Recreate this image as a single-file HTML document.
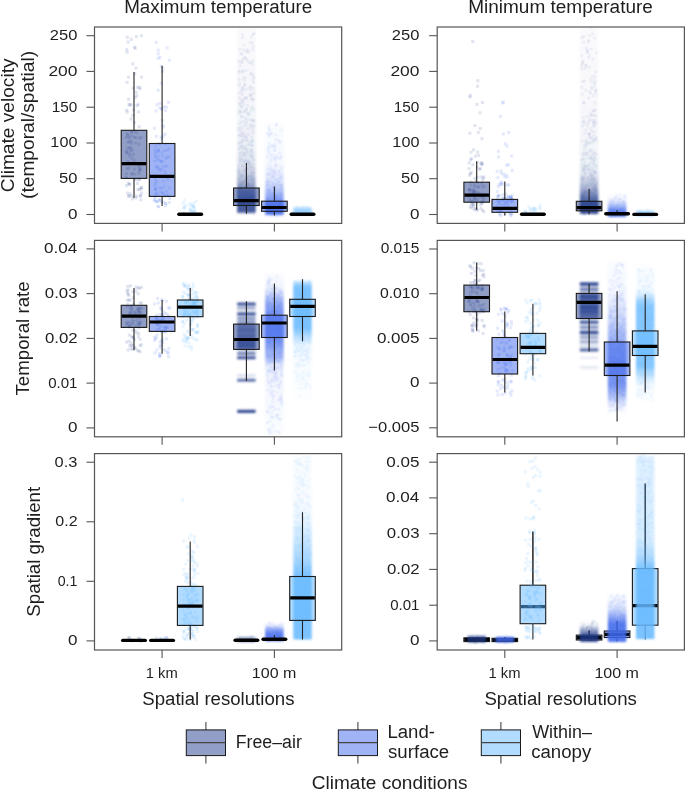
<!DOCTYPE html><html><head><meta charset="utf-8"><style>html,body{margin:0;padding:0;background:#fff;width:685px;height:790px;overflow:hidden}body{position:relative;font-family:"Liberation Sans",sans-serif}</style></head><body><svg width="685" height="790" viewBox="0 0 685 790" style="position:absolute;left:0;top:0;will-change:transform">
<defs>
<filter id="sb" x="-0.2" y="-0.05" width="1.4" height="1.1"><feGaussianBlur stdDeviation="0.9"/></filter>
<filter id="sp" x="-0.2" y="-0.05" width="1.4" height="1.1"><feGaussianBlur stdDeviation="0.45"/></filter>
<clipPath id="cp00"><rect x="94.5" y="27.0" width="247.2" height="196.4"/></clipPath>
<linearGradient id="g1" gradientUnits="userSpaceOnUse" x1="0" y1="27" x2="0" y2="214"><stop offset="0.0000" stop-color="#233d8d" stop-opacity="0.020"/><stop offset="0.1765" stop-color="#233d8d" stop-opacity="0.026"/><stop offset="0.3904" stop-color="#233d8d" stop-opacity="0.042"/><stop offset="0.6043" stop-color="#233d8d" stop-opacity="0.064"/><stop offset="0.6377" stop-color="#233d8d" stop-opacity="0.075"/><stop offset="0.7380" stop-color="#233d8d" stop-opacity="0.140"/><stop offset="0.8182" stop-color="#233d8d" stop-opacity="0.333"/><stop offset="0.8717" stop-color="#233d8d" stop-opacity="0.591"/><stop offset="0.9251" stop-color="#233d8d" stop-opacity="0.785"/><stop offset="0.9893" stop-color="#233d8d" stop-opacity="0.839"/><stop offset="0.9982" stop-color="#233d8d" stop-opacity="0.075"/><stop offset="1.0000" stop-color="#233d8d" stop-opacity="0.000"/></linearGradient>
<linearGradient id="g2" gradientUnits="userSpaceOnUse" x1="0" y1="122" x2="0" y2="216"><stop offset="0.0000" stop-color="#4169eb" stop-opacity="0.000"/><stop offset="0.0426" stop-color="#4169eb" stop-opacity="0.020"/><stop offset="0.4043" stop-color="#4169eb" stop-opacity="0.042"/><stop offset="0.4954" stop-color="#4169eb" stop-opacity="0.075"/><stop offset="0.6170" stop-color="#4169eb" stop-opacity="0.161"/><stop offset="0.7766" stop-color="#4169eb" stop-opacity="0.516"/><stop offset="0.8830" stop-color="#4169eb" stop-opacity="0.839"/><stop offset="0.9787" stop-color="#4169eb" stop-opacity="0.914"/><stop offset="0.9968" stop-color="#4169eb" stop-opacity="0.075"/><stop offset="1.0000" stop-color="#4169eb" stop-opacity="0.000"/></linearGradient>
<linearGradient id="g3" gradientUnits="userSpaceOnUse" x1="0" y1="206" x2="0" y2="215.5"><stop offset="0.0000" stop-color="#65b9ff" stop-opacity="0.000"/><stop offset="0.0670" stop-color="#65b9ff" stop-opacity="0.075"/><stop offset="0.2632" stop-color="#65b9ff" stop-opacity="0.516"/><stop offset="0.9474" stop-color="#65b9ff" stop-opacity="0.731"/><stop offset="0.9902" stop-color="#65b9ff" stop-opacity="0.075"/><stop offset="1.0000" stop-color="#65b9ff" stop-opacity="0.000"/></linearGradient>
<clipPath id="cp01"><rect x="437.2" y="27.0" width="247.2" height="196.4"/></clipPath>
<linearGradient id="g4" gradientUnits="userSpaceOnUse" x1="0" y1="27" x2="0" y2="214.5"><stop offset="0.0000" stop-color="#233d8d" stop-opacity="0.018"/><stop offset="0.3893" stop-color="#233d8d" stop-opacity="0.026"/><stop offset="0.6027" stop-color="#233d8d" stop-opacity="0.042"/><stop offset="0.7398" stop-color="#233d8d" stop-opacity="0.075"/><stop offset="0.7627" stop-color="#233d8d" stop-opacity="0.086"/><stop offset="0.8427" stop-color="#233d8d" stop-opacity="0.301"/><stop offset="0.8960" stop-color="#233d8d" stop-opacity="0.624"/><stop offset="0.9333" stop-color="#233d8d" stop-opacity="0.839"/><stop offset="0.9973" stop-color="#233d8d" stop-opacity="0.871"/><stop offset="0.9996" stop-color="#233d8d" stop-opacity="0.075"/><stop offset="1.0000" stop-color="#233d8d" stop-opacity="0.000"/></linearGradient>
<linearGradient id="g5" gradientUnits="userSpaceOnUse" x1="0" y1="194" x2="0" y2="217"><stop offset="0.0000" stop-color="#4169eb" stop-opacity="0.000"/><stop offset="0.1739" stop-color="#4169eb" stop-opacity="0.053"/><stop offset="0.2145" stop-color="#4169eb" stop-opacity="0.075"/><stop offset="0.4783" stop-color="#4169eb" stop-opacity="0.355"/><stop offset="0.6957" stop-color="#4169eb" stop-opacity="0.785"/><stop offset="0.9783" stop-color="#4169eb" stop-opacity="0.839"/><stop offset="0.9964" stop-color="#4169eb" stop-opacity="0.075"/><stop offset="1.0000" stop-color="#4169eb" stop-opacity="0.000"/></linearGradient>
<linearGradient id="g6" gradientUnits="userSpaceOnUse" x1="0" y1="210" x2="0" y2="216.5"><stop offset="0.0000" stop-color="#65b9ff" stop-opacity="0.000"/><stop offset="0.0538" stop-color="#65b9ff" stop-opacity="0.075"/><stop offset="0.2308" stop-color="#65b9ff" stop-opacity="0.570"/><stop offset="0.9231" stop-color="#65b9ff" stop-opacity="0.677"/><stop offset="0.9846" stop-color="#65b9ff" stop-opacity="0.075"/><stop offset="1.0000" stop-color="#65b9ff" stop-opacity="0.000"/></linearGradient>
<clipPath id="cp10"><rect x="94.5" y="240.4" width="247.2" height="196.4"/></clipPath>
<linearGradient id="g7" gradientUnits="userSpaceOnUse" x1="0" y1="272" x2="0" y2="436"><stop offset="0.0000" stop-color="#4169eb" stop-opacity="0.000"/><stop offset="0.0183" stop-color="#4169eb" stop-opacity="0.020"/><stop offset="0.0793" stop-color="#4169eb" stop-opacity="0.064"/><stop offset="0.0858" stop-color="#4169eb" stop-opacity="0.075"/><stop offset="0.1220" stop-color="#4169eb" stop-opacity="0.194"/><stop offset="0.1585" stop-color="#4169eb" stop-opacity="0.409"/><stop offset="0.2012" stop-color="#4169eb" stop-opacity="0.591"/><stop offset="0.2439" stop-color="#4169eb" stop-opacity="0.699"/><stop offset="0.4146" stop-color="#4169eb" stop-opacity="0.731"/><stop offset="0.4756" stop-color="#4169eb" stop-opacity="0.570"/><stop offset="0.5244" stop-color="#4169eb" stop-opacity="0.462"/><stop offset="0.5671" stop-color="#4169eb" stop-opacity="0.140"/><stop offset="0.6357" stop-color="#4169eb" stop-opacity="0.075"/><stop offset="0.6585" stop-color="#4169eb" stop-opacity="0.064"/><stop offset="0.7805" stop-color="#4169eb" stop-opacity="0.042"/><stop offset="0.9939" stop-color="#4169eb" stop-opacity="0.015"/><stop offset="1.0000" stop-color="#4169eb" stop-opacity="0.000"/></linearGradient>
<linearGradient id="g8" gradientUnits="userSpaceOnUse" x1="0" y1="279.5" x2="0" y2="400"><stop offset="0.0000" stop-color="#65b9ff" stop-opacity="0.000"/><stop offset="0.0065" stop-color="#65b9ff" stop-opacity="0.075"/><stop offset="0.0207" stop-color="#65b9ff" stop-opacity="0.409"/><stop offset="0.0622" stop-color="#65b9ff" stop-opacity="0.839"/><stop offset="0.4025" stop-color="#65b9ff" stop-opacity="0.839"/><stop offset="0.4606" stop-color="#65b9ff" stop-opacity="0.516"/><stop offset="0.5436" stop-color="#65b9ff" stop-opacity="0.140"/><stop offset="0.6183" stop-color="#65b9ff" stop-opacity="0.075"/><stop offset="0.6680" stop-color="#65b9ff" stop-opacity="0.053"/><stop offset="0.9585" stop-color="#65b9ff" stop-opacity="0.020"/><stop offset="1.0000" stop-color="#65b9ff" stop-opacity="0.000"/></linearGradient>
<clipPath id="cp11"><rect x="437.2" y="240.4" width="247.2" height="196.4"/></clipPath>
<linearGradient id="g9" gradientUnits="userSpaceOnUse" x1="0" y1="260" x2="0" y2="414"><stop offset="0.0000" stop-color="#4169eb" stop-opacity="0.000"/><stop offset="0.0130" stop-color="#4169eb" stop-opacity="0.015"/><stop offset="0.1948" stop-color="#4169eb" stop-opacity="0.053"/><stop offset="0.2273" stop-color="#4169eb" stop-opacity="0.075"/><stop offset="0.2597" stop-color="#4169eb" stop-opacity="0.118"/><stop offset="0.3896" stop-color="#4169eb" stop-opacity="0.269"/><stop offset="0.5195" stop-color="#4169eb" stop-opacity="0.516"/><stop offset="0.7532" stop-color="#4169eb" stop-opacity="0.731"/><stop offset="0.8117" stop-color="#4169eb" stop-opacity="0.677"/><stop offset="0.8766" stop-color="#4169eb" stop-opacity="0.462"/><stop offset="0.9286" stop-color="#4169eb" stop-opacity="0.194"/><stop offset="0.9580" stop-color="#4169eb" stop-opacity="0.075"/><stop offset="0.9740" stop-color="#4169eb" stop-opacity="0.042"/><stop offset="1.0000" stop-color="#4169eb" stop-opacity="0.000"/></linearGradient>
<linearGradient id="g10" gradientUnits="userSpaceOnUse" x1="0" y1="265" x2="0" y2="401"><stop offset="0.0000" stop-color="#65b9ff" stop-opacity="0.000"/><stop offset="0.0147" stop-color="#65b9ff" stop-opacity="0.031"/><stop offset="0.1691" stop-color="#65b9ff" stop-opacity="0.053"/><stop offset="0.1809" stop-color="#65b9ff" stop-opacity="0.075"/><stop offset="0.2132" stop-color="#65b9ff" stop-opacity="0.194"/><stop offset="0.2574" stop-color="#65b9ff" stop-opacity="0.570"/><stop offset="0.3015" stop-color="#65b9ff" stop-opacity="0.785"/><stop offset="0.7426" stop-color="#65b9ff" stop-opacity="0.785"/><stop offset="0.8088" stop-color="#65b9ff" stop-opacity="0.409"/><stop offset="0.8824" stop-color="#65b9ff" stop-opacity="0.086"/><stop offset="0.8915" stop-color="#65b9ff" stop-opacity="0.075"/><stop offset="0.9926" stop-color="#65b9ff" stop-opacity="0.015"/><stop offset="1.0000" stop-color="#65b9ff" stop-opacity="0.000"/></linearGradient>
<clipPath id="cp20"><rect x="94.5" y="453.6" width="247.2" height="196.4"/></clipPath>
<linearGradient id="g11" gradientUnits="userSpaceOnUse" x1="0" y1="636" x2="0" y2="642.5"><stop offset="0.0000" stop-color="#233d8d" stop-opacity="0.000"/><stop offset="0.0718" stop-color="#233d8d" stop-opacity="0.075"/><stop offset="0.2308" stop-color="#233d8d" stop-opacity="0.409"/><stop offset="0.8462" stop-color="#233d8d" stop-opacity="0.570"/><stop offset="0.9641" stop-color="#233d8d" stop-opacity="0.075"/><stop offset="1.0000" stop-color="#233d8d" stop-opacity="0.000"/></linearGradient>
<linearGradient id="g12" gradientUnits="userSpaceOnUse" x1="0" y1="622" x2="0" y2="641.8"><stop offset="0.0000" stop-color="#4169eb" stop-opacity="0.000"/><stop offset="0.1414" stop-color="#4169eb" stop-opacity="0.075"/><stop offset="0.1515" stop-color="#4169eb" stop-opacity="0.086"/><stop offset="0.4040" stop-color="#4169eb" stop-opacity="0.624"/><stop offset="0.6061" stop-color="#4169eb" stop-opacity="0.839"/><stop offset="0.9596" stop-color="#4169eb" stop-opacity="0.871"/><stop offset="0.9936" stop-color="#4169eb" stop-opacity="0.075"/><stop offset="1.0000" stop-color="#4169eb" stop-opacity="0.000"/></linearGradient>
<linearGradient id="g13" gradientUnits="userSpaceOnUse" x1="0" y1="455" x2="0" y2="640"><stop offset="0.0000" stop-color="#65b9ff" stop-opacity="0.000"/><stop offset="0.0054" stop-color="#65b9ff" stop-opacity="0.036"/><stop offset="0.2432" stop-color="#65b9ff" stop-opacity="0.053"/><stop offset="0.2865" stop-color="#65b9ff" stop-opacity="0.075"/><stop offset="0.3514" stop-color="#65b9ff" stop-opacity="0.140"/><stop offset="0.4595" stop-color="#65b9ff" stop-opacity="0.355"/><stop offset="0.5676" stop-color="#65b9ff" stop-opacity="0.570"/><stop offset="0.6486" stop-color="#65b9ff" stop-opacity="0.839"/><stop offset="0.9946" stop-color="#65b9ff" stop-opacity="0.839"/><stop offset="0.9991" stop-color="#65b9ff" stop-opacity="0.075"/><stop offset="1.0000" stop-color="#65b9ff" stop-opacity="0.000"/></linearGradient>
<clipPath id="cp21"><rect x="437.2" y="453.6" width="247.2" height="196.4"/></clipPath>
<linearGradient id="g14" gradientUnits="userSpaceOnUse" x1="0" y1="635" x2="0" y2="643"><stop offset="0.0000" stop-color="#233d8d" stop-opacity="0.000"/><stop offset="0.0350" stop-color="#233d8d" stop-opacity="0.075"/><stop offset="0.1875" stop-color="#233d8d" stop-opacity="0.731"/><stop offset="0.8750" stop-color="#233d8d" stop-opacity="0.731"/><stop offset="0.9767" stop-color="#233d8d" stop-opacity="0.075"/><stop offset="1.0000" stop-color="#233d8d" stop-opacity="0.000"/></linearGradient>
<linearGradient id="g15" gradientUnits="userSpaceOnUse" x1="0" y1="636" x2="0" y2="643"><stop offset="0.0000" stop-color="#4169eb" stop-opacity="0.000"/><stop offset="0.0353" stop-color="#4169eb" stop-opacity="0.075"/><stop offset="0.2143" stop-color="#4169eb" stop-opacity="0.839"/><stop offset="0.8571" stop-color="#4169eb" stop-opacity="0.839"/><stop offset="0.9765" stop-color="#4169eb" stop-opacity="0.075"/><stop offset="1.0000" stop-color="#4169eb" stop-opacity="0.000"/></linearGradient>
<linearGradient id="g16" gradientUnits="userSpaceOnUse" x1="0" y1="620" x2="0" y2="642"><stop offset="0.0000" stop-color="#233d8d" stop-opacity="0.000"/><stop offset="0.2273" stop-color="#233d8d" stop-opacity="0.053"/><stop offset="0.2500" stop-color="#233d8d" stop-opacity="0.075"/><stop offset="0.4545" stop-color="#233d8d" stop-opacity="0.462"/><stop offset="0.6818" stop-color="#233d8d" stop-opacity="0.785"/><stop offset="0.9773" stop-color="#233d8d" stop-opacity="0.839"/><stop offset="0.9963" stop-color="#233d8d" stop-opacity="0.075"/><stop offset="1.0000" stop-color="#233d8d" stop-opacity="0.000"/></linearGradient>
<linearGradient id="g17" gradientUnits="userSpaceOnUse" x1="0" y1="593" x2="0" y2="642"><stop offset="0.0000" stop-color="#4169eb" stop-opacity="0.000"/><stop offset="0.0408" stop-color="#4169eb" stop-opacity="0.026"/><stop offset="0.1510" stop-color="#4169eb" stop-opacity="0.075"/><stop offset="0.3469" stop-color="#4169eb" stop-opacity="0.247"/><stop offset="0.5102" stop-color="#4169eb" stop-opacity="0.624"/><stop offset="0.6327" stop-color="#4169eb" stop-opacity="0.871"/><stop offset="0.9898" stop-color="#4169eb" stop-opacity="0.871"/><stop offset="0.9984" stop-color="#4169eb" stop-opacity="0.075"/><stop offset="1.0000" stop-color="#4169eb" stop-opacity="0.000"/></linearGradient>
<linearGradient id="g18" gradientUnits="userSpaceOnUse" x1="0" y1="455" x2="0" y2="639.5"><stop offset="0.0000" stop-color="#65b9ff" stop-opacity="0.000"/><stop offset="0.0046" stop-color="#65b9ff" stop-opacity="0.075"/><stop offset="0.0081" stop-color="#65b9ff" stop-opacity="0.194"/><stop offset="0.4607" stop-color="#65b9ff" stop-opacity="0.269"/><stop offset="0.5583" stop-color="#65b9ff" stop-opacity="0.516"/><stop offset="0.6125" stop-color="#65b9ff" stop-opacity="0.839"/><stop offset="0.9973" stop-color="#65b9ff" stop-opacity="0.839"/><stop offset="0.9996" stop-color="#65b9ff" stop-opacity="0.075"/><stop offset="1.0000" stop-color="#65b9ff" stop-opacity="0.000"/></linearGradient>
</defs>
<line x1="86.5" y1="214.5" x2="94.5" y2="214.5" stroke="#555" stroke-width="1.1"/>
<line x1="86.5" y1="178.7" x2="94.5" y2="178.7" stroke="#555" stroke-width="1.1"/>
<line x1="86.5" y1="143.0" x2="94.5" y2="143.0" stroke="#555" stroke-width="1.1"/>
<line x1="86.5" y1="107.2" x2="94.5" y2="107.2" stroke="#555" stroke-width="1.1"/>
<line x1="86.5" y1="71.4" x2="94.5" y2="71.4" stroke="#555" stroke-width="1.1"/>
<line x1="86.5" y1="35.7" x2="94.5" y2="35.7" stroke="#555" stroke-width="1.1"/>
<line x1="162.1" y1="223.4" x2="162.1" y2="231.4" stroke="#555" stroke-width="1.1"/>
<line x1="274.4" y1="223.4" x2="274.4" y2="231.4" stroke="#555" stroke-width="1.1"/>
<g clip-path="url(#cp00)">
<g filter="url(#sb)">
<rect x="237.1" y="27.0" width="18.6" height="187.0" fill="url(#g1)" rx="1.5"/>
<rect x="265.1" y="122.0" width="18.6" height="94.0" fill="url(#g2)" rx="1.5"/>
<rect x="293.2" y="206.0" width="18.6" height="9.5" fill="url(#g3)" rx="1.5"/>
</g>
<g filter="url(#sp)">
<g fill="#233d8d" fill-opacity="0.14"><rect x="129.8" y="37.9" width="3" height="3"/><rect x="134.9" y="35.1" width="3" height="3"/><rect x="133.1" y="45.7" width="3" height="3"/><rect x="125.6" y="50.8" width="3" height="3"/><rect x="125.3" y="48.1" width="3" height="3"/><rect x="125.8" y="35.8" width="3" height="3"/><rect x="131.3" y="62.3" width="3" height="3"/><rect x="126.6" y="40.5" width="3" height="3"/><rect x="134.5" y="66.6" width="3" height="3"/><rect x="133.7" y="46.8" width="3" height="3"/><rect x="139.9" y="34.2" width="3" height="3"/><rect x="138.1" y="85.9" width="3" height="3"/><rect x="127.0" y="75.6" width="3" height="3"/><rect x="129.5" y="117.5" width="3" height="3"/><rect x="127.5" y="103.4" width="3" height="3"/><rect x="134.7" y="90.8" width="3" height="3"/><rect x="133.2" y="72.3" width="3" height="3"/><rect x="125.6" y="80.9" width="3" height="3"/><rect x="135.3" y="94.2" width="3" height="3"/><rect x="129.6" y="103.6" width="3" height="3"/><rect x="131.8" y="86.5" width="3" height="3"/><rect x="137.1" y="110.4" width="3" height="3"/><rect x="128.5" y="103.0" width="3" height="3"/><rect x="132.9" y="121.0" width="3" height="3"/><rect x="136.1" y="85.8" width="3" height="3"/><rect x="140.0" y="75.6" width="3" height="3"/><rect x="131.2" y="113.9" width="3" height="3"/><rect x="127.1" y="97.8" width="3" height="3"/><rect x="125.3" y="108.6" width="3" height="3"/><rect x="136.6" y="102.9" width="3" height="3"/><rect x="138.4" y="87.3" width="3" height="3"/><rect x="135.5" y="104.2" width="3" height="3"/><rect x="133.7" y="95.9" width="3" height="3"/><rect x="137.8" y="125.2" width="3" height="3"/><rect x="132.1" y="108.3" width="3" height="3"/><rect x="125.6" y="110.6" width="3" height="3"/><rect x="134.8" y="178.2" width="3" height="3"/><rect x="137.5" y="142.7" width="3" height="3"/><rect x="130.7" y="161.9" width="3" height="3"/><rect x="125.1" y="151.6" width="3" height="3"/><rect x="127.3" y="134.4" width="3" height="3"/><rect x="125.6" y="166.9" width="3" height="3"/><rect x="126.7" y="140.9" width="3" height="3"/><rect x="130.8" y="172.1" width="3" height="3"/><rect x="126.0" y="151.0" width="3" height="3"/><rect x="133.3" y="172.7" width="3" height="3"/><rect x="137.5" y="171.7" width="3" height="3"/><rect x="129.0" y="149.3" width="3" height="3"/><rect x="130.3" y="172.7" width="3" height="3"/><rect x="139.6" y="136.0" width="3" height="3"/><rect x="127.4" y="140.1" width="3" height="3"/><rect x="128.3" y="152.7" width="3" height="3"/><rect x="133.9" y="141.6" width="3" height="3"/><rect x="124.8" y="149.4" width="3" height="3"/><rect x="130.5" y="156.8" width="3" height="3"/><rect x="139.6" y="163.0" width="3" height="3"/><rect x="132.7" y="159.4" width="3" height="3"/><rect x="135.2" y="131.2" width="3" height="3"/><rect x="138.7" y="167.5" width="3" height="3"/><rect x="138.3" y="168.4" width="3" height="3"/><rect x="130.8" y="148.4" width="3" height="3"/><rect x="126.3" y="160.2" width="3" height="3"/><rect x="125.7" y="131.9" width="3" height="3"/><rect x="128.0" y="136.6" width="3" height="3"/><rect x="130.0" y="131.1" width="3" height="3"/><rect x="124.7" y="136.1" width="3" height="3"/><rect x="126.3" y="146.7" width="3" height="3"/><rect x="125.1" y="172.2" width="3" height="3"/><rect x="134.3" y="135.9" width="3" height="3"/><rect x="128.6" y="145.9" width="3" height="3"/><rect x="130.4" y="134.6" width="3" height="3"/><rect x="137.9" y="178.2" width="3" height="3"/><rect x="132.0" y="152.7" width="3" height="3"/><rect x="126.0" y="133.6" width="3" height="3"/><rect x="130.0" y="141.7" width="3" height="3"/><rect x="137.6" y="136.6" width="3" height="3"/><rect x="125.1" y="176.0" width="3" height="3"/><rect x="132.9" y="135.8" width="3" height="3"/><rect x="133.2" y="129.9" width="3" height="3"/><rect x="132.9" y="177.4" width="3" height="3"/><rect x="138.2" y="163.3" width="3" height="3"/><rect x="128.8" y="146.8" width="3" height="3"/><rect x="127.3" y="167.1" width="3" height="3"/><rect x="133.0" y="167.5" width="3" height="3"/><rect x="129.8" y="139.7" width="3" height="3"/><rect x="137.4" y="177.7" width="3" height="3"/><rect x="138.0" y="168.8" width="3" height="3"/><rect x="137.5" y="165.5" width="3" height="3"/><rect x="128.2" y="154.4" width="3" height="3"/><rect x="130.2" y="129.9" width="3" height="3"/><rect x="125.1" y="184.1" width="3" height="3"/><rect x="128.7" y="192.4" width="3" height="3"/><rect x="139.6" y="187.4" width="3" height="3"/><rect x="139.3" y="198.3" width="3" height="3"/><rect x="139.6" y="185.8" width="3" height="3"/><rect x="128.1" y="183.0" width="3" height="3"/><rect x="127.8" y="182.6" width="3" height="3"/><rect x="134.4" y="196.5" width="3" height="3"/><rect x="137.8" y="188.1" width="3" height="3"/><rect x="134.9" y="194.5" width="3" height="3"/><rect x="126.0" y="191.7" width="3" height="3"/><rect x="138.9" y="194.1" width="3" height="3"/><rect x="136.4" y="188.1" width="3" height="3"/><rect x="127.5" y="194.3" width="3" height="3"/><rect x="129.9" y="194.5" width="3" height="3"/><rect x="139.9" y="186.4" width="3" height="3"/><rect x="131.0" y="197.4" width="3" height="3"/><rect x="136.0" y="181.9" width="3" height="3"/><rect x="126.7" y="181.5" width="3" height="3"/><rect x="138.8" y="194.6" width="3" height="3"/><rect x="127.0" y="195.0" width="3" height="3"/><rect x="140.0" y="191.6" width="3" height="3"/></g>
<g fill="#4169eb" fill-opacity="0.14"><rect x="158.3" y="55.9" width="3" height="3"/><rect x="154.8" y="40.9" width="3" height="3"/><rect x="167.9" y="58.7" width="3" height="3"/><rect x="161.0" y="66.6" width="3" height="3"/><rect x="159.6" y="64.9" width="3" height="3"/><rect x="165.7" y="46.4" width="3" height="3"/><rect x="156.7" y="48.7" width="3" height="3"/><rect x="156.6" y="56.9" width="3" height="3"/><rect x="156.8" y="52.2" width="3" height="3"/><rect x="154.8" y="134.9" width="3" height="3"/><rect x="158.3" y="101.9" width="3" height="3"/><rect x="161.9" y="134.5" width="3" height="3"/><rect x="159.4" y="135.5" width="3" height="3"/><rect x="160.6" y="107.3" width="3" height="3"/><rect x="161.0" y="69.9" width="3" height="3"/><rect x="159.7" y="81.9" width="3" height="3"/><rect x="152.9" y="126.8" width="3" height="3"/><rect x="155.5" y="103.1" width="3" height="3"/><rect x="164.1" y="109.1" width="3" height="3"/><rect x="157.9" y="106.3" width="3" height="3"/><rect x="161.5" y="125.8" width="3" height="3"/><rect x="154.5" y="109.4" width="3" height="3"/><rect x="156.7" y="88.7" width="3" height="3"/><rect x="164.8" y="105.6" width="3" height="3"/><rect x="161.6" y="124.0" width="3" height="3"/><rect x="167.0" y="100.9" width="3" height="3"/><rect x="162.4" y="105.4" width="3" height="3"/><rect x="160.8" y="119.1" width="3" height="3"/><rect x="159.9" y="107.4" width="3" height="3"/><rect x="160.3" y="137.2" width="3" height="3"/><rect x="163.7" y="132.5" width="3" height="3"/><rect x="167.5" y="155.5" width="3" height="3"/><rect x="161.5" y="192.4" width="3" height="3"/><rect x="165.9" y="148.9" width="3" height="3"/><rect x="154.7" y="165.4" width="3" height="3"/><rect x="153.9" y="154.5" width="3" height="3"/><rect x="153.9" y="177.7" width="3" height="3"/><rect x="165.0" y="189.9" width="3" height="3"/><rect x="155.2" y="180.2" width="3" height="3"/><rect x="163.1" y="149.2" width="3" height="3"/><rect x="166.6" y="193.7" width="3" height="3"/><rect x="156.2" y="192.9" width="3" height="3"/><rect x="159.0" y="167.8" width="3" height="3"/><rect x="168.2" y="186.5" width="3" height="3"/><rect x="155.3" y="164.8" width="3" height="3"/><rect x="160.8" y="159.8" width="3" height="3"/><rect x="155.9" y="158.7" width="3" height="3"/><rect x="164.1" y="142.6" width="3" height="3"/><rect x="161.4" y="165.3" width="3" height="3"/><rect x="153.1" y="159.4" width="3" height="3"/><rect x="162.5" y="169.2" width="3" height="3"/><rect x="153.8" y="194.7" width="3" height="3"/><rect x="165.1" y="194.0" width="3" height="3"/><rect x="154.4" y="155.8" width="3" height="3"/><rect x="153.4" y="183.6" width="3" height="3"/><rect x="157.0" y="148.5" width="3" height="3"/><rect x="159.4" y="190.7" width="3" height="3"/><rect x="165.6" y="155.5" width="3" height="3"/><rect x="155.1" y="191.1" width="3" height="3"/><rect x="161.7" y="179.3" width="3" height="3"/><rect x="154.2" y="144.6" width="3" height="3"/><rect x="163.5" y="164.5" width="3" height="3"/><rect x="153.9" y="192.2" width="3" height="3"/><rect x="162.7" y="184.8" width="3" height="3"/><rect x="154.1" y="187.7" width="3" height="3"/><rect x="153.8" y="188.1" width="3" height="3"/><rect x="159.9" y="159.8" width="3" height="3"/><rect x="161.4" y="191.5" width="3" height="3"/><rect x="157.0" y="148.5" width="3" height="3"/><rect x="161.0" y="154.4" width="3" height="3"/><rect x="154.5" y="150.2" width="3" height="3"/><rect x="153.6" y="152.4" width="3" height="3"/><rect x="157.7" y="158.0" width="3" height="3"/><rect x="164.6" y="157.2" width="3" height="3"/><rect x="160.6" y="151.1" width="3" height="3"/><rect x="158.2" y="142.5" width="3" height="3"/><rect x="156.7" y="142.3" width="3" height="3"/><rect x="164.2" y="171.3" width="3" height="3"/><rect x="155.8" y="167.1" width="3" height="3"/><rect x="167.4" y="147.2" width="3" height="3"/><rect x="165.6" y="164.8" width="3" height="3"/><rect x="160.5" y="186.6" width="3" height="3"/><rect x="158.9" y="168.9" width="3" height="3"/><rect x="163.5" y="194.6" width="3" height="3"/><rect x="158.1" y="186.4" width="3" height="3"/><rect x="163.8" y="175.8" width="3" height="3"/><rect x="159.1" y="160.3" width="3" height="3"/><rect x="153.6" y="148.5" width="3" height="3"/><rect x="153.9" y="181.5" width="3" height="3"/><rect x="156.8" y="150.3" width="3" height="3"/><rect x="154.1" y="186.9" width="3" height="3"/><rect x="166.4" y="177.7" width="3" height="3"/><rect x="157.2" y="154.6" width="3" height="3"/><rect x="157.4" y="166.3" width="3" height="3"/><rect x="155.3" y="200.0" width="3" height="3"/><rect x="156.9" y="205.1" width="3" height="3"/><rect x="168.0" y="201.0" width="3" height="3"/><rect x="156.6" y="205.2" width="3" height="3"/><rect x="157.6" y="199.1" width="3" height="3"/><rect x="152.8" y="199.3" width="3" height="3"/><rect x="160.2" y="200.5" width="3" height="3"/><rect x="155.9" y="200.5" width="3" height="3"/><rect x="152.9" y="198.1" width="3" height="3"/><rect x="154.2" y="199.5" width="3" height="3"/><rect x="153.5" y="195.7" width="3" height="3"/><rect x="157.5" y="197.8" width="3" height="3"/><rect x="161.9" y="200.8" width="3" height="3"/><rect x="164.5" y="202.1" width="3" height="3"/><rect x="164.0" y="204.3" width="3" height="3"/><rect x="158.9" y="198.8" width="3" height="3"/><rect x="168.2" y="197.0" width="3" height="3"/><rect x="164.1" y="201.9" width="3" height="3"/></g>
<g fill="#65b9ff" fill-opacity="0.14"><rect x="181.6" y="201.9" width="3" height="3"/><rect x="194.8" y="199.8" width="3" height="3"/><rect x="192.3" y="201.6" width="3" height="3"/><rect x="183.1" y="198.7" width="3" height="3"/><rect x="188.8" y="201.8" width="3" height="3"/><rect x="193.5" y="210.9" width="3" height="3"/><rect x="190.0" y="211.5" width="3" height="3"/><rect x="191.6" y="209.7" width="3" height="3"/><rect x="184.5" y="203.8" width="3" height="3"/><rect x="183.0" y="206.7" width="3" height="3"/><rect x="182.5" y="211.0" width="3" height="3"/><rect x="189.6" y="209.1" width="3" height="3"/><rect x="190.7" y="209.6" width="3" height="3"/><rect x="188.5" y="203.5" width="3" height="3"/><rect x="193.3" y="210.2" width="3" height="3"/><rect x="188.7" y="208.3" width="3" height="3"/><rect x="191.2" y="204.1" width="3" height="3"/><rect x="192.4" y="205.8" width="3" height="3"/><rect x="182.1" y="205.9" width="3" height="3"/><rect x="192.3" y="205.3" width="3" height="3"/><rect x="192.4" y="212.3" width="3" height="3"/><rect x="188.6" y="206.9" width="3" height="3"/><rect x="188.4" y="209.7" width="3" height="3"/><rect x="192.9" y="209.1" width="3" height="3"/><rect x="190.9" y="204.2" width="3" height="3"/><rect x="183.2" y="205.8" width="3" height="3"/><rect x="192.5" y="206.2" width="3" height="3"/></g>
<path fill="#233d8d" fill-opacity="0.05" d="M252.4 32.0h3v3h-3zM249.9 35.3h3v3h-3zM251.2 41.6h3v3h-3zM251.3 48.0h3v3h-3zM241.6 48.5h3v3h-3zM245.8 50.2h3v3h-3zM243.6 56.3h3v3h-3zM241.3 58.1h3v3h-3zM246.3 59.5h3v3h-3zM247.7 61.0h3v3h-3zM238.8 64.5h3v3h-3zM237.4 69.7h3v3h-3zM249.5 71.9h3v3h-3zM243.2 76.1h3v3h-3zM251.7 78.4h3v3h-3zM252.1 81.1h3v3h-3zM243.5 83.9h3v3h-3zM248.3 86.2h3v3h-3zM240.7 86.7h3v3h-3zM249.2 88.3h3v3h-3zM252.4 91.4h3v3h-3zM248.8 93.4h3v3h-3zM243.3 96.5h3v3h-3zM250.2 97.0h3v3h-3zM241.2 98.4h3v3h-3zM240.3 100.5h3v3h-3zM238.5 103.1h3v3h-3zM240.2 105.4h3v3h-3zM239.6 106.0h3v3h-3zM244.8 108.4h3v3h-3zM243.2 109.5h3v3h-3zM240.5 110.2h3v3h-3zM237.7 111.4h3v3h-3zM240.8 114.9h3v3h-3zM248.5 117.9h3v3h-3zM252.4 119.2h3v3h-3zM239.6 120.4h3v3h-3zM249.3 123.6h3v3h-3zM250.9 124.1h3v3h-3zM239.9 125.9h3v3h-3zM239.4 127.3h3v3h-3zM240.3 130.8h3v3h-3zM247.2 132.8h3v3h-3zM237.8 133.3h3v3h-3zM245.0 134.8h3v3h-3zM244.4 136.4h3v3h-3zM243.9 138.9h3v3h-3zM241.2 139.1h3v3h-3zM246.9 139.8h3v3h-3zM240.4 140.8h3v3h-3zM247.9 142.8h3v3h-3zM250.6 144.0h3v3h-3zM238.6 145.4h3v3h-3zM242.1 147.0h3v3h-3zM245.5 147.6h3v3h-3zM249.5 149.6h3v3h-3zM247.0 151.0h3v3h-3zM238.4 151.9h3v3h-3zM242.2 154.1h3v3h-3zM239.1 154.7h3v3h-3zM239.6 157.2h3v3h-3zM240.2 158.8h3v3h-3zM244.3 159.6h3v3h-3zM243.7 160.1h3v3h-3zM238.6 160.7h3v3h-3zM246.8 161.2h3v3h-3zM245.6 162.1h3v3h-3zM247.1 162.9h3v3h-3zM241.4 164.2h3v3h-3zM248.7 165.0h3v3h-3zM252.1 166.7h3v3h-3zM250.1 167.2h3v3h-3zM243.8 169.8h3v3h-3zM237.3 171.0h3v3h-3zM251.0 174.3h3v3h-3zM250.9 174.8h3v3h-3zM244.8 175.7h3v3h-3zM252.1 176.5h3v3h-3zM244.7 177.9h3v3h-3zM249.1 178.6h3v3h-3zM252.3 180.3h3v3h-3zM250.9 181.3h3v3h-3zM246.9 182.8h3v3h-3zM237.7 183.9h3v3h-3zM242.1 184.7h3v3h-3zM237.3 185.7h3v3h-3zM240.4 186.1h3v3h-3zM237.9 189.4h3v3h-3zM241.1 190.0h3v3h-3zM242.8 191.8h3v3h-3zM249.4 193.5h3v3h-3zM252.3 194.4h3v3h-3zM237.1 195.6h3v3h-3zM247.8 197.5h3v3h-3zM246.6 198.3h3v3h-3zM249.1 199.1h3v3h-3zM239.9 199.9h3v3h-3zM239.5 201.8h3v3h-3zM243.7 203.0h3v3h-3zM251.9 205.5h3v3h-3zM243.2 206.2h3v3h-3zM250.2 207.5h3v3h-3zM251.8 208.3h3v3h-3zM248.3 211.1h3v3h-3z"/>
<path fill="#233d8d" fill-opacity="0.05" d="M241.3 33.1h3v3h-3zM240.7 35.9h3v3h-3zM242.7 43.2h3v3h-3zM245.7 47.9h3v3h-3zM244.5 49.2h3v3h-3zM240.5 52.5h3v3h-3zM243.0 56.2h3v3h-3zM237.6 59.9h3v3h-3zM241.0 60.6h3v3h-3zM249.0 61.2h3v3h-3zM244.5 69.1h3v3h-3zM241.1 70.3h3v3h-3zM249.9 73.1h3v3h-3zM252.3 76.1h3v3h-3zM237.6 78.3h3v3h-3zM237.9 82.2h3v3h-3zM237.6 84.0h3v3h-3zM241.4 86.0h3v3h-3zM241.0 87.2h3v3h-3zM242.2 88.2h3v3h-3zM238.4 91.5h3v3h-3zM250.2 93.6h3v3h-3zM245.0 96.1h3v3h-3zM237.7 96.6h3v3h-3zM251.9 98.1h3v3h-3zM242.0 101.6h3v3h-3zM241.5 103.7h3v3h-3zM240.3 105.0h3v3h-3zM251.3 106.5h3v3h-3zM252.2 108.1h3v3h-3zM249.4 109.6h3v3h-3zM239.0 110.6h3v3h-3zM246.9 112.2h3v3h-3zM239.9 115.2h3v3h-3zM245.0 118.2h3v3h-3zM252.0 119.5h3v3h-3zM244.9 121.5h3v3h-3zM245.4 123.8h3v3h-3zM249.5 124.6h3v3h-3zM247.1 127.0h3v3h-3zM251.1 127.6h3v3h-3zM251.7 131.1h3v3h-3zM242.6 132.8h3v3h-3zM238.0 133.9h3v3h-3zM241.9 135.2h3v3h-3zM244.2 136.1h3v3h-3zM245.3 138.6h3v3h-3zM250.8 139.7h3v3h-3zM250.2 140.3h3v3h-3zM238.3 141.0h3v3h-3zM246.3 143.2h3v3h-3zM240.3 144.1h3v3h-3zM240.3 145.2h3v3h-3zM237.6 147.2h3v3h-3zM249.9 148.1h3v3h-3zM250.1 150.1h3v3h-3zM242.6 151.7h3v3h-3zM250.9 153.6h3v3h-3zM250.3 154.3h3v3h-3zM250.9 154.6h3v3h-3zM252.1 158.1h3v3h-3zM238.8 158.6h3v3h-3zM246.5 159.7h3v3h-3zM247.1 160.7h3v3h-3zM249.3 160.9h3v3h-3zM247.3 161.9h3v3h-3zM246.1 162.8h3v3h-3zM251.9 163.1h3v3h-3zM237.3 164.2h3v3h-3zM249.6 165.2h3v3h-3zM247.1 166.9h3v3h-3zM243.0 167.6h3v3h-3zM251.6 170.4h3v3h-3zM251.9 171.3h3v3h-3zM247.9 174.8h3v3h-3zM241.2 174.6h3v3h-3zM250.2 176.2h3v3h-3zM247.0 176.8h3v3h-3zM237.6 177.9h3v3h-3zM245.7 179.4h3v3h-3zM242.0 180.6h3v3h-3zM240.1 182.5h3v3h-3zM246.4 182.8h3v3h-3zM249.9 184.4h3v3h-3zM246.0 185.0h3v3h-3zM246.3 186.0h3v3h-3zM252.2 187.5h3v3h-3zM246.9 189.9h3v3h-3zM237.3 190.3h3v3h-3zM243.9 191.8h3v3h-3zM238.0 194.0h3v3h-3zM243.8 194.9h3v3h-3zM249.8 196.4h3v3h-3zM242.5 197.0h3v3h-3zM244.4 198.1h3v3h-3zM244.5 199.8h3v3h-3zM243.4 200.3h3v3h-3zM237.4 202.0h3v3h-3zM249.1 202.9h3v3h-3zM238.1 205.3h3v3h-3zM239.6 206.5h3v3h-3zM249.4 207.9h3v3h-3zM248.9 208.6h3v3h-3zM251.7 212.4h3v3h-3z"/>
<path fill="#233d8d" fill-opacity="0.05" d="M251.9 33.1h3v3h-3zM248.8 40.9h3v3h-3zM251.7 45.1h3v3h-3zM237.9 47.9h3v3h-3zM247.3 50.2h3v3h-3zM239.3 52.6h3v3h-3zM245.0 57.8h3v3h-3zM251.1 59.7h3v3h-3zM239.5 60.8h3v3h-3zM251.5 62.8h3v3h-3zM241.0 69.5h3v3h-3zM237.6 70.7h3v3h-3zM252.0 74.2h3v3h-3zM242.2 78.1h3v3h-3zM243.0 78.2h3v3h-3zM242.9 82.5h3v3h-3zM248.8 84.9h3v3h-3zM251.8 86.5h3v3h-3zM244.8 87.5h3v3h-3zM240.2 89.4h3v3h-3zM240.8 92.7h3v3h-3zM248.6 94.1h3v3h-3zM244.5 96.9h3v3h-3zM250.6 98.2h3v3h-3zM240.5 98.7h3v3h-3zM238.1 102.1h3v3h-3zM245.9 104.2h3v3h-3zM249.9 105.7h3v3h-3zM245.0 107.1h3v3h-3zM237.9 109.5h3v3h-3zM243.4 109.9h3v3h-3zM245.9 111.4h3v3h-3zM247.4 113.2h3v3h-3zM244.0 116.8h3v3h-3zM250.5 119.0h3v3h-3zM242.6 120.4h3v3h-3zM237.7 122.6h3v3h-3zM242.7 123.9h3v3h-3zM252.6 124.8h3v3h-3zM237.1 127.0h3v3h-3zM237.1 128.7h3v3h-3zM241.2 132.5h3v3h-3zM241.0 133.5h3v3h-3zM240.2 134.8h3v3h-3zM250.3 136.4h3v3h-3zM241.2 138.8h3v3h-3zM250.8 139.0h3v3h-3zM240.8 140.0h3v3h-3zM250.5 140.2h3v3h-3zM237.5 142.5h3v3h-3zM249.9 143.4h3v3h-3zM241.6 145.0h3v3h-3zM243.7 145.0h3v3h-3zM243.9 147.4h3v3h-3zM244.8 149.7h3v3h-3zM240.4 150.8h3v3h-3zM243.3 151.9h3v3h-3zM244.3 153.8h3v3h-3zM248.7 154.1h3v3h-3zM250.3 155.6h3v3h-3zM243.1 158.5h3v3h-3zM243.3 159.4h3v3h-3zM246.1 160.4h3v3h-3zM242.0 160.8h3v3h-3zM246.9 160.6h3v3h-3zM243.2 161.7h3v3h-3zM248.3 162.8h3v3h-3zM249.0 163.6h3v3h-3zM241.2 164.6h3v3h-3zM245.9 166.6h3v3h-3zM245.7 167.1h3v3h-3zM237.1 168.4h3v3h-3zM250.1 171.3h3v3h-3zM239.5 174.0h3v3h-3zM248.7 174.7h3v3h-3zM239.3 174.7h3v3h-3zM245.9 176.3h3v3h-3zM252.4 177.8h3v3h-3zM250.5 178.2h3v3h-3zM241.3 180.3h3v3h-3zM237.7 181.4h3v3h-3zM246.6 182.8h3v3h-3zM238.7 183.6h3v3h-3zM245.9 184.1h3v3h-3zM239.0 185.4h3v3h-3zM238.7 186.3h3v3h-3zM237.4 188.4h3v3h-3zM244.3 190.0h3v3h-3zM242.0 190.9h3v3h-3zM247.2 192.8h3v3h-3zM248.1 193.9h3v3h-3zM246.5 195.4h3v3h-3zM250.4 197.4h3v3h-3zM245.7 197.4h3v3h-3zM238.5 199.4h3v3h-3zM240.1 199.6h3v3h-3zM247.0 201.9h3v3h-3zM241.2 202.9h3v3h-3zM237.7 203.1h3v3h-3zM252.1 205.6h3v3h-3zM252.6 206.1h3v3h-3zM239.4 208.4h3v3h-3zM239.0 209.2h3v3h-3z"/>
<path fill="#4169eb" fill-opacity="0.05" d="M274.9 122.7h3v3h-3zM267.7 127.7h3v3h-3zM269.6 131.9h3v3h-3zM267.3 132.5h3v3h-3zM268.2 134.5h3v3h-3zM278.2 139.9h3v3h-3zM273.2 142.7h3v3h-3zM273.1 145.3h3v3h-3zM266.6 146.8h3v3h-3zM272.9 149.1h3v3h-3zM271.3 153.5h3v3h-3zM280.0 155.0h3v3h-3zM271.9 155.3h3v3h-3zM275.1 156.6h3v3h-3zM269.9 158.3h3v3h-3zM274.0 163.3h3v3h-3zM274.2 165.5h3v3h-3zM266.1 167.4h3v3h-3zM270.4 168.7h3v3h-3zM272.5 169.4h3v3h-3zM271.6 170.4h3v3h-3zM271.1 171.7h3v3h-3zM274.2 172.0h3v3h-3zM265.8 173.3h3v3h-3zM271.2 173.7h3v3h-3zM280.1 175.2h3v3h-3zM270.1 176.0h3v3h-3zM269.6 176.8h3v3h-3zM265.8 177.7h3v3h-3zM269.2 179.8h3v3h-3zM266.7 180.1h3v3h-3zM270.6 181.1h3v3h-3zM274.8 183.1h3v3h-3zM280.1 184.2h3v3h-3zM280.3 187.1h3v3h-3zM268.1 188.6h3v3h-3zM270.6 192.4h3v3h-3zM279.1 193.8h3v3h-3zM274.0 195.7h3v3h-3zM272.9 197.1h3v3h-3zM267.2 199.1h3v3h-3zM267.9 200.6h3v3h-3zM265.7 202.2h3v3h-3zM278.1 203.9h3v3h-3zM275.9 205.7h3v3h-3zM274.9 207.2h3v3h-3zM276.1 208.4h3v3h-3zM268.2 209.2h3v3h-3zM278.9 210.6h3v3h-3zM269.6 212.2h3v3h-3zM270.2 212.7h3v3h-3zM273.9 214.1h3v3h-3z"/>
<path fill="#4169eb" fill-opacity="0.05" d="M274.9 123.6h3v3h-3zM280.4 128.5h3v3h-3zM266.0 131.9h3v3h-3zM268.0 133.2h3v3h-3zM274.2 138.1h3v3h-3zM278.7 141.1h3v3h-3zM270.1 144.4h3v3h-3zM273.5 145.0h3v3h-3zM273.3 148.4h3v3h-3zM267.4 151.3h3v3h-3zM268.8 153.7h3v3h-3zM269.0 154.7h3v3h-3zM277.7 156.9h3v3h-3zM273.6 157.5h3v3h-3zM269.3 159.2h3v3h-3zM268.2 163.4h3v3h-3zM268.8 166.3h3v3h-3zM271.2 167.7h3v3h-3zM273.2 169.4h3v3h-3zM278.7 169.5h3v3h-3zM278.7 170.3h3v3h-3zM268.0 172.2h3v3h-3zM278.2 173.0h3v3h-3zM280.7 173.8h3v3h-3zM279.9 174.3h3v3h-3zM272.0 175.3h3v3h-3zM279.1 176.3h3v3h-3zM273.0 176.6h3v3h-3zM275.9 178.0h3v3h-3zM267.0 180.1h3v3h-3zM277.7 180.5h3v3h-3zM272.1 182.7h3v3h-3zM265.8 183.5h3v3h-3zM271.2 184.9h3v3h-3zM273.4 187.7h3v3h-3zM267.5 190.4h3v3h-3zM279.9 192.8h3v3h-3zM274.6 194.1h3v3h-3zM271.2 195.5h3v3h-3zM267.1 198.4h3v3h-3zM271.5 200.3h3v3h-3zM279.3 200.9h3v3h-3zM278.2 202.8h3v3h-3zM268.9 205.1h3v3h-3zM276.8 205.9h3v3h-3zM265.9 207.3h3v3h-3zM269.0 209.0h3v3h-3zM268.9 210.3h3v3h-3zM277.8 211.3h3v3h-3zM268.3 212.0h3v3h-3zM270.8 212.6h3v3h-3z"/>
<path fill="#4169eb" fill-opacity="0.05" d="M267.4 125.4h3v3h-3zM268.4 129.2h3v3h-3zM269.7 132.0h3v3h-3zM274.0 133.6h3v3h-3zM276.4 139.0h3v3h-3zM267.7 142.2h3v3h-3zM271.0 144.4h3v3h-3zM267.9 145.6h3v3h-3zM267.0 149.2h3v3h-3zM278.0 152.0h3v3h-3zM265.9 154.8h3v3h-3zM275.0 154.7h3v3h-3zM278.9 156.5h3v3h-3zM273.2 157.7h3v3h-3zM273.4 159.1h3v3h-3zM274.7 163.7h3v3h-3zM280.5 166.6h3v3h-3zM268.6 168.5h3v3h-3zM276.7 169.4h3v3h-3zM277.0 169.8h3v3h-3zM272.2 170.9h3v3h-3zM267.4 172.3h3v3h-3zM268.3 172.7h3v3h-3zM273.2 173.8h3v3h-3zM270.9 174.7h3v3h-3zM277.8 175.6h3v3h-3zM277.9 176.5h3v3h-3zM280.6 177.8h3v3h-3zM274.2 178.8h3v3h-3zM276.9 180.1h3v3h-3zM265.3 180.9h3v3h-3zM266.0 182.9h3v3h-3zM279.1 183.9h3v3h-3zM272.7 185.9h3v3h-3zM267.0 188.4h3v3h-3zM272.0 191.9h3v3h-3zM268.6 192.7h3v3h-3zM273.1 194.8h3v3h-3zM275.4 196.6h3v3h-3zM278.9 199.4h3v3h-3zM276.0 200.1h3v3h-3zM265.7 201.1h3v3h-3zM271.9 203.3h3v3h-3zM277.4 205.1h3v3h-3zM276.6 207.4h3v3h-3zM279.6 207.6h3v3h-3zM270.7 209.2h3v3h-3zM272.0 210.5h3v3h-3zM275.5 211.8h3v3h-3zM269.5 212.1h3v3h-3zM276.3 214.5h3v3h-3z"/>
<path fill="#65b9ff" fill-opacity="0.05" d="M301.7 205.0h3v3h-3zM305.3 205.9h3v3h-3zM304.8 206.2h3v3h-3zM293.8 207.3h3v3h-3zM294.5 207.8h3v3h-3zM304.5 208.5h3v3h-3zM298.5 209.2h3v3h-3zM296.2 209.5h3v3h-3zM297.8 210.8h3v3h-3zM298.6 210.9h3v3h-3zM295.0 212.6h3v3h-3z"/>
<path fill="#65b9ff" fill-opacity="0.05" d="M297.1 205.6h3v3h-3zM297.8 205.6h3v3h-3zM296.1 206.4h3v3h-3zM301.0 207.6h3v3h-3zM295.8 207.7h3v3h-3zM297.6 209.3h3v3h-3zM297.8 209.7h3v3h-3zM308.4 210.5h3v3h-3zM308.1 210.7h3v3h-3zM303.5 212.2h3v3h-3zM307.1 212.8h3v3h-3z"/>
<path fill="#65b9ff" fill-opacity="0.05" d="M295.4 205.5h3v3h-3zM305.4 206.4h3v3h-3zM301.8 206.7h3v3h-3zM297.9 207.8h3v3h-3zM308.3 207.5h3v3h-3zM301.2 209.2h3v3h-3zM302.0 209.7h3v3h-3zM303.8 210.8h3v3h-3zM303.3 210.6h3v3h-3zM302.3 212.2h3v3h-3zM294.7 213.8h3v3h-3z"/>
</g>
<line x1="134.0" y1="72.0" x2="134.0" y2="130.3" stroke="#222" stroke-width="1.1"/>
<line x1="134.0" y1="178.4" x2="134.0" y2="197.9" stroke="#222" stroke-width="1.1"/>
<rect x="121.2" y="130.3" width="25.6" height="48.1" fill="#233d8d" fill-opacity="0.5" stroke="#1a1a1a" stroke-width="1.1"/>
<line x1="121.7" y1="163.7" x2="146.3" y2="163.7" stroke="#000" stroke-width="3.2"/>
<line x1="162.1" y1="65.7" x2="162.1" y2="143.5" stroke="#222" stroke-width="1.1"/>
<line x1="162.1" y1="196.4" x2="162.1" y2="206.0" stroke="#222" stroke-width="1.1"/>
<rect x="149.3" y="143.5" width="25.6" height="52.9" fill="#4169eb" fill-opacity="0.5" stroke="#1a1a1a" stroke-width="1.1"/>
<line x1="149.8" y1="176.4" x2="174.4" y2="176.4" stroke="#000" stroke-width="3.2"/>
<line x1="178.9" y1="214.3" x2="201.5" y2="214.3" stroke="#000" stroke-width="3.4" stroke-linecap="round"/>
<line x1="246.4" y1="163.0" x2="246.4" y2="188.0" stroke="#222" stroke-width="1.1"/>
<line x1="246.4" y1="205.5" x2="246.4" y2="213.8" stroke="#222" stroke-width="1.1"/>
<rect x="233.6" y="188.0" width="25.6" height="17.5" fill="#233d8d" fill-opacity="0.5" stroke="#1a1a1a" stroke-width="1.1"/>
<line x1="234.1" y1="200.7" x2="258.7" y2="200.7" stroke="#000" stroke-width="3.2"/>
<line x1="274.4" y1="186.5" x2="274.4" y2="201.2" stroke="#222" stroke-width="1.1"/>
<line x1="274.4" y1="211.3" x2="274.4" y2="215.6" stroke="#222" stroke-width="1.1"/>
<rect x="261.6" y="201.2" width="25.6" height="10.1" fill="#4169eb" fill-opacity="0.5" stroke="#1a1a1a" stroke-width="1.1"/>
<line x1="262.1" y1="207.5" x2="286.7" y2="207.5" stroke="#000" stroke-width="3.2"/>
<line x1="291.2" y1="214.3" x2="313.8" y2="214.3" stroke="#000" stroke-width="3.4" stroke-linecap="round"/>
</g>
<rect x="94.5" y="27.0" width="247.2" height="196.4" fill="none" stroke="#555" stroke-width="1.2"/>
<line x1="429.2" y1="214.5" x2="437.2" y2="214.5" stroke="#555" stroke-width="1.1"/>
<line x1="429.2" y1="178.7" x2="437.2" y2="178.7" stroke="#555" stroke-width="1.1"/>
<line x1="429.2" y1="143.0" x2="437.2" y2="143.0" stroke="#555" stroke-width="1.1"/>
<line x1="429.2" y1="107.2" x2="437.2" y2="107.2" stroke="#555" stroke-width="1.1"/>
<line x1="429.2" y1="71.4" x2="437.2" y2="71.4" stroke="#555" stroke-width="1.1"/>
<line x1="429.2" y1="35.7" x2="437.2" y2="35.7" stroke="#555" stroke-width="1.1"/>
<line x1="504.8" y1="223.4" x2="504.8" y2="231.4" stroke="#555" stroke-width="1.1"/>
<line x1="617.1" y1="223.4" x2="617.1" y2="231.4" stroke="#555" stroke-width="1.1"/>
<g clip-path="url(#cp01)">
<g filter="url(#sb)">
<rect x="579.8" y="27.0" width="18.6" height="187.5" fill="url(#g4)" rx="1.5"/>
<rect x="607.8" y="194.0" width="18.6" height="23.0" fill="url(#g5)" rx="1.5"/>
<rect x="635.9" y="210.0" width="18.6" height="6.5" fill="url(#g6)" rx="1.5"/>
</g>
<g filter="url(#sp)">
<g fill="#233d8d" fill-opacity="0.14"><rect x="471.3" y="40.0" width="3" height="3"/><rect x="476.0" y="84.8" width="3" height="3"/><rect x="476.3" y="79.2" width="3" height="3"/><rect x="475.4" y="102.9" width="3" height="3"/><rect x="468.7" y="93.9" width="3" height="3"/><rect x="468.5" y="95.5" width="3" height="3"/><rect x="480.9" y="101.0" width="3" height="3"/><rect x="478.5" y="111.3" width="3" height="3"/><rect x="469.2" y="158.2" width="3" height="3"/><rect x="478.7" y="127.1" width="3" height="3"/><rect x="480.4" y="137.2" width="3" height="3"/><rect x="470.1" y="157.1" width="3" height="3"/><rect x="476.2" y="150.6" width="3" height="3"/><rect x="469.5" y="150.7" width="3" height="3"/><rect x="468.3" y="131.8" width="3" height="3"/><rect x="473.2" y="124.0" width="3" height="3"/><rect x="476.7" y="131.0" width="3" height="3"/><rect x="472.1" y="148.3" width="3" height="3"/><rect x="474.0" y="154.6" width="3" height="3"/><rect x="477.1" y="154.0" width="3" height="3"/><rect x="476.2" y="181.4" width="3" height="3"/><rect x="481.0" y="162.7" width="3" height="3"/><rect x="479.0" y="167.0" width="3" height="3"/><rect x="479.3" y="175.5" width="3" height="3"/><rect x="480.3" y="161.6" width="3" height="3"/><rect x="473.2" y="176.9" width="3" height="3"/><rect x="482.2" y="176.5" width="3" height="3"/><rect x="468.1" y="173.6" width="3" height="3"/><rect x="469.0" y="172.2" width="3" height="3"/><rect x="479.9" y="161.3" width="3" height="3"/><rect x="481.8" y="175.4" width="3" height="3"/><rect x="471.4" y="163.3" width="3" height="3"/><rect x="474.4" y="179.5" width="3" height="3"/><rect x="476.5" y="161.3" width="3" height="3"/><rect x="467.7" y="161.3" width="3" height="3"/><rect x="479.9" y="163.1" width="3" height="3"/><rect x="476.0" y="165.8" width="3" height="3"/><rect x="478.1" y="168.0" width="3" height="3"/><rect x="469.7" y="180.4" width="3" height="3"/><rect x="475.8" y="175.7" width="3" height="3"/><rect x="480.0" y="182.2" width="3" height="3"/><rect x="467.6" y="167.1" width="3" height="3"/><rect x="469.8" y="171.0" width="3" height="3"/><rect x="481.0" y="178.5" width="3" height="3"/><rect x="468.0" y="188.4" width="3" height="3"/><rect x="480.2" y="201.8" width="3" height="3"/><rect x="473.5" y="196.3" width="3" height="3"/><rect x="469.9" y="206.3" width="3" height="3"/><rect x="473.5" y="207.1" width="3" height="3"/><rect x="476.9" y="185.5" width="3" height="3"/><rect x="472.5" y="189.3" width="3" height="3"/><rect x="481.3" y="199.4" width="3" height="3"/><rect x="468.1" y="188.1" width="3" height="3"/><rect x="473.0" y="196.1" width="3" height="3"/><rect x="476.4" y="194.0" width="3" height="3"/><rect x="472.9" y="183.7" width="3" height="3"/><rect x="476.4" y="192.5" width="3" height="3"/><rect x="467.7" y="195.9" width="3" height="3"/><rect x="482.8" y="184.7" width="3" height="3"/><rect x="469.7" y="201.6" width="3" height="3"/><rect x="471.7" y="190.9" width="3" height="3"/><rect x="475.2" y="190.6" width="3" height="3"/><rect x="476.3" y="197.8" width="3" height="3"/><rect x="482.3" y="210.3" width="3" height="3"/><rect x="467.9" y="198.6" width="3" height="3"/><rect x="479.4" y="207.1" width="3" height="3"/><rect x="479.5" y="200.6" width="3" height="3"/><rect x="477.3" y="193.3" width="3" height="3"/><rect x="471.8" y="205.0" width="3" height="3"/><rect x="481.0" y="208.8" width="3" height="3"/><rect x="478.0" y="191.7" width="3" height="3"/><rect x="479.3" y="203.5" width="3" height="3"/><rect x="475.3" y="200.7" width="3" height="3"/><rect x="472.9" y="198.4" width="3" height="3"/><rect x="473.7" y="185.1" width="3" height="3"/><rect x="472.7" y="192.2" width="3" height="3"/><rect x="482.8" y="196.5" width="3" height="3"/><rect x="473.1" y="190.1" width="3" height="3"/><rect x="471.1" y="192.9" width="3" height="3"/><rect x="469.5" y="183.7" width="3" height="3"/><rect x="481.0" y="195.7" width="3" height="3"/><rect x="474.4" y="198.9" width="3" height="3"/><rect x="472.1" y="188.1" width="3" height="3"/><rect x="468.4" y="191.6" width="3" height="3"/><rect x="472.2" y="203.1" width="3" height="3"/><rect x="476.0" y="208.8" width="3" height="3"/><rect x="472.7" y="208.4" width="3" height="3"/><rect x="476.5" y="185.7" width="3" height="3"/><rect x="470.2" y="199.2" width="3" height="3"/><rect x="482.8" y="193.1" width="3" height="3"/><rect x="479.5" y="195.1" width="3" height="3"/><rect x="480.9" y="185.3" width="3" height="3"/><rect x="475.0" y="207.8" width="3" height="3"/><rect x="471.7" y="190.5" width="3" height="3"/><rect x="467.8" y="187.9" width="3" height="3"/><rect x="471.6" y="202.5" width="3" height="3"/><rect x="470.8" y="194.3" width="3" height="3"/><rect x="470.5" y="199.8" width="3" height="3"/><rect x="480.9" y="201.0" width="3" height="3"/><rect x="470.5" y="203.3" width="3" height="3"/><rect x="482.4" y="199.7" width="3" height="3"/><rect x="468.6" y="205.4" width="3" height="3"/><rect x="481.1" y="192.7" width="3" height="3"/><rect x="469.5" y="188.6" width="3" height="3"/></g>
<g fill="#4169eb" fill-opacity="0.14"><rect x="503.9" y="142.3" width="3" height="3"/><rect x="505.5" y="144.6" width="3" height="3"/><rect x="498.8" y="114.8" width="3" height="3"/><rect x="507.2" y="130.9" width="3" height="3"/><rect x="501.8" y="132.4" width="3" height="3"/><rect x="500.8" y="101.4" width="3" height="3"/><rect x="502.0" y="100.8" width="3" height="3"/><rect x="505.3" y="163.6" width="3" height="3"/><rect x="503.2" y="175.4" width="3" height="3"/><rect x="499.5" y="169.4" width="3" height="3"/><rect x="495.7" y="190.1" width="3" height="3"/><rect x="504.3" y="192.9" width="3" height="3"/><rect x="496.4" y="176.1" width="3" height="3"/><rect x="506.8" y="163.3" width="3" height="3"/><rect x="497.0" y="155.5" width="3" height="3"/><rect x="497.7" y="183.0" width="3" height="3"/><rect x="496.9" y="185.1" width="3" height="3"/><rect x="502.1" y="172.7" width="3" height="3"/><rect x="504.7" y="173.5" width="3" height="3"/><rect x="505.8" y="175.6" width="3" height="3"/><rect x="500.7" y="181.8" width="3" height="3"/><rect x="499.5" y="180.5" width="3" height="3"/><rect x="507.4" y="183.4" width="3" height="3"/><rect x="500.3" y="183.3" width="3" height="3"/><rect x="510.7" y="168.9" width="3" height="3"/><rect x="499.8" y="172.0" width="3" height="3"/><rect x="510.2" y="154.4" width="3" height="3"/><rect x="495.6" y="169.9" width="3" height="3"/><rect x="505.7" y="183.3" width="3" height="3"/><rect x="501.2" y="193.0" width="3" height="3"/><rect x="499.1" y="182.5" width="3" height="3"/><rect x="496.9" y="149.8" width="3" height="3"/><rect x="497.6" y="194.8" width="3" height="3"/><rect x="503.3" y="205.2" width="3" height="3"/><rect x="498.3" y="213.2" width="3" height="3"/><rect x="501.2" y="196.6" width="3" height="3"/><rect x="498.3" y="209.0" width="3" height="3"/><rect x="509.9" y="196.9" width="3" height="3"/><rect x="496.0" y="209.8" width="3" height="3"/><rect x="499.3" y="214.1" width="3" height="3"/><rect x="503.3" y="206.9" width="3" height="3"/><rect x="500.9" y="210.3" width="3" height="3"/><rect x="502.7" y="200.3" width="3" height="3"/><rect x="509.6" y="195.8" width="3" height="3"/><rect x="506.9" y="194.9" width="3" height="3"/><rect x="505.6" y="201.9" width="3" height="3"/><rect x="509.0" y="194.8" width="3" height="3"/><rect x="504.3" y="202.1" width="3" height="3"/><rect x="509.8" y="213.3" width="3" height="3"/><rect x="505.3" y="198.2" width="3" height="3"/><rect x="499.4" y="199.0" width="3" height="3"/><rect x="502.3" y="198.4" width="3" height="3"/><rect x="498.7" y="209.4" width="3" height="3"/><rect x="505.5" y="199.8" width="3" height="3"/><rect x="511.0" y="198.0" width="3" height="3"/><rect x="504.4" y="196.8" width="3" height="3"/><rect x="509.0" y="211.8" width="3" height="3"/><rect x="499.7" y="209.3" width="3" height="3"/><rect x="508.3" y="199.4" width="3" height="3"/><rect x="500.7" y="203.7" width="3" height="3"/><rect x="509.4" y="196.9" width="3" height="3"/><rect x="506.2" y="206.0" width="3" height="3"/><rect x="502.6" y="205.7" width="3" height="3"/><rect x="509.3" y="197.9" width="3" height="3"/><rect x="509.3" y="201.1" width="3" height="3"/><rect x="507.7" y="211.6" width="3" height="3"/><rect x="498.3" y="211.6" width="3" height="3"/><rect x="511.0" y="199.7" width="3" height="3"/><rect x="495.9" y="195.8" width="3" height="3"/><rect x="510.7" y="193.7" width="3" height="3"/><rect x="509.7" y="196.7" width="3" height="3"/><rect x="507.0" y="195.5" width="3" height="3"/><rect x="498.1" y="207.8" width="3" height="3"/><rect x="496.9" y="200.6" width="3" height="3"/><rect x="509.8" y="208.5" width="3" height="3"/><rect x="509.3" y="214.1" width="3" height="3"/><rect x="496.0" y="198.4" width="3" height="3"/><rect x="507.9" y="208.0" width="3" height="3"/><rect x="496.1" y="204.1" width="3" height="3"/><rect x="499.1" y="202.5" width="3" height="3"/><rect x="497.1" y="193.9" width="3" height="3"/><rect x="511.0" y="200.1" width="3" height="3"/><rect x="509.2" y="196.0" width="3" height="3"/><rect x="503.1" y="196.4" width="3" height="3"/><rect x="502.2" y="197.3" width="3" height="3"/><rect x="506.2" y="196.6" width="3" height="3"/><rect x="507.0" y="204.0" width="3" height="3"/><rect x="497.3" y="200.9" width="3" height="3"/><rect x="503.2" y="212.8" width="3" height="3"/><rect x="501.0" y="198.0" width="3" height="3"/><rect x="510.6" y="212.0" width="3" height="3"/><rect x="506.9" y="199.2" width="3" height="3"/><rect x="498.3" y="199.1" width="3" height="3"/><rect x="496.6" y="194.4" width="3" height="3"/><rect x="503.4" y="202.1" width="3" height="3"/></g>
<g fill="#65b9ff" fill-opacity="0.14"><rect x="532.3" y="207.1" width="3" height="3"/><rect x="523.8" y="210.4" width="3" height="3"/><rect x="533.8" y="208.9" width="3" height="3"/><rect x="532.2" y="210.4" width="3" height="3"/><rect x="538.9" y="212.2" width="3" height="3"/><rect x="534.8" y="207.5" width="3" height="3"/><rect x="528.6" y="207.7" width="3" height="3"/><rect x="538.8" y="207.4" width="3" height="3"/><rect x="529.6" y="207.6" width="3" height="3"/><rect x="525.8" y="213.5" width="3" height="3"/><rect x="523.7" y="209.6" width="3" height="3"/><rect x="538.1" y="206.0" width="3" height="3"/><rect x="533.1" y="207.3" width="3" height="3"/><rect x="527.4" y="205.5" width="3" height="3"/><rect x="525.4" y="211.9" width="3" height="3"/><rect x="535.8" y="212.6" width="3" height="3"/><rect x="524.4" y="210.4" width="3" height="3"/><rect x="528.7" y="210.0" width="3" height="3"/><rect x="532.2" y="206.7" width="3" height="3"/><rect x="538.8" y="203.5" width="3" height="3"/><rect x="535.2" y="212.0" width="3" height="3"/><rect x="531.6" y="209.4" width="3" height="3"/></g>
<path fill="#233d8d" fill-opacity="0.05" d="M589.6 25.9h3v3h-3zM582.5 34.9h3v3h-3zM586.9 39.0h3v3h-3zM584.9 46.6h3v3h-3zM586.2 50.3h3v3h-3zM588.0 53.7h3v3h-3zM591.4 57.7h3v3h-3zM580.7 62.8h3v3h-3zM584.1 64.1h3v3h-3zM580.6 67.3h3v3h-3zM593.5 75.5h3v3h-3zM583.1 79.4h3v3h-3zM593.9 80.8h3v3h-3zM580.3 85.7h3v3h-3zM594.2 88.5h3v3h-3zM588.2 90.0h3v3h-3zM580.6 92.7h3v3h-3zM582.4 101.0h3v3h-3zM593.7 108.5h3v3h-3zM588.8 112.6h3v3h-3zM592.5 114.2h3v3h-3zM582.2 116.2h3v3h-3zM589.7 118.6h3v3h-3zM581.9 120.4h3v3h-3zM592.0 120.9h3v3h-3zM582.9 122.2h3v3h-3zM581.2 124.3h3v3h-3zM589.2 126.7h3v3h-3zM592.6 130.6h3v3h-3zM587.7 132.5h3v3h-3zM587.8 135.7h3v3h-3zM590.1 136.3h3v3h-3zM591.5 138.9h3v3h-3zM580.5 140.2h3v3h-3zM585.7 141.5h3v3h-3zM585.2 141.6h3v3h-3zM584.6 144.5h3v3h-3zM589.7 147.9h3v3h-3zM589.6 150.1h3v3h-3zM586.2 152.4h3v3h-3zM594.5 152.9h3v3h-3zM590.2 154.0h3v3h-3zM590.3 156.9h3v3h-3zM590.8 157.4h3v3h-3zM583.1 157.6h3v3h-3zM579.9 158.8h3v3h-3zM588.7 161.6h3v3h-3zM580.8 163.3h3v3h-3zM595.2 164.0h3v3h-3zM582.8 164.7h3v3h-3zM582.9 165.1h3v3h-3zM580.8 165.6h3v3h-3zM584.6 166.5h3v3h-3zM587.2 168.4h3v3h-3zM583.1 168.1h3v3h-3zM581.9 169.0h3v3h-3zM593.7 170.3h3v3h-3zM589.0 172.1h3v3h-3zM590.3 174.4h3v3h-3zM585.9 176.4h3v3h-3zM580.6 176.6h3v3h-3zM591.6 177.6h3v3h-3zM593.1 178.8h3v3h-3zM580.6 179.3h3v3h-3zM586.5 180.6h3v3h-3zM585.5 181.7h3v3h-3zM586.9 183.2h3v3h-3zM593.1 183.7h3v3h-3zM590.8 183.6h3v3h-3zM592.9 185.0h3v3h-3zM593.7 186.9h3v3h-3zM594.4 188.7h3v3h-3zM583.9 189.9h3v3h-3zM590.6 190.6h3v3h-3zM584.5 191.0h3v3h-3zM581.4 193.2h3v3h-3zM583.3 194.9h3v3h-3zM582.6 195.6h3v3h-3zM594.8 197.7h3v3h-3zM585.7 199.4h3v3h-3zM587.0 203.4h3v3h-3zM594.5 207.8h3v3h-3zM581.1 207.6h3v3h-3zM581.7 209.5h3v3h-3zM587.6 210.8h3v3h-3zM583.3 211.8h3v3h-3z"/>
<path fill="#233d8d" fill-opacity="0.05" d="M591.1 32.3h3v3h-3zM580.5 36.2h3v3h-3zM586.8 40.2h3v3h-3zM589.7 47.4h3v3h-3zM585.8 50.8h3v3h-3zM580.2 54.3h3v3h-3zM581.6 59.6h3v3h-3zM585.0 64.3h3v3h-3zM587.8 65.7h3v3h-3zM594.1 70.3h3v3h-3zM589.1 77.6h3v3h-3zM581.4 80.0h3v3h-3zM592.8 82.1h3v3h-3zM589.8 85.6h3v3h-3zM584.3 88.7h3v3h-3zM594.2 91.5h3v3h-3zM592.1 94.1h3v3h-3zM582.1 101.5h3v3h-3zM592.1 109.3h3v3h-3zM590.9 113.0h3v3h-3zM594.2 114.5h3v3h-3zM587.6 118.9h3v3h-3zM592.1 119.0h3v3h-3zM592.3 120.8h3v3h-3zM594.6 121.6h3v3h-3zM585.9 123.9h3v3h-3zM592.8 124.2h3v3h-3zM584.4 128.5h3v3h-3zM583.3 131.9h3v3h-3zM588.0 133.0h3v3h-3zM589.5 136.2h3v3h-3zM594.0 137.2h3v3h-3zM584.9 139.1h3v3h-3zM591.7 140.6h3v3h-3zM590.9 141.3h3v3h-3zM587.8 141.9h3v3h-3zM582.9 144.2h3v3h-3zM588.5 149.3h3v3h-3zM592.7 150.8h3v3h-3zM581.5 152.2h3v3h-3zM585.1 152.7h3v3h-3zM593.1 155.8h3v3h-3zM587.6 156.9h3v3h-3zM589.4 157.1h3v3h-3zM590.7 158.5h3v3h-3zM592.4 160.5h3v3h-3zM592.9 162.4h3v3h-3zM587.8 163.8h3v3h-3zM587.3 164.1h3v3h-3zM584.2 164.6h3v3h-3zM594.6 166.0h3v3h-3zM585.3 166.6h3v3h-3zM586.9 167.6h3v3h-3zM581.8 168.1h3v3h-3zM591.2 169.2h3v3h-3zM583.1 169.3h3v3h-3zM593.6 171.2h3v3h-3zM589.7 173.4h3v3h-3zM582.0 175.5h3v3h-3zM581.3 177.0h3v3h-3zM590.3 177.5h3v3h-3zM592.4 178.1h3v3h-3zM592.6 178.8h3v3h-3zM591.4 180.0h3v3h-3zM595.0 180.8h3v3h-3zM589.3 182.5h3v3h-3zM589.3 183.3h3v3h-3zM593.5 183.6h3v3h-3zM584.9 184.0h3v3h-3zM583.7 185.2h3v3h-3zM592.7 187.2h3v3h-3zM594.1 188.8h3v3h-3zM586.6 190.3h3v3h-3zM583.8 191.0h3v3h-3zM581.6 192.7h3v3h-3zM586.7 193.9h3v3h-3zM580.0 195.1h3v3h-3zM581.3 196.0h3v3h-3zM592.1 198.1h3v3h-3zM589.8 201.2h3v3h-3zM583.4 204.7h3v3h-3zM583.5 207.6h3v3h-3zM594.2 207.7h3v3h-3zM580.0 209.8h3v3h-3zM592.3 211.5h3v3h-3zM583.2 212.0h3v3h-3z"/>
<path fill="#233d8d" fill-opacity="0.05" d="M588.0 34.3h3v3h-3zM592.8 36.4h3v3h-3zM582.1 40.8h3v3h-3zM585.6 48.5h3v3h-3zM595.0 51.4h3v3h-3zM587.2 55.9h3v3h-3zM581.2 60.9h3v3h-3zM579.9 64.5h3v3h-3zM583.8 67.1h3v3h-3zM590.9 74.4h3v3h-3zM592.3 78.2h3v3h-3zM590.1 80.6h3v3h-3zM592.9 85.1h3v3h-3zM590.4 87.6h3v3h-3zM594.3 89.0h3v3h-3zM589.1 92.0h3v3h-3zM587.0 96.5h3v3h-3zM593.5 101.6h3v3h-3zM591.5 109.6h3v3h-3zM589.4 114.3h3v3h-3zM586.2 115.0h3v3h-3zM594.0 118.9h3v3h-3zM582.3 120.0h3v3h-3zM586.6 120.9h3v3h-3zM592.9 122.1h3v3h-3zM592.2 123.8h3v3h-3zM592.2 124.5h3v3h-3zM590.1 129.9h3v3h-3zM587.6 132.5h3v3h-3zM592.4 134.1h3v3h-3zM594.7 136.2h3v3h-3zM592.8 138.3h3v3h-3zM594.7 139.4h3v3h-3zM588.3 140.7h3v3h-3zM584.1 141.1h3v3h-3zM584.7 142.5h3v3h-3zM583.0 147.5h3v3h-3zM585.5 150.0h3v3h-3zM583.6 151.5h3v3h-3zM591.9 152.7h3v3h-3zM582.7 153.4h3v3h-3zM588.8 156.1h3v3h-3zM593.8 156.9h3v3h-3zM580.9 157.3h3v3h-3zM592.9 158.7h3v3h-3zM583.3 161.3h3v3h-3zM591.9 162.5h3v3h-3zM583.3 163.9h3v3h-3zM586.9 164.3h3v3h-3zM582.9 165.4h3v3h-3zM591.1 165.9h3v3h-3zM589.7 167.0h3v3h-3zM581.5 167.6h3v3h-3zM588.6 168.3h3v3h-3zM592.5 169.4h3v3h-3zM592.8 169.9h3v3h-3zM583.6 172.0h3v3h-3zM591.1 173.5h3v3h-3zM589.1 175.0h3v3h-3zM592.3 176.5h3v3h-3zM582.2 177.5h3v3h-3zM587.8 178.1h3v3h-3zM589.5 178.8h3v3h-3zM589.9 180.6h3v3h-3zM591.2 181.4h3v3h-3zM581.0 182.6h3v3h-3zM580.3 183.8h3v3h-3zM594.5 183.7h3v3h-3zM594.3 184.9h3v3h-3zM591.8 186.9h3v3h-3zM588.2 188.0h3v3h-3zM583.1 189.1h3v3h-3zM583.8 190.5h3v3h-3zM589.1 191.3h3v3h-3zM591.8 193.1h3v3h-3zM580.3 194.9h3v3h-3zM593.9 195.1h3v3h-3zM588.7 196.1h3v3h-3zM581.5 198.6h3v3h-3zM590.2 201.9h3v3h-3zM594.4 206.3h3v3h-3zM593.3 207.6h3v3h-3zM586.9 208.2h3v3h-3zM587.1 210.4h3v3h-3zM593.9 211.6h3v3h-3zM582.8 212.9h3v3h-3z"/>
<path fill="#4169eb" fill-opacity="0.05" d="M618.4 193.0h3v3h-3zM623.4 195.2h3v3h-3zM617.3 197.1h3v3h-3zM611.5 199.6h3v3h-3zM612.0 200.5h3v3h-3zM618.0 202.8h3v3h-3zM609.0 203.4h3v3h-3zM619.4 204.3h3v3h-3zM622.8 205.4h3v3h-3zM619.3 206.2h3v3h-3zM609.0 207.8h3v3h-3zM613.6 209.5h3v3h-3zM612.5 209.6h3v3h-3zM612.1 210.0h3v3h-3zM609.6 211.5h3v3h-3zM608.7 212.0h3v3h-3zM610.2 214.8h3v3h-3z"/>
<path fill="#4169eb" fill-opacity="0.05" d="M615.2 193.8h3v3h-3zM614.1 196.2h3v3h-3zM618.9 197.6h3v3h-3zM616.9 199.7h3v3h-3zM622.1 200.6h3v3h-3zM609.6 202.6h3v3h-3zM616.7 203.1h3v3h-3zM615.2 204.3h3v3h-3zM611.4 205.2h3v3h-3zM611.3 206.6h3v3h-3zM618.8 208.2h3v3h-3zM618.8 210.0h3v3h-3zM610.9 210.0h3v3h-3zM607.9 210.1h3v3h-3zM622.9 211.1h3v3h-3zM620.2 213.9h3v3h-3zM613.8 214.9h3v3h-3z"/>
<path fill="#4169eb" fill-opacity="0.05" d="M623.3 194.3h3v3h-3zM613.6 196.6h3v3h-3zM609.9 199.3h3v3h-3zM621.2 200.5h3v3h-3zM621.0 202.9h3v3h-3zM622.8 203.1h3v3h-3zM611.5 203.7h3v3h-3zM615.2 204.8h3v3h-3zM614.2 206.0h3v3h-3zM612.0 206.5h3v3h-3zM610.5 208.2h3v3h-3zM610.9 209.9h3v3h-3zM616.1 210.4h3v3h-3zM611.4 210.6h3v3h-3zM612.8 211.7h3v3h-3zM613.1 213.7h3v3h-3z"/>
<path fill="#65b9ff" fill-opacity="0.05" d="M645.0 208.6h3v3h-3zM638.9 209.8h3v3h-3zM640.4 211.3h3v3h-3zM639.4 211.9h3v3h-3zM637.3 212.0h3v3h-3zM644.0 212.7h3v3h-3zM646.3 213.6h3v3h-3z"/>
<path fill="#65b9ff" fill-opacity="0.05" d="M646.9 208.9h3v3h-3zM639.9 210.7h3v3h-3zM640.8 211.8h3v3h-3zM640.8 212.4h3v3h-3zM643.9 212.1h3v3h-3zM647.1 212.8h3v3h-3zM647.0 214.4h3v3h-3z"/>
<path fill="#65b9ff" fill-opacity="0.05" d="M637.4 209.3h3v3h-3zM647.2 211.1h3v3h-3zM640.0 211.6h3v3h-3zM636.8 212.3h3v3h-3zM637.8 212.8h3v3h-3zM637.0 213.2h3v3h-3zM650.4 215.0h3v3h-3z"/>
</g>
<line x1="476.7" y1="161.2" x2="476.7" y2="182.2" stroke="#222" stroke-width="1.1"/>
<line x1="476.7" y1="202.2" x2="476.7" y2="209.8" stroke="#222" stroke-width="1.1"/>
<rect x="463.9" y="182.2" width="25.6" height="20.0" fill="#233d8d" fill-opacity="0.5" stroke="#1a1a1a" stroke-width="1.1"/>
<line x1="464.4" y1="195.1" x2="489.0" y2="195.1" stroke="#000" stroke-width="3.2"/>
<line x1="504.8" y1="181.4" x2="504.8" y2="199.4" stroke="#222" stroke-width="1.1"/>
<line x1="504.8" y1="212.3" x2="504.8" y2="215.6" stroke="#222" stroke-width="1.1"/>
<rect x="492.0" y="199.4" width="25.6" height="12.9" fill="#4169eb" fill-opacity="0.5" stroke="#1a1a1a" stroke-width="1.1"/>
<line x1="492.5" y1="208.3" x2="517.1" y2="208.3" stroke="#000" stroke-width="3.2"/>
<line x1="521.6" y1="214.3" x2="544.2" y2="214.3" stroke="#000" stroke-width="3.4" stroke-linecap="round"/>
<line x1="589.1" y1="188.9" x2="589.1" y2="201.3" stroke="#222" stroke-width="1.1"/>
<line x1="589.1" y1="210.8" x2="589.1" y2="214.3" stroke="#222" stroke-width="1.1"/>
<rect x="576.3" y="201.3" width="25.6" height="9.5" fill="#233d8d" fill-opacity="0.5" stroke="#1a1a1a" stroke-width="1.1"/>
<line x1="576.8" y1="207.6" x2="601.4" y2="207.6" stroke="#000" stroke-width="3.2"/>
<line x1="617.1" y1="210.0" x2="617.1" y2="213.7" stroke="#222" stroke-width="1"/>
<line x1="605.8" y1="213.7" x2="628.4" y2="213.7" stroke="#000" stroke-width="3.4" stroke-linecap="round"/>
<line x1="633.9" y1="214.4" x2="656.5" y2="214.4" stroke="#000" stroke-width="3.4" stroke-linecap="round"/>
</g>
<rect x="437.2" y="27.0" width="247.2" height="196.4" fill="none" stroke="#555" stroke-width="1.2"/>
<line x1="86.5" y1="427.9" x2="94.5" y2="427.9" stroke="#555" stroke-width="1.1"/>
<line x1="86.5" y1="383.1" x2="94.5" y2="383.1" stroke="#555" stroke-width="1.1"/>
<line x1="86.5" y1="338.4" x2="94.5" y2="338.4" stroke="#555" stroke-width="1.1"/>
<line x1="86.5" y1="293.6" x2="94.5" y2="293.6" stroke="#555" stroke-width="1.1"/>
<line x1="86.5" y1="248.9" x2="94.5" y2="248.9" stroke="#555" stroke-width="1.1"/>
<line x1="162.1" y1="436.8" x2="162.1" y2="444.8" stroke="#555" stroke-width="1.1"/>
<line x1="274.4" y1="436.8" x2="274.4" y2="444.8" stroke="#555" stroke-width="1.1"/>
<g clip-path="url(#cp10)">
<g filter="url(#sb)">
<rect x="237.1" y="303.0" width="18.6" height="50.0" fill="#233d8d" fill-opacity="0.12" rx="1"/>
<rect x="237.1" y="302.5" width="18.6" height="3.0" fill="#233d8d" fill-opacity="0.85" rx="1"/>
<rect x="237.1" y="307.0" width="18.6" height="2.0" fill="#233d8d" fill-opacity="0.4" rx="1"/>
<rect x="237.1" y="312.5" width="18.6" height="3.0" fill="#233d8d" fill-opacity="0.85" rx="1"/>
<rect x="237.1" y="317.2" width="18.6" height="2.5" fill="#233d8d" fill-opacity="0.55" rx="1"/>
<rect x="237.1" y="321.1" width="18.6" height="2.5" fill="#233d8d" fill-opacity="0.55" rx="1"/>
<rect x="237.1" y="324.1" width="18.6" height="25.3" fill="#233d8d" fill-opacity="0.45" rx="1"/>
<rect x="237.1" y="328.8" width="18.6" height="2.5" fill="#233d8d" fill-opacity="0.25" rx="1"/>
<rect x="237.1" y="334.8" width="18.6" height="2.5" fill="#233d8d" fill-opacity="0.25" rx="1"/>
<rect x="237.1" y="340.0" width="18.6" height="8.0" fill="#233d8d" fill-opacity="0.5" rx="1"/>
<rect x="237.1" y="352.0" width="18.6" height="3.0" fill="#233d8d" fill-opacity="0.6" rx="1"/>
<rect x="237.1" y="356.2" width="18.6" height="3.0" fill="#233d8d" fill-opacity="0.85" rx="1"/>
<rect x="237.1" y="374.5" width="18.6" height="2.0" fill="#233d8d" fill-opacity="0.2" rx="1"/>
<rect x="237.1" y="378.7" width="18.6" height="3.0" fill="#233d8d" fill-opacity="0.7" rx="1"/>
<rect x="237.1" y="409.8" width="18.6" height="3.2" fill="#233d8d" fill-opacity="0.9" rx="1"/>
<rect x="265.1" y="272.0" width="18.6" height="164.0" fill="url(#g7)" rx="1.5"/>
<rect x="293.2" y="279.5" width="18.6" height="120.5" fill="url(#g8)" rx="1.5"/>
</g>
<g filter="url(#sp)">
<g fill="#233d8d" fill-opacity="0.14"><rect x="134.4" y="285.6" width="3" height="3"/><rect x="131.8" y="296.2" width="3" height="3"/><rect x="129.0" y="284.2" width="3" height="3"/><rect x="140.0" y="301.7" width="3" height="3"/><rect x="126.7" y="292.8" width="3" height="3"/><rect x="134.4" y="289.5" width="3" height="3"/><rect x="125.8" y="298.5" width="3" height="3"/><rect x="136.7" y="292.2" width="3" height="3"/><rect x="126.0" y="291.4" width="3" height="3"/><rect x="126.2" y="302.8" width="3" height="3"/><rect x="125.5" y="289.3" width="3" height="3"/><rect x="136.7" y="286.2" width="3" height="3"/><rect x="126.4" y="284.9" width="3" height="3"/><rect x="127.3" y="294.1" width="3" height="3"/><rect x="137.7" y="286.9" width="3" height="3"/><rect x="127.4" y="298.8" width="3" height="3"/><rect x="131.3" y="290.3" width="3" height="3"/><rect x="126.6" y="288.4" width="3" height="3"/><rect x="139.9" y="285.8" width="3" height="3"/><rect x="128.7" y="298.3" width="3" height="3"/><rect x="138.6" y="301.6" width="3" height="3"/><rect x="132.1" y="302.6" width="3" height="3"/><rect x="134.1" y="310.1" width="3" height="3"/><rect x="132.0" y="320.0" width="3" height="3"/><rect x="136.2" y="306.5" width="3" height="3"/><rect x="127.7" y="325.5" width="3" height="3"/><rect x="126.4" y="322.2" width="3" height="3"/><rect x="130.0" y="309.2" width="3" height="3"/><rect x="128.7" y="314.3" width="3" height="3"/><rect x="140.2" y="306.9" width="3" height="3"/><rect x="138.0" y="310.9" width="3" height="3"/><rect x="127.4" y="320.6" width="3" height="3"/><rect x="130.0" y="307.8" width="3" height="3"/><rect x="131.2" y="322.4" width="3" height="3"/><rect x="138.2" y="316.7" width="3" height="3"/><rect x="124.9" y="321.1" width="3" height="3"/><rect x="134.2" y="324.2" width="3" height="3"/><rect x="139.6" y="311.0" width="3" height="3"/><rect x="137.9" y="322.3" width="3" height="3"/><rect x="128.8" y="311.9" width="3" height="3"/><rect x="130.5" y="311.6" width="3" height="3"/><rect x="130.6" y="306.0" width="3" height="3"/><rect x="128.2" y="324.4" width="3" height="3"/><rect x="131.1" y="318.1" width="3" height="3"/><rect x="138.5" y="320.9" width="3" height="3"/><rect x="128.5" y="324.7" width="3" height="3"/><rect x="137.2" y="326.3" width="3" height="3"/><rect x="136.1" y="320.9" width="3" height="3"/><rect x="137.4" y="309.3" width="3" height="3"/><rect x="134.9" y="312.3" width="3" height="3"/><rect x="137.8" y="306.6" width="3" height="3"/><rect x="133.1" y="311.2" width="3" height="3"/><rect x="137.5" y="311.4" width="3" height="3"/><rect x="137.9" y="323.0" width="3" height="3"/><rect x="138.4" y="306.7" width="3" height="3"/><rect x="139.3" y="320.6" width="3" height="3"/><rect x="135.3" y="318.5" width="3" height="3"/><rect x="125.4" y="323.5" width="3" height="3"/><rect x="133.2" y="314.0" width="3" height="3"/><rect x="130.0" y="321.5" width="3" height="3"/><rect x="136.9" y="323.5" width="3" height="3"/><rect x="128.0" y="311.3" width="3" height="3"/><rect x="128.6" y="305.8" width="3" height="3"/><rect x="129.8" y="304.1" width="3" height="3"/><rect x="137.1" y="308.7" width="3" height="3"/><rect x="125.8" y="305.1" width="3" height="3"/><rect x="136.3" y="308.1" width="3" height="3"/><rect x="131.9" y="336.1" width="3" height="3"/><rect x="137.2" y="349.4" width="3" height="3"/><rect x="129.5" y="341.7" width="3" height="3"/><rect x="138.7" y="337.8" width="3" height="3"/><rect x="138.7" y="344.1" width="3" height="3"/><rect x="129.6" y="347.5" width="3" height="3"/><rect x="133.6" y="329.0" width="3" height="3"/><rect x="133.9" y="346.4" width="3" height="3"/><rect x="132.8" y="338.1" width="3" height="3"/><rect x="131.2" y="347.6" width="3" height="3"/><rect x="135.1" y="331.5" width="3" height="3"/><rect x="130.4" y="335.2" width="3" height="3"/><rect x="139.7" y="343.2" width="3" height="3"/><rect x="126.6" y="348.4" width="3" height="3"/><rect x="125.2" y="340.7" width="3" height="3"/><rect x="131.4" y="343.7" width="3" height="3"/><rect x="131.4" y="328.7" width="3" height="3"/><rect x="132.9" y="346.2" width="3" height="3"/><rect x="137.0" y="335.1" width="3" height="3"/><rect x="128.2" y="344.4" width="3" height="3"/><rect x="137.2" y="331.8" width="3" height="3"/><rect x="138.5" y="350.3" width="3" height="3"/><rect x="131.5" y="335.6" width="3" height="3"/><rect x="135.8" y="348.8" width="3" height="3"/><rect x="127.8" y="333.7" width="3" height="3"/><rect x="129.8" y="344.1" width="3" height="3"/><rect x="127.6" y="339.6" width="3" height="3"/></g>
<g fill="#4169eb" fill-opacity="0.14"><rect x="160.6" y="308.5" width="3" height="3"/><rect x="155.0" y="313.7" width="3" height="3"/><rect x="168.4" y="306.6" width="3" height="3"/><rect x="165.2" y="299.8" width="3" height="3"/><rect x="167.0" y="306.4" width="3" height="3"/><rect x="164.6" y="312.1" width="3" height="3"/><rect x="158.4" y="313.1" width="3" height="3"/><rect x="156.0" y="296.9" width="3" height="3"/><rect x="160.6" y="312.7" width="3" height="3"/><rect x="166.8" y="313.7" width="3" height="3"/><rect x="160.8" y="313.3" width="3" height="3"/><rect x="161.5" y="299.1" width="3" height="3"/><rect x="162.6" y="311.0" width="3" height="3"/><rect x="159.4" y="307.3" width="3" height="3"/><rect x="156.8" y="301.5" width="3" height="3"/><rect x="159.4" y="305.7" width="3" height="3"/><rect x="160.1" y="298.2" width="3" height="3"/><rect x="152.9" y="302.6" width="3" height="3"/><rect x="164.0" y="326.5" width="3" height="3"/><rect x="156.5" y="318.6" width="3" height="3"/><rect x="160.9" y="317.3" width="3" height="3"/><rect x="162.2" y="329.0" width="3" height="3"/><rect x="156.0" y="323.9" width="3" height="3"/><rect x="164.0" y="326.5" width="3" height="3"/><rect x="163.9" y="325.9" width="3" height="3"/><rect x="157.1" y="327.9" width="3" height="3"/><rect x="167.2" y="315.3" width="3" height="3"/><rect x="167.5" y="321.6" width="3" height="3"/><rect x="154.1" y="315.6" width="3" height="3"/><rect x="165.2" y="325.3" width="3" height="3"/><rect x="155.0" y="321.9" width="3" height="3"/><rect x="162.8" y="330.5" width="3" height="3"/><rect x="158.0" y="326.8" width="3" height="3"/><rect x="156.6" y="317.7" width="3" height="3"/><rect x="155.3" y="321.1" width="3" height="3"/><rect x="162.4" y="319.4" width="3" height="3"/><rect x="155.3" y="318.0" width="3" height="3"/><rect x="154.1" y="317.6" width="3" height="3"/><rect x="157.7" y="322.6" width="3" height="3"/><rect x="155.7" y="322.2" width="3" height="3"/><rect x="159.7" y="330.1" width="3" height="3"/><rect x="160.4" y="329.6" width="3" height="3"/><rect x="160.2" y="317.7" width="3" height="3"/><rect x="162.0" y="316.8" width="3" height="3"/><rect x="155.4" y="315.7" width="3" height="3"/><rect x="163.7" y="330.0" width="3" height="3"/><rect x="159.1" y="320.2" width="3" height="3"/><rect x="159.4" y="320.1" width="3" height="3"/><rect x="163.6" y="320.8" width="3" height="3"/><rect x="155.2" y="328.3" width="3" height="3"/><rect x="161.7" y="314.6" width="3" height="3"/><rect x="166.1" y="326.2" width="3" height="3"/><rect x="158.3" y="324.6" width="3" height="3"/><rect x="167.2" y="320.9" width="3" height="3"/><rect x="159.5" y="319.3" width="3" height="3"/><rect x="161.4" y="325.1" width="3" height="3"/><rect x="164.3" y="329.7" width="3" height="3"/><rect x="155.1" y="320.4" width="3" height="3"/><rect x="166.1" y="351.1" width="3" height="3"/><rect x="162.0" y="348.1" width="3" height="3"/><rect x="158.1" y="355.1" width="3" height="3"/><rect x="161.4" y="341.0" width="3" height="3"/><rect x="155.6" y="333.5" width="3" height="3"/><rect x="166.8" y="351.3" width="3" height="3"/><rect x="153.2" y="338.9" width="3" height="3"/><rect x="160.3" y="343.4" width="3" height="3"/><rect x="158.5" y="353.8" width="3" height="3"/><rect x="158.3" y="344.3" width="3" height="3"/><rect x="167.3" y="347.1" width="3" height="3"/><rect x="160.2" y="339.1" width="3" height="3"/><rect x="158.8" y="346.3" width="3" height="3"/><rect x="165.1" y="337.3" width="3" height="3"/><rect x="158.6" y="340.6" width="3" height="3"/><rect x="158.5" y="354.2" width="3" height="3"/><rect x="161.2" y="337.7" width="3" height="3"/><rect x="158.0" y="351.9" width="3" height="3"/><rect x="155.3" y="348.4" width="3" height="3"/><rect x="153.1" y="335.5" width="3" height="3"/><rect x="153.7" y="351.4" width="3" height="3"/><rect x="155.1" y="336.4" width="3" height="3"/><rect x="153.7" y="337.4" width="3" height="3"/><rect x="164.2" y="349.2" width="3" height="3"/><rect x="167.0" y="355.1" width="3" height="3"/></g>
<g fill="#65b9ff" fill-opacity="0.14"><rect x="189.5" y="297.2" width="3" height="3"/><rect x="182.3" y="297.2" width="3" height="3"/><rect x="187.7" y="284.8" width="3" height="3"/><rect x="192.6" y="296.1" width="3" height="3"/><rect x="186.9" y="283.1" width="3" height="3"/><rect x="194.5" y="294.3" width="3" height="3"/><rect x="190.2" y="298.1" width="3" height="3"/><rect x="181.5" y="282.5" width="3" height="3"/><rect x="182.8" y="281.9" width="3" height="3"/><rect x="191.9" y="292.2" width="3" height="3"/><rect x="182.7" y="284.3" width="3" height="3"/><rect x="183.7" y="291.9" width="3" height="3"/><rect x="191.4" y="298.0" width="3" height="3"/><rect x="186.5" y="298.1" width="3" height="3"/><rect x="187.7" y="288.1" width="3" height="3"/><rect x="184.9" y="285.5" width="3" height="3"/><rect x="196.1" y="298.4" width="3" height="3"/><rect x="191.9" y="284.5" width="3" height="3"/><rect x="183.7" y="284.1" width="3" height="3"/><rect x="186.4" y="294.0" width="3" height="3"/><rect x="181.8" y="290.5" width="3" height="3"/><rect x="191.5" y="282.1" width="3" height="3"/><rect x="187.8" y="294.9" width="3" height="3"/><rect x="189.9" y="289.2" width="3" height="3"/><rect x="194.6" y="291.7" width="3" height="3"/><rect x="186.2" y="288.2" width="3" height="3"/><rect x="195.6" y="296.1" width="3" height="3"/><rect x="195.2" y="291.0" width="3" height="3"/><rect x="183.1" y="284.5" width="3" height="3"/><rect x="186.9" y="293.2" width="3" height="3"/><rect x="181.0" y="295.1" width="3" height="3"/><rect x="193.2" y="290.3" width="3" height="3"/><rect x="181.0" y="295.1" width="3" height="3"/><rect x="187.4" y="292.9" width="3" height="3"/><rect x="189.8" y="293.9" width="3" height="3"/><rect x="187.3" y="297.8" width="3" height="3"/><rect x="195.8" y="297.3" width="3" height="3"/><rect x="190.5" y="286.9" width="3" height="3"/><rect x="186.8" y="286.1" width="3" height="3"/><rect x="195.0" y="295.0" width="3" height="3"/><rect x="193.2" y="312.5" width="3" height="3"/><rect x="196.4" y="310.2" width="3" height="3"/><rect x="185.9" y="311.4" width="3" height="3"/><rect x="185.0" y="308.9" width="3" height="3"/><rect x="183.4" y="313.1" width="3" height="3"/><rect x="188.5" y="303.2" width="3" height="3"/><rect x="195.3" y="299.9" width="3" height="3"/><rect x="195.4" y="311.4" width="3" height="3"/><rect x="183.2" y="311.4" width="3" height="3"/><rect x="189.8" y="313.9" width="3" height="3"/><rect x="190.0" y="305.8" width="3" height="3"/><rect x="195.5" y="300.0" width="3" height="3"/><rect x="193.0" y="300.2" width="3" height="3"/><rect x="185.2" y="300.4" width="3" height="3"/><rect x="194.5" y="306.0" width="3" height="3"/><rect x="192.2" y="302.9" width="3" height="3"/><rect x="192.3" y="309.5" width="3" height="3"/><rect x="182.4" y="306.9" width="3" height="3"/><rect x="192.2" y="302.1" width="3" height="3"/><rect x="191.1" y="303.2" width="3" height="3"/><rect x="186.7" y="314.1" width="3" height="3"/><rect x="195.6" y="315.5" width="3" height="3"/><rect x="187.6" y="308.2" width="3" height="3"/><rect x="193.5" y="311.4" width="3" height="3"/><rect x="188.0" y="313.2" width="3" height="3"/><rect x="187.2" y="314.7" width="3" height="3"/><rect x="188.3" y="300.5" width="3" height="3"/><rect x="192.6" y="301.0" width="3" height="3"/><rect x="191.5" y="299.4" width="3" height="3"/><rect x="196.3" y="307.7" width="3" height="3"/><rect x="192.5" y="300.7" width="3" height="3"/><rect x="190.8" y="304.9" width="3" height="3"/><rect x="184.8" y="312.4" width="3" height="3"/><rect x="181.4" y="306.6" width="3" height="3"/><rect x="182.3" y="313.0" width="3" height="3"/><rect x="194.8" y="299.1" width="3" height="3"/><rect x="188.1" y="306.5" width="3" height="3"/><rect x="192.1" y="310.9" width="3" height="3"/><rect x="186.3" y="314.4" width="3" height="3"/><rect x="183.8" y="300.8" width="3" height="3"/><rect x="193.6" y="300.5" width="3" height="3"/><rect x="183.8" y="307.0" width="3" height="3"/><rect x="186.1" y="301.3" width="3" height="3"/><rect x="195.4" y="306.6" width="3" height="3"/><rect x="193.2" y="302.8" width="3" height="3"/><rect x="195.1" y="302.3" width="3" height="3"/><rect x="195.0" y="308.9" width="3" height="3"/><rect x="196.0" y="311.6" width="3" height="3"/><rect x="190.7" y="307.6" width="3" height="3"/><rect x="194.2" y="306.0" width="3" height="3"/><rect x="182.4" y="314.0" width="3" height="3"/><rect x="193.5" y="310.1" width="3" height="3"/><rect x="192.5" y="302.4" width="3" height="3"/><rect x="188.1" y="312.5" width="3" height="3"/><rect x="195.9" y="314.2" width="3" height="3"/><rect x="183.4" y="310.1" width="3" height="3"/><rect x="189.5" y="305.4" width="3" height="3"/><rect x="183.5" y="300.8" width="3" height="3"/><rect x="188.2" y="306.9" width="3" height="3"/><rect x="185.1" y="304.8" width="3" height="3"/><rect x="189.5" y="311.5" width="3" height="3"/><rect x="190.1" y="301.3" width="3" height="3"/><rect x="194.7" y="304.8" width="3" height="3"/><rect x="195.9" y="315.2" width="3" height="3"/><rect x="183.1" y="308.4" width="3" height="3"/><rect x="196.0" y="324.4" width="3" height="3"/><rect x="189.4" y="322.7" width="3" height="3"/><rect x="181.3" y="320.2" width="3" height="3"/><rect x="182.8" y="322.0" width="3" height="3"/><rect x="190.7" y="328.4" width="3" height="3"/><rect x="195.7" y="331.3" width="3" height="3"/><rect x="186.6" y="337.3" width="3" height="3"/><rect x="190.8" y="328.0" width="3" height="3"/><rect x="194.4" y="330.9" width="3" height="3"/><rect x="186.5" y="329.4" width="3" height="3"/><rect x="185.6" y="337.8" width="3" height="3"/><rect x="184.7" y="337.9" width="3" height="3"/><rect x="181.9" y="315.7" width="3" height="3"/><rect x="189.5" y="320.2" width="3" height="3"/><rect x="188.8" y="318.2" width="3" height="3"/><rect x="194.0" y="330.9" width="3" height="3"/><rect x="191.6" y="336.8" width="3" height="3"/><rect x="196.4" y="331.1" width="3" height="3"/><rect x="192.0" y="315.5" width="3" height="3"/><rect x="181.7" y="325.3" width="3" height="3"/><rect x="196.0" y="322.7" width="3" height="3"/><rect x="189.8" y="315.7" width="3" height="3"/><rect x="187.4" y="336.3" width="3" height="3"/><rect x="190.1" y="334.5" width="3" height="3"/><rect x="181.1" y="320.2" width="3" height="3"/><rect x="183.7" y="334.6" width="3" height="3"/><rect x="182.5" y="336.9" width="3" height="3"/><rect x="185.1" y="335.8" width="3" height="3"/><rect x="188.9" y="322.9" width="3" height="3"/><rect x="196.0" y="324.8" width="3" height="3"/><rect x="191.8" y="317.0" width="3" height="3"/><rect x="193.9" y="338.1" width="3" height="3"/><rect x="182.6" y="332.7" width="3" height="3"/><rect x="185.1" y="318.9" width="3" height="3"/><rect x="186.6" y="330.7" width="3" height="3"/><rect x="195.8" y="338.4" width="3" height="3"/><rect x="196.4" y="329.8" width="3" height="3"/><rect x="191.1" y="319.2" width="3" height="3"/><rect x="192.2" y="328.2" width="3" height="3"/><rect x="186.5" y="336.2" width="3" height="3"/><rect x="184.9" y="340.2" width="3" height="3"/><rect x="183.4" y="340.3" width="3" height="3"/><rect x="190.1" y="348.1" width="3" height="3"/><rect x="183.4" y="344.5" width="3" height="3"/><rect x="189.9" y="345.2" width="3" height="3"/><rect x="187.3" y="345.0" width="3" height="3"/><rect x="181.1" y="339.2" width="3" height="3"/><rect x="187.5" y="341.3" width="3" height="3"/></g>
<path fill="#4169eb" fill-opacity="0.05" d="M275.6 274.9h3v3h-3zM267.5 278.7h3v3h-3zM274.9 280.0h3v3h-3zM266.5 282.0h3v3h-3zM271.8 284.6h3v3h-3zM272.8 285.9h3v3h-3zM274.1 287.0h3v3h-3zM270.8 288.4h3v3h-3zM271.0 290.3h3v3h-3zM278.6 290.8h3v3h-3zM270.4 291.2h3v3h-3zM273.4 292.1h3v3h-3zM269.6 292.7h3v3h-3zM276.9 293.9h3v3h-3zM265.6 295.5h3v3h-3zM276.6 295.7h3v3h-3zM280.3 296.6h3v3h-3zM271.8 297.1h3v3h-3zM265.3 299.2h3v3h-3zM279.3 301.1h3v3h-3zM268.4 302.2h3v3h-3zM265.7 303.9h3v3h-3zM271.1 305.4h3v3h-3zM272.3 305.6h3v3h-3zM270.9 308.4h3v3h-3zM275.3 310.3h3v3h-3zM267.6 311.3h3v3h-3zM265.5 312.1h3v3h-3zM275.9 312.6h3v3h-3zM269.9 314.3h3v3h-3zM273.9 314.9h3v3h-3zM278.3 316.1h3v3h-3zM273.4 316.9h3v3h-3zM267.6 318.1h3v3h-3zM268.7 319.0h3v3h-3zM272.2 320.1h3v3h-3zM268.6 320.6h3v3h-3zM270.5 321.9h3v3h-3zM276.4 322.7h3v3h-3zM271.9 323.5h3v3h-3zM278.6 324.9h3v3h-3zM267.4 325.6h3v3h-3zM273.0 326.9h3v3h-3zM276.4 328.1h3v3h-3zM278.2 329.9h3v3h-3zM276.4 332.1h3v3h-3zM270.0 334.5h3v3h-3zM271.4 335.9h3v3h-3zM274.9 337.8h3v3h-3zM275.1 338.3h3v3h-3zM277.4 339.7h3v3h-3zM267.9 340.7h3v3h-3zM278.1 342.7h3v3h-3zM269.4 344.1h3v3h-3zM274.2 346.4h3v3h-3zM277.9 351.2h3v3h-3zM266.1 353.3h3v3h-3zM269.4 354.3h3v3h-3zM279.0 355.6h3v3h-3zM275.2 356.4h3v3h-3zM275.4 357.6h3v3h-3zM270.9 358.8h3v3h-3zM268.9 359.9h3v3h-3zM269.3 359.9h3v3h-3zM268.4 360.7h3v3h-3zM269.3 361.7h3v3h-3zM268.9 365.1h3v3h-3zM276.2 365.9h3v3h-3zM276.1 366.3h3v3h-3zM270.3 367.4h3v3h-3zM270.1 367.6h3v3h-3zM270.3 369.0h3v3h-3zM272.2 369.0h3v3h-3zM271.3 370.3h3v3h-3zM266.6 370.5h3v3h-3zM274.8 372.0h3v3h-3zM280.5 373.9h3v3h-3zM274.1 374.7h3v3h-3zM272.3 376.3h3v3h-3zM270.1 377.4h3v3h-3zM276.1 378.3h3v3h-3zM270.5 379.4h3v3h-3zM278.2 380.2h3v3h-3zM277.6 381.3h3v3h-3zM277.1 383.4h3v3h-3zM269.4 384.6h3v3h-3zM277.2 385.9h3v3h-3zM266.2 388.4h3v3h-3zM276.0 391.1h3v3h-3zM271.0 393.5h3v3h-3zM272.9 393.9h3v3h-3zM279.5 395.8h3v3h-3zM279.5 397.3h3v3h-3zM276.8 398.7h3v3h-3zM279.8 400.8h3v3h-3zM270.0 405.2h3v3h-3zM273.5 407.8h3v3h-3zM265.8 410.2h3v3h-3zM275.3 413.7h3v3h-3zM272.0 415.9h3v3h-3zM277.8 417.5h3v3h-3zM265.7 420.9h3v3h-3zM267.8 427.9h3v3h-3zM273.9 430.1h3v3h-3zM278.1 431.2h3v3h-3z"/>
<path fill="#4169eb" fill-opacity="0.05" d="M267.9 276.0h3v3h-3zM267.7 279.5h3v3h-3zM266.7 280.9h3v3h-3zM266.5 283.3h3v3h-3zM272.9 285.7h3v3h-3zM272.6 286.6h3v3h-3zM270.1 287.5h3v3h-3zM266.5 289.4h3v3h-3zM265.2 290.0h3v3h-3zM280.2 290.8h3v3h-3zM269.4 291.8h3v3h-3zM269.0 293.0h3v3h-3zM276.5 293.1h3v3h-3zM275.9 295.1h3v3h-3zM268.7 295.7h3v3h-3zM272.7 296.4h3v3h-3zM267.6 296.6h3v3h-3zM267.0 298.0h3v3h-3zM275.7 299.8h3v3h-3zM265.7 301.7h3v3h-3zM279.2 302.6h3v3h-3zM277.2 304.2h3v3h-3zM266.7 305.1h3v3h-3zM273.0 307.6h3v3h-3zM268.4 308.4h3v3h-3zM270.2 310.2h3v3h-3zM268.7 311.9h3v3h-3zM272.5 312.6h3v3h-3zM274.7 313.1h3v3h-3zM273.6 314.3h3v3h-3zM280.2 315.4h3v3h-3zM278.0 316.3h3v3h-3zM268.3 316.9h3v3h-3zM269.5 319.5h3v3h-3zM279.5 319.3h3v3h-3zM280.0 320.1h3v3h-3zM272.9 321.0h3v3h-3zM275.4 321.7h3v3h-3zM277.8 322.5h3v3h-3zM278.1 324.3h3v3h-3zM275.6 325.5h3v3h-3zM268.0 326.3h3v3h-3zM265.7 327.9h3v3h-3zM272.6 328.5h3v3h-3zM265.9 329.6h3v3h-3zM276.0 333.9h3v3h-3zM279.9 334.8h3v3h-3zM273.8 336.2h3v3h-3zM278.3 337.7h3v3h-3zM275.4 338.0h3v3h-3zM276.5 340.0h3v3h-3zM267.0 341.3h3v3h-3zM276.9 342.6h3v3h-3zM279.7 344.9h3v3h-3zM269.8 347.4h3v3h-3zM276.7 352.5h3v3h-3zM272.9 353.6h3v3h-3zM266.9 355.3h3v3h-3zM277.8 356.3h3v3h-3zM273.8 356.0h3v3h-3zM272.5 357.8h3v3h-3zM274.0 359.3h3v3h-3zM276.3 360.0h3v3h-3zM270.8 360.4h3v3h-3zM266.7 360.6h3v3h-3zM265.3 362.9h3v3h-3zM280.2 365.2h3v3h-3zM273.5 366.1h3v3h-3zM279.5 366.9h3v3h-3zM279.6 367.3h3v3h-3zM274.8 367.9h3v3h-3zM267.8 369.5h3v3h-3zM280.0 369.7h3v3h-3zM273.0 370.2h3v3h-3zM280.2 371.4h3v3h-3zM272.8 372.7h3v3h-3zM265.8 373.9h3v3h-3zM273.6 376.0h3v3h-3zM276.4 376.5h3v3h-3zM266.0 377.4h3v3h-3zM274.3 379.0h3v3h-3zM269.3 380.2h3v3h-3zM270.2 380.6h3v3h-3zM267.3 381.4h3v3h-3zM275.0 383.4h3v3h-3zM273.6 384.6h3v3h-3zM269.9 385.5h3v3h-3zM269.0 389.3h3v3h-3zM271.1 391.1h3v3h-3zM279.8 393.2h3v3h-3zM278.2 395.4h3v3h-3zM272.1 396.7h3v3h-3zM278.7 397.2h3v3h-3zM280.4 400.1h3v3h-3zM280.4 403.2h3v3h-3zM268.3 406.0h3v3h-3zM271.0 409.5h3v3h-3zM269.5 411.2h3v3h-3zM275.1 415.1h3v3h-3zM269.8 416.1h3v3h-3zM278.8 418.0h3v3h-3zM272.0 423.9h3v3h-3zM266.6 428.6h3v3h-3zM270.2 430.7h3v3h-3zM268.4 432.1h3v3h-3z"/>
<path fill="#4169eb" fill-opacity="0.05" d="M269.9 278.3h3v3h-3zM267.0 279.9h3v3h-3zM267.7 281.3h3v3h-3zM269.3 283.8h3v3h-3zM268.1 285.8h3v3h-3zM275.8 286.8h3v3h-3zM274.2 287.9h3v3h-3zM278.6 289.3h3v3h-3zM279.3 290.9h3v3h-3zM273.2 291.2h3v3h-3zM273.0 291.7h3v3h-3zM273.1 292.7h3v3h-3zM272.2 293.2h3v3h-3zM266.0 295.2h3v3h-3zM266.8 295.9h3v3h-3zM271.7 296.7h3v3h-3zM278.4 297.4h3v3h-3zM274.4 298.1h3v3h-3zM268.2 301.4h3v3h-3zM275.2 301.8h3v3h-3zM278.5 303.1h3v3h-3zM271.0 304.6h3v3h-3zM276.8 305.2h3v3h-3zM273.1 308.2h3v3h-3zM274.7 308.8h3v3h-3zM271.6 311.0h3v3h-3zM272.2 311.9h3v3h-3zM267.8 312.8h3v3h-3zM273.7 313.6h3v3h-3zM272.0 314.9h3v3h-3zM274.6 315.5h3v3h-3zM265.3 316.4h3v3h-3zM270.4 317.0h3v3h-3zM277.7 319.4h3v3h-3zM274.7 319.4h3v3h-3zM275.9 320.7h3v3h-3zM276.9 321.4h3v3h-3zM279.4 322.2h3v3h-3zM274.1 323.6h3v3h-3zM277.2 324.6h3v3h-3zM268.0 325.1h3v3h-3zM268.1 326.2h3v3h-3zM277.3 328.2h3v3h-3zM275.1 328.8h3v3h-3zM269.8 331.7h3v3h-3zM265.7 334.4h3v3h-3zM277.1 335.4h3v3h-3zM273.8 336.9h3v3h-3zM267.1 337.7h3v3h-3zM274.4 338.7h3v3h-3zM279.7 340.0h3v3h-3zM271.1 341.7h3v3h-3zM272.0 344.4h3v3h-3zM265.6 345.7h3v3h-3zM272.5 348.0h3v3h-3zM278.6 353.1h3v3h-3zM271.9 353.6h3v3h-3zM273.0 355.4h3v3h-3zM268.3 356.5h3v3h-3zM269.1 356.8h3v3h-3zM268.1 358.5h3v3h-3zM268.0 359.5h3v3h-3zM278.1 359.9h3v3h-3zM267.5 360.8h3v3h-3zM278.3 361.2h3v3h-3zM280.1 363.1h3v3h-3zM278.3 365.5h3v3h-3zM271.3 366.1h3v3h-3zM273.9 366.7h3v3h-3zM272.3 367.9h3v3h-3zM267.2 368.7h3v3h-3zM267.8 369.0h3v3h-3zM269.9 370.2h3v3h-3zM270.3 370.5h3v3h-3zM274.2 371.3h3v3h-3zM274.4 373.9h3v3h-3zM279.5 374.4h3v3h-3zM273.9 376.0h3v3h-3zM275.0 376.8h3v3h-3zM271.0 378.1h3v3h-3zM273.2 379.2h3v3h-3zM279.7 380.1h3v3h-3zM267.2 380.7h3v3h-3zM279.8 381.9h3v3h-3zM278.1 384.0h3v3h-3zM278.5 384.9h3v3h-3zM277.8 386.6h3v3h-3zM272.1 389.5h3v3h-3zM269.5 391.4h3v3h-3zM269.1 393.6h3v3h-3zM271.0 395.1h3v3h-3zM280.1 397.1h3v3h-3zM278.3 397.9h3v3h-3zM271.0 400.2h3v3h-3zM271.7 405.1h3v3h-3zM277.3 407.7h3v3h-3zM266.1 409.8h3v3h-3zM276.3 413.2h3v3h-3zM270.3 415.1h3v3h-3zM276.4 416.7h3v3h-3zM268.3 419.9h3v3h-3zM269.9 426.2h3v3h-3zM276.8 430.3h3v3h-3zM268.2 430.7h3v3h-3z"/>
<path fill="#65b9ff" fill-opacity="0.05" d="M301.4 278.9h3v3h-3zM307.6 280.4h3v3h-3zM296.2 281.3h3v3h-3zM305.6 282.5h3v3h-3zM308.1 283.7h3v3h-3zM308.2 284.6h3v3h-3zM307.8 285.2h3v3h-3zM306.6 286.3h3v3h-3zM307.6 286.7h3v3h-3zM295.5 288.9h3v3h-3zM308.8 289.6h3v3h-3zM301.2 290.4h3v3h-3zM308.6 291.6h3v3h-3zM304.6 292.9h3v3h-3zM298.6 293.4h3v3h-3zM307.6 295.3h3v3h-3zM299.8 295.7h3v3h-3zM299.4 296.7h3v3h-3zM294.1 297.9h3v3h-3zM306.7 298.9h3v3h-3zM305.8 299.8h3v3h-3zM307.7 300.4h3v3h-3zM294.9 302.7h3v3h-3zM298.0 303.8h3v3h-3zM296.2 305.1h3v3h-3zM305.3 306.0h3v3h-3zM300.4 307.8h3v3h-3zM297.3 308.6h3v3h-3zM305.5 309.8h3v3h-3zM297.0 311.0h3v3h-3zM307.1 312.1h3v3h-3zM302.8 313.7h3v3h-3zM306.8 314.6h3v3h-3zM306.2 315.5h3v3h-3zM304.0 316.1h3v3h-3zM299.2 317.8h3v3h-3zM301.6 318.9h3v3h-3zM295.5 320.9h3v3h-3zM306.2 320.7h3v3h-3zM306.6 321.9h3v3h-3zM305.8 323.3h3v3h-3zM307.7 324.5h3v3h-3zM301.4 325.5h3v3h-3zM304.6 326.2h3v3h-3zM307.2 327.9h3v3h-3zM295.1 328.5h3v3h-3zM298.0 330.3h3v3h-3zM295.2 330.7h3v3h-3zM301.4 331.2h3v3h-3zM297.7 332.0h3v3h-3zM308.6 333.1h3v3h-3zM307.4 334.2h3v3h-3zM299.0 336.0h3v3h-3zM306.0 337.5h3v3h-3zM302.3 337.6h3v3h-3zM308.3 340.0h3v3h-3zM301.9 340.4h3v3h-3zM307.6 340.7h3v3h-3zM293.3 343.4h3v3h-3zM296.7 345.7h3v3h-3zM296.1 346.6h3v3h-3zM305.0 347.7h3v3h-3zM296.7 348.8h3v3h-3zM303.4 349.4h3v3h-3zM293.2 350.0h3v3h-3zM306.6 350.7h3v3h-3zM301.0 352.0h3v3h-3zM304.1 353.6h3v3h-3zM298.1 353.6h3v3h-3zM299.7 354.6h3v3h-3zM306.3 355.4h3v3h-3zM308.6 357.4h3v3h-3zM300.0 358.1h3v3h-3zM306.4 359.4h3v3h-3zM296.4 361.9h3v3h-3zM297.3 363.3h3v3h-3zM302.3 363.9h3v3h-3zM303.5 364.1h3v3h-3zM307.2 370.2h3v3h-3zM303.0 371.8h3v3h-3zM306.6 373.9h3v3h-3zM295.3 375.6h3v3h-3zM296.6 379.3h3v3h-3zM299.8 382.8h3v3h-3zM305.1 383.1h3v3h-3zM303.6 386.7h3v3h-3z"/>
<path fill="#65b9ff" fill-opacity="0.05" d="M307.5 279.4h3v3h-3zM293.7 280.4h3v3h-3zM304.3 281.5h3v3h-3zM296.6 283.4h3v3h-3zM301.7 284.5h3v3h-3zM305.4 284.9h3v3h-3zM305.7 285.2h3v3h-3zM304.2 286.9h3v3h-3zM302.5 286.9h3v3h-3zM303.6 288.8h3v3h-3zM304.0 290.2h3v3h-3zM296.9 291.2h3v3h-3zM293.5 291.7h3v3h-3zM297.9 292.9h3v3h-3zM305.8 293.5h3v3h-3zM303.4 295.3h3v3h-3zM299.3 296.2h3v3h-3zM296.9 297.0h3v3h-3zM297.2 298.3h3v3h-3zM295.5 299.5h3v3h-3zM294.8 300.3h3v3h-3zM298.3 301.7h3v3h-3zM302.9 302.8h3v3h-3zM302.3 304.1h3v3h-3zM296.5 305.2h3v3h-3zM308.5 306.3h3v3h-3zM296.4 307.6h3v3h-3zM306.0 308.8h3v3h-3zM293.9 310.1h3v3h-3zM305.0 310.7h3v3h-3zM297.5 313.5h3v3h-3zM296.1 313.7h3v3h-3zM295.9 314.6h3v3h-3zM298.2 315.6h3v3h-3zM295.6 316.8h3v3h-3zM305.7 318.0h3v3h-3zM297.2 319.0h3v3h-3zM304.0 320.7h3v3h-3zM298.2 321.3h3v3h-3zM297.5 322.4h3v3h-3zM301.9 323.5h3v3h-3zM293.4 324.6h3v3h-3zM304.9 325.2h3v3h-3zM307.0 326.8h3v3h-3zM298.5 328.4h3v3h-3zM302.1 328.7h3v3h-3zM306.1 330.5h3v3h-3zM296.7 331.0h3v3h-3zM297.9 331.9h3v3h-3zM296.1 332.9h3v3h-3zM293.3 333.2h3v3h-3zM308.3 334.8h3v3h-3zM301.5 336.0h3v3h-3zM299.7 338.0h3v3h-3zM307.6 338.0h3v3h-3zM301.5 339.6h3v3h-3zM296.3 340.4h3v3h-3zM299.9 341.5h3v3h-3zM302.5 343.2h3v3h-3zM300.6 346.1h3v3h-3zM307.5 347.1h3v3h-3zM299.8 348.1h3v3h-3zM304.7 348.6h3v3h-3zM296.4 349.2h3v3h-3zM293.8 350.2h3v3h-3zM301.7 351.1h3v3h-3zM305.8 352.6h3v3h-3zM293.8 353.9h3v3h-3zM298.5 354.2h3v3h-3zM304.5 354.9h3v3h-3zM306.6 355.6h3v3h-3zM304.9 357.6h3v3h-3zM301.3 358.9h3v3h-3zM302.1 359.2h3v3h-3zM306.1 361.8h3v3h-3zM294.1 363.2h3v3h-3zM298.9 363.5h3v3h-3zM297.2 365.2h3v3h-3zM301.0 371.3h3v3h-3zM305.2 373.6h3v3h-3zM307.8 374.1h3v3h-3zM301.4 376.4h3v3h-3zM301.5 379.0h3v3h-3zM304.4 383.3h3v3h-3zM304.3 385.2h3v3h-3zM298.8 387.0h3v3h-3z"/>
<path fill="#65b9ff" fill-opacity="0.05" d="M298.3 279.6h3v3h-3zM301.0 281.3h3v3h-3zM297.5 281.6h3v3h-3zM300.5 283.5h3v3h-3zM295.0 284.4h3v3h-3zM298.2 284.8h3v3h-3zM301.7 285.5h3v3h-3zM302.7 286.5h3v3h-3zM293.8 288.1h3v3h-3zM299.7 289.5h3v3h-3zM300.9 290.1h3v3h-3zM303.3 291.3h3v3h-3zM299.7 292.0h3v3h-3zM296.4 292.8h3v3h-3zM301.2 295.3h3v3h-3zM295.2 295.7h3v3h-3zM293.5 296.9h3v3h-3zM300.5 297.7h3v3h-3zM296.8 298.9h3v3h-3zM304.6 299.5h3v3h-3zM299.8 300.1h3v3h-3zM304.4 302.2h3v3h-3zM298.5 302.5h3v3h-3zM305.4 304.1h3v3h-3zM300.6 305.7h3v3h-3zM303.8 306.2h3v3h-3zM301.7 308.0h3v3h-3zM297.7 309.1h3v3h-3zM297.2 310.3h3v3h-3zM306.4 311.6h3v3h-3zM308.6 313.5h3v3h-3zM295.8 314.3h3v3h-3zM301.8 315.4h3v3h-3zM297.8 316.4h3v3h-3zM298.2 316.6h3v3h-3zM307.6 318.9h3v3h-3zM299.6 319.8h3v3h-3zM298.6 320.6h3v3h-3zM304.0 321.7h3v3h-3zM294.5 322.6h3v3h-3zM307.5 323.6h3v3h-3zM305.4 324.6h3v3h-3zM308.2 325.9h3v3h-3zM305.8 327.3h3v3h-3zM306.0 328.2h3v3h-3zM307.4 329.9h3v3h-3zM295.1 330.7h3v3h-3zM297.5 331.0h3v3h-3zM304.0 331.9h3v3h-3zM297.4 333.4h3v3h-3zM298.6 333.3h3v3h-3zM301.7 335.4h3v3h-3zM301.9 337.2h3v3h-3zM297.2 337.7h3v3h-3zM304.1 338.2h3v3h-3zM301.3 340.0h3v3h-3zM293.6 340.3h3v3h-3zM297.2 342.9h3v3h-3zM302.4 344.5h3v3h-3zM299.5 346.4h3v3h-3zM295.2 347.8h3v3h-3zM300.4 348.3h3v3h-3zM304.0 349.0h3v3h-3zM298.0 349.7h3v3h-3zM293.6 350.3h3v3h-3zM305.4 351.0h3v3h-3zM301.4 353.2h3v3h-3zM303.7 353.8h3v3h-3zM294.3 354.5h3v3h-3zM293.4 355.0h3v3h-3zM305.7 357.3h3v3h-3zM298.3 357.7h3v3h-3zM298.5 358.7h3v3h-3zM302.0 359.0h3v3h-3zM297.4 362.6h3v3h-3zM301.6 363.2h3v3h-3zM294.9 364.1h3v3h-3zM293.2 370.1h3v3h-3zM295.0 371.2h3v3h-3zM298.6 373.6h3v3h-3zM296.8 374.7h3v3h-3zM301.5 376.6h3v3h-3zM305.3 380.6h3v3h-3zM308.2 383.5h3v3h-3zM308.6 386.5h3v3h-3zM298.7 395.2h3v3h-3z"/>
</g>
<line x1="134.0" y1="287.9" x2="134.0" y2="305.3" stroke="#222" stroke-width="1.1"/>
<line x1="134.0" y1="327.4" x2="134.0" y2="350.2" stroke="#222" stroke-width="1.1"/>
<rect x="121.2" y="305.3" width="25.6" height="22.1" fill="#233d8d" fill-opacity="0.5" stroke="#1a1a1a" stroke-width="1.1"/>
<line x1="121.7" y1="316.2" x2="146.3" y2="316.2" stroke="#000" stroke-width="3.2"/>
<line x1="162.1" y1="300.0" x2="162.1" y2="316.5" stroke="#222" stroke-width="1.1"/>
<line x1="162.1" y1="331.4" x2="162.1" y2="353.7" stroke="#222" stroke-width="1.1"/>
<rect x="149.3" y="316.5" width="25.6" height="14.9" fill="#4169eb" fill-opacity="0.5" stroke="#1a1a1a" stroke-width="1.1"/>
<line x1="149.8" y1="322.0" x2="174.4" y2="322.0" stroke="#000" stroke-width="3.2"/>
<line x1="190.2" y1="287.9" x2="190.2" y2="300.0" stroke="#222" stroke-width="1.1"/>
<line x1="190.2" y1="316.7" x2="190.2" y2="336.0" stroke="#222" stroke-width="1.1"/>
<rect x="177.4" y="300.0" width="25.6" height="16.7" fill="#65b9ff" fill-opacity="0.5" stroke="#1a1a1a" stroke-width="1.1"/>
<line x1="177.9" y1="307.1" x2="202.5" y2="307.1" stroke="#000" stroke-width="3.2"/>
<line x1="246.4" y1="301.3" x2="246.4" y2="324.1" stroke="#222" stroke-width="1.1"/>
<line x1="246.4" y1="349.4" x2="246.4" y2="381.0" stroke="#222" stroke-width="1.1"/>
<rect x="233.6" y="324.1" width="25.6" height="25.3" fill="#233d8d" fill-opacity="0.5" stroke="#1a1a1a" stroke-width="1.1"/>
<line x1="234.1" y1="339.5" x2="258.7" y2="339.5" stroke="#000" stroke-width="3.2"/>
<line x1="274.4" y1="283.6" x2="274.4" y2="315.2" stroke="#222" stroke-width="1.1"/>
<line x1="274.4" y1="337.5" x2="274.4" y2="370.4" stroke="#222" stroke-width="1.1"/>
<rect x="261.6" y="315.2" width="25.6" height="22.3" fill="#4169eb" fill-opacity="0.5" stroke="#1a1a1a" stroke-width="1.1"/>
<line x1="262.1" y1="323.0" x2="286.7" y2="323.0" stroke="#000" stroke-width="3.2"/>
<line x1="302.5" y1="279.3" x2="302.5" y2="299.3" stroke="#222" stroke-width="1.1"/>
<line x1="302.5" y1="316.5" x2="302.5" y2="341.3" stroke="#222" stroke-width="1.1"/>
<rect x="289.7" y="299.3" width="25.6" height="17.2" fill="#65b9ff" fill-opacity="0.5" stroke="#1a1a1a" stroke-width="1.1"/>
<line x1="290.2" y1="306.4" x2="314.8" y2="306.4" stroke="#000" stroke-width="3.2"/>
</g>
<rect x="94.5" y="240.4" width="247.2" height="196.4" fill="none" stroke="#555" stroke-width="1.2"/>
<line x1="429.2" y1="427.8" x2="437.2" y2="427.8" stroke="#555" stroke-width="1.1"/>
<line x1="429.2" y1="383.1" x2="437.2" y2="383.1" stroke="#555" stroke-width="1.1"/>
<line x1="429.2" y1="338.4" x2="437.2" y2="338.4" stroke="#555" stroke-width="1.1"/>
<line x1="429.2" y1="293.7" x2="437.2" y2="293.7" stroke="#555" stroke-width="1.1"/>
<line x1="429.2" y1="249.0" x2="437.2" y2="249.0" stroke="#555" stroke-width="1.1"/>
<line x1="504.8" y1="436.8" x2="504.8" y2="444.8" stroke="#555" stroke-width="1.1"/>
<line x1="617.1" y1="436.8" x2="617.1" y2="444.8" stroke="#555" stroke-width="1.1"/>
<g clip-path="url(#cp11)">
<g filter="url(#sb)">
<rect x="579.8" y="284.0" width="18.6" height="68.0" fill="#233d8d" fill-opacity="0.12" rx="1"/>
<rect x="579.8" y="282.2" width="18.6" height="3.5" fill="#233d8d" fill-opacity="0.9" rx="1"/>
<rect x="579.8" y="287.2" width="18.6" height="2.5" fill="#233d8d" fill-opacity="0.5" rx="1"/>
<rect x="579.8" y="289.2" width="18.6" height="2.5" fill="#233d8d" fill-opacity="0.45" rx="1"/>
<rect x="579.8" y="293.3" width="18.6" height="25.1" fill="#233d8d" fill-opacity="0.55" rx="1"/>
<rect x="579.8" y="295.8" width="18.6" height="2.5" fill="#233d8d" fill-opacity="0.7" rx="1"/>
<rect x="579.8" y="306.1" width="18.6" height="3.0" fill="#233d8d" fill-opacity="0.75" rx="1"/>
<rect x="579.8" y="310.2" width="18.6" height="2.5" fill="#233d8d" fill-opacity="0.6" rx="1"/>
<rect x="579.8" y="320.8" width="18.6" height="3.0" fill="#233d8d" fill-opacity="0.8" rx="1"/>
<rect x="579.8" y="326.1" width="18.6" height="2.5" fill="#233d8d" fill-opacity="0.55" rx="1"/>
<rect x="579.8" y="330.8" width="18.6" height="3.5" fill="#233d8d" fill-opacity="0.85" rx="1"/>
<rect x="579.8" y="335.9" width="18.6" height="2.5" fill="#233d8d" fill-opacity="0.4" rx="1"/>
<rect x="579.8" y="340.4" width="18.6" height="2.5" fill="#233d8d" fill-opacity="0.35" rx="1"/>
<rect x="579.8" y="348.4" width="18.6" height="3.0" fill="#233d8d" fill-opacity="0.7" rx="1"/>
<rect x="579.8" y="356.9" width="18.6" height="1.5" fill="#233d8d" fill-opacity="0.12" rx="1"/>
<rect x="579.8" y="366.6" width="18.6" height="2.0" fill="#233d8d" fill-opacity="0.15" rx="1"/>
<rect x="607.8" y="260.0" width="18.6" height="154.0" fill="url(#g9)" rx="1.5"/>
<rect x="635.9" y="265.0" width="18.6" height="136.0" fill="url(#g10)" rx="1.5"/>
</g>
<g filter="url(#sp)">
<g fill="#233d8d" fill-opacity="0.14"><rect x="473.2" y="269.7" width="3" height="3"/><rect x="473.4" y="282.7" width="3" height="3"/><rect x="474.3" y="273.7" width="3" height="3"/><rect x="482.4" y="275.3" width="3" height="3"/><rect x="476.7" y="279.5" width="3" height="3"/><rect x="472.6" y="261.3" width="3" height="3"/><rect x="482.3" y="272.8" width="3" height="3"/><rect x="476.5" y="262.0" width="3" height="3"/><rect x="479.0" y="269.1" width="3" height="3"/><rect x="477.4" y="267.0" width="3" height="3"/><rect x="481.7" y="269.0" width="3" height="3"/><rect x="471.7" y="281.1" width="3" height="3"/><rect x="470.9" y="266.7" width="3" height="3"/><rect x="475.0" y="283.1" width="3" height="3"/><rect x="469.2" y="265.3" width="3" height="3"/><rect x="479.8" y="262.2" width="3" height="3"/><rect x="473.9" y="278.5" width="3" height="3"/><rect x="478.5" y="278.7" width="3" height="3"/><rect x="469.2" y="281.0" width="3" height="3"/><rect x="473.0" y="279.2" width="3" height="3"/><rect x="474.8" y="281.0" width="3" height="3"/><rect x="474.9" y="266.4" width="3" height="3"/><rect x="469.8" y="271.9" width="3" height="3"/><rect x="468.2" y="264.3" width="3" height="3"/><rect x="481.0" y="273.7" width="3" height="3"/><rect x="480.9" y="287.6" width="3" height="3"/><rect x="474.9" y="296.2" width="3" height="3"/><rect x="469.1" y="290.6" width="3" height="3"/><rect x="481.8" y="303.0" width="3" height="3"/><rect x="475.3" y="300.0" width="3" height="3"/><rect x="480.8" y="309.3" width="3" height="3"/><rect x="476.7" y="284.9" width="3" height="3"/><rect x="481.0" y="287.9" width="3" height="3"/><rect x="471.1" y="287.2" width="3" height="3"/><rect x="475.4" y="299.2" width="3" height="3"/><rect x="474.6" y="296.2" width="3" height="3"/><rect x="469.6" y="302.9" width="3" height="3"/><rect x="475.8" y="291.8" width="3" height="3"/><rect x="480.4" y="308.9" width="3" height="3"/><rect x="481.8" y="310.1" width="3" height="3"/><rect x="468.5" y="294.0" width="3" height="3"/><rect x="474.4" y="290.4" width="3" height="3"/><rect x="479.0" y="307.9" width="3" height="3"/><rect x="469.6" y="297.2" width="3" height="3"/><rect x="482.5" y="307.5" width="3" height="3"/><rect x="474.4" y="286.3" width="3" height="3"/><rect x="474.5" y="297.5" width="3" height="3"/><rect x="479.7" y="288.5" width="3" height="3"/><rect x="471.8" y="310.1" width="3" height="3"/><rect x="467.6" y="300.0" width="3" height="3"/><rect x="468.9" y="303.8" width="3" height="3"/><rect x="474.0" y="308.5" width="3" height="3"/><rect x="470.9" y="307.2" width="3" height="3"/><rect x="471.0" y="284.8" width="3" height="3"/><rect x="468.7" y="285.6" width="3" height="3"/><rect x="473.5" y="309.7" width="3" height="3"/><rect x="472.9" y="302.9" width="3" height="3"/><rect x="467.9" y="297.4" width="3" height="3"/><rect x="475.8" y="286.1" width="3" height="3"/><rect x="476.4" y="295.5" width="3" height="3"/><rect x="472.5" y="305.9" width="3" height="3"/><rect x="478.2" y="286.7" width="3" height="3"/><rect x="469.1" y="284.9" width="3" height="3"/><rect x="471.5" y="300.7" width="3" height="3"/><rect x="482.5" y="309.7" width="3" height="3"/><rect x="480.9" y="286.9" width="3" height="3"/><rect x="479.8" y="304.1" width="3" height="3"/><rect x="474.8" y="310.4" width="3" height="3"/><rect x="476.7" y="286.7" width="3" height="3"/><rect x="470.8" y="287.0" width="3" height="3"/><rect x="476.9" y="300.4" width="3" height="3"/><rect x="480.8" y="283.8" width="3" height="3"/><rect x="467.6" y="309.8" width="3" height="3"/><rect x="471.5" y="290.6" width="3" height="3"/><rect x="480.9" y="286.5" width="3" height="3"/><rect x="479.8" y="307.7" width="3" height="3"/><rect x="476.2" y="299.9" width="3" height="3"/><rect x="467.5" y="299.9" width="3" height="3"/><rect x="477.0" y="304.3" width="3" height="3"/><rect x="475.5" y="313.1" width="3" height="3"/><rect x="470.9" y="325.5" width="3" height="3"/><rect x="468.6" y="313.0" width="3" height="3"/><rect x="471.3" y="328.8" width="3" height="3"/><rect x="475.9" y="318.7" width="3" height="3"/><rect x="482.4" y="323.9" width="3" height="3"/><rect x="471.1" y="323.5" width="3" height="3"/><rect x="480.7" y="319.0" width="3" height="3"/><rect x="474.2" y="323.8" width="3" height="3"/><rect x="482.8" y="325.2" width="3" height="3"/><rect x="470.2" y="323.9" width="3" height="3"/><rect x="472.4" y="321.4" width="3" height="3"/><rect x="478.5" y="311.0" width="3" height="3"/><rect x="475.3" y="317.7" width="3" height="3"/><rect x="476.7" y="329.4" width="3" height="3"/><rect x="474.7" y="325.0" width="3" height="3"/><rect x="471.9" y="316.4" width="3" height="3"/><rect x="475.4" y="322.7" width="3" height="3"/><rect x="470.9" y="328.1" width="3" height="3"/><rect x="475.2" y="318.7" width="3" height="3"/><rect x="471.4" y="329.7" width="3" height="3"/><rect x="481.5" y="332.1" width="3" height="3"/></g>
<g fill="#4169eb" fill-opacity="0.14"><rect x="499.4" y="308.6" width="3" height="3"/><rect x="505.4" y="307.2" width="3" height="3"/><rect x="508.9" y="326.2" width="3" height="3"/><rect x="500.8" y="319.3" width="3" height="3"/><rect x="506.2" y="311.1" width="3" height="3"/><rect x="501.2" y="329.3" width="3" height="3"/><rect x="506.1" y="323.5" width="3" height="3"/><rect x="497.1" y="312.8" width="3" height="3"/><rect x="499.5" y="307.4" width="3" height="3"/><rect x="505.5" y="323.1" width="3" height="3"/><rect x="509.9" y="322.6" width="3" height="3"/><rect x="509.8" y="320.1" width="3" height="3"/><rect x="503.6" y="314.7" width="3" height="3"/><rect x="502.7" y="333.7" width="3" height="3"/><rect x="503.1" y="306.6" width="3" height="3"/><rect x="501.0" y="312.2" width="3" height="3"/><rect x="505.2" y="321.3" width="3" height="3"/><rect x="502.9" y="333.4" width="3" height="3"/><rect x="507.4" y="309.0" width="3" height="3"/><rect x="496.0" y="326.8" width="3" height="3"/><rect x="504.8" y="325.4" width="3" height="3"/><rect x="503.3" y="307.5" width="3" height="3"/><rect x="502.5" y="330.7" width="3" height="3"/><rect x="504.9" y="307.8" width="3" height="3"/><rect x="497.4" y="332.7" width="3" height="3"/><rect x="504.0" y="341.6" width="3" height="3"/><rect x="506.5" y="369.7" width="3" height="3"/><rect x="509.0" y="359.4" width="3" height="3"/><rect x="508.1" y="338.7" width="3" height="3"/><rect x="502.7" y="365.5" width="3" height="3"/><rect x="500.8" y="340.8" width="3" height="3"/><rect x="509.0" y="361.6" width="3" height="3"/><rect x="495.6" y="337.9" width="3" height="3"/><rect x="504.2" y="370.8" width="3" height="3"/><rect x="505.1" y="367.9" width="3" height="3"/><rect x="497.1" y="356.8" width="3" height="3"/><rect x="498.3" y="347.8" width="3" height="3"/><rect x="497.8" y="352.7" width="3" height="3"/><rect x="496.2" y="359.8" width="3" height="3"/><rect x="505.6" y="369.0" width="3" height="3"/><rect x="507.5" y="338.3" width="3" height="3"/><rect x="509.1" y="355.6" width="3" height="3"/><rect x="510.1" y="353.7" width="3" height="3"/><rect x="496.8" y="361.6" width="3" height="3"/><rect x="498.2" y="371.9" width="3" height="3"/><rect x="503.9" y="368.9" width="3" height="3"/><rect x="503.2" y="347.6" width="3" height="3"/><rect x="505.8" y="361.8" width="3" height="3"/><rect x="502.7" y="345.7" width="3" height="3"/><rect x="502.1" y="361.9" width="3" height="3"/><rect x="499.1" y="341.3" width="3" height="3"/><rect x="503.1" y="359.8" width="3" height="3"/><rect x="496.5" y="345.5" width="3" height="3"/><rect x="510.7" y="345.4" width="3" height="3"/><rect x="507.5" y="346.8" width="3" height="3"/><rect x="496.8" y="353.5" width="3" height="3"/><rect x="509.1" y="364.3" width="3" height="3"/><rect x="496.2" y="361.5" width="3" height="3"/><rect x="505.2" y="353.3" width="3" height="3"/><rect x="505.9" y="354.8" width="3" height="3"/><rect x="498.4" y="361.2" width="3" height="3"/><rect x="497.5" y="347.0" width="3" height="3"/><rect x="508.8" y="356.5" width="3" height="3"/><rect x="503.5" y="361.8" width="3" height="3"/><rect x="503.2" y="349.7" width="3" height="3"/><rect x="504.1" y="336.3" width="3" height="3"/><rect x="501.0" y="337.0" width="3" height="3"/><rect x="511.0" y="369.1" width="3" height="3"/><rect x="505.7" y="341.4" width="3" height="3"/><rect x="508.8" y="346.0" width="3" height="3"/><rect x="508.1" y="359.6" width="3" height="3"/><rect x="504.9" y="362.9" width="3" height="3"/><rect x="499.7" y="366.4" width="3" height="3"/><rect x="504.0" y="363.5" width="3" height="3"/><rect x="508.6" y="344.9" width="3" height="3"/><rect x="501.9" y="348.9" width="3" height="3"/><rect x="496.7" y="367.9" width="3" height="3"/><rect x="506.2" y="353.6" width="3" height="3"/><rect x="504.0" y="368.1" width="3" height="3"/><rect x="496.6" y="380.4" width="3" height="3"/><rect x="506.2" y="384.3" width="3" height="3"/><rect x="503.3" y="378.2" width="3" height="3"/><rect x="499.0" y="387.2" width="3" height="3"/><rect x="500.8" y="393.1" width="3" height="3"/><rect x="509.6" y="393.8" width="3" height="3"/><rect x="499.8" y="383.8" width="3" height="3"/><rect x="497.1" y="380.4" width="3" height="3"/><rect x="496.7" y="383.5" width="3" height="3"/><rect x="510.4" y="389.3" width="3" height="3"/><rect x="501.2" y="378.6" width="3" height="3"/><rect x="510.0" y="373.7" width="3" height="3"/><rect x="508.7" y="391.3" width="3" height="3"/><rect x="496.6" y="393.4" width="3" height="3"/><rect x="505.6" y="381.1" width="3" height="3"/><rect x="502.1" y="385.9" width="3" height="3"/><rect x="503.7" y="391.6" width="3" height="3"/><rect x="509.5" y="379.7" width="3" height="3"/><rect x="495.6" y="389.6" width="3" height="3"/><rect x="505.6" y="386.9" width="3" height="3"/><rect x="496.7" y="374.2" width="3" height="3"/><rect x="509.5" y="380.5" width="3" height="3"/></g>
<g fill="#65b9ff" fill-opacity="0.14"><rect x="531.0" y="330.6" width="3" height="3"/><rect x="526.6" y="318.7" width="3" height="3"/><rect x="524.6" y="316.1" width="3" height="3"/><rect x="535.1" y="302.0" width="3" height="3"/><rect x="535.5" y="330.4" width="3" height="3"/><rect x="536.5" y="324.2" width="3" height="3"/><rect x="538.4" y="321.6" width="3" height="3"/><rect x="532.1" y="325.4" width="3" height="3"/><rect x="536.2" y="318.5" width="3" height="3"/><rect x="534.0" y="302.7" width="3" height="3"/><rect x="528.9" y="307.9" width="3" height="3"/><rect x="537.0" y="323.9" width="3" height="3"/><rect x="528.1" y="331.3" width="3" height="3"/><rect x="524.5" y="298.7" width="3" height="3"/><rect x="528.7" y="299.2" width="3" height="3"/><rect x="538.4" y="309.1" width="3" height="3"/><rect x="529.7" y="326.4" width="3" height="3"/><rect x="531.9" y="318.6" width="3" height="3"/><rect x="530.5" y="312.6" width="3" height="3"/><rect x="538.5" y="306.2" width="3" height="3"/><rect x="531.8" y="313.2" width="3" height="3"/><rect x="525.8" y="301.6" width="3" height="3"/><rect x="531.5" y="324.5" width="3" height="3"/><rect x="530.3" y="298.6" width="3" height="3"/><rect x="538.2" y="301.3" width="3" height="3"/><rect x="537.4" y="298.1" width="3" height="3"/><rect x="533.7" y="301.6" width="3" height="3"/><rect x="527.7" y="311.3" width="3" height="3"/><rect x="535.4" y="311.7" width="3" height="3"/><rect x="530.1" y="310.6" width="3" height="3"/><rect x="531.7" y="306.3" width="3" height="3"/><rect x="538.5" y="303.2" width="3" height="3"/><rect x="525.7" y="315.7" width="3" height="3"/><rect x="529.1" y="321.7" width="3" height="3"/><rect x="524.2" y="320.2" width="3" height="3"/><rect x="529.3" y="329.0" width="3" height="3"/><rect x="528.3" y="340.6" width="3" height="3"/><rect x="528.6" y="342.7" width="3" height="3"/><rect x="528.0" y="345.6" width="3" height="3"/><rect x="530.0" y="346.4" width="3" height="3"/><rect x="528.1" y="341.1" width="3" height="3"/><rect x="532.3" y="346.6" width="3" height="3"/><rect x="533.8" y="340.5" width="3" height="3"/><rect x="524.9" y="333.9" width="3" height="3"/><rect x="525.9" y="335.4" width="3" height="3"/><rect x="526.5" y="345.4" width="3" height="3"/><rect x="528.9" y="350.6" width="3" height="3"/><rect x="527.2" y="336.7" width="3" height="3"/><rect x="526.5" y="334.5" width="3" height="3"/><rect x="534.2" y="343.6" width="3" height="3"/><rect x="527.5" y="348.5" width="3" height="3"/><rect x="534.1" y="340.5" width="3" height="3"/><rect x="533.1" y="345.3" width="3" height="3"/><rect x="530.5" y="333.4" width="3" height="3"/><rect x="529.3" y="351.4" width="3" height="3"/><rect x="529.4" y="344.9" width="3" height="3"/><rect x="525.0" y="347.8" width="3" height="3"/><rect x="537.1" y="339.3" width="3" height="3"/><rect x="529.4" y="342.3" width="3" height="3"/><rect x="527.5" y="335.9" width="3" height="3"/><rect x="525.6" y="345.9" width="3" height="3"/><rect x="531.5" y="351.6" width="3" height="3"/><rect x="538.6" y="349.9" width="3" height="3"/><rect x="538.3" y="349.1" width="3" height="3"/><rect x="524.0" y="334.2" width="3" height="3"/><rect x="538.8" y="349.8" width="3" height="3"/><rect x="533.2" y="344.5" width="3" height="3"/><rect x="530.4" y="340.4" width="3" height="3"/><rect x="525.9" y="343.0" width="3" height="3"/><rect x="527.9" y="334.1" width="3" height="3"/><rect x="537.2" y="343.6" width="3" height="3"/><rect x="537.3" y="337.7" width="3" height="3"/><rect x="532.6" y="337.3" width="3" height="3"/><rect x="536.6" y="335.9" width="3" height="3"/><rect x="533.7" y="343.2" width="3" height="3"/><rect x="528.7" y="333.2" width="3" height="3"/><rect x="531.2" y="366.1" width="3" height="3"/><rect x="536.4" y="357.8" width="3" height="3"/><rect x="526.5" y="360.4" width="3" height="3"/><rect x="536.1" y="358.5" width="3" height="3"/><rect x="533.5" y="353.3" width="3" height="3"/><rect x="524.9" y="370.9" width="3" height="3"/><rect x="531.4" y="355.4" width="3" height="3"/><rect x="531.0" y="377.0" width="3" height="3"/><rect x="529.7" y="367.0" width="3" height="3"/><rect x="530.2" y="365.6" width="3" height="3"/><rect x="524.3" y="375.5" width="3" height="3"/><rect x="532.6" y="361.5" width="3" height="3"/><rect x="528.0" y="357.4" width="3" height="3"/><rect x="538.2" y="374.4" width="3" height="3"/><rect x="529.5" y="368.2" width="3" height="3"/><rect x="532.2" y="357.7" width="3" height="3"/><rect x="524.1" y="371.6" width="3" height="3"/><rect x="526.1" y="367.2" width="3" height="3"/><rect x="523.9" y="353.1" width="3" height="3"/><rect x="526.2" y="369.5" width="3" height="3"/><rect x="533.2" y="378.3" width="3" height="3"/><rect x="533.9" y="366.1" width="3" height="3"/><rect x="523.8" y="377.4" width="3" height="3"/><rect x="531.2" y="374.8" width="3" height="3"/><rect x="524.3" y="374.2" width="3" height="3"/><rect x="531.0" y="358.1" width="3" height="3"/><rect x="529.9" y="354.5" width="3" height="3"/></g>
<path fill="#4169eb" fill-opacity="0.05" d="M618.5 262.2h3v3h-3zM620.9 263.9h3v3h-3zM621.6 266.6h3v3h-3zM618.6 270.0h3v3h-3zM615.3 271.9h3v3h-3zM616.3 277.5h3v3h-3zM615.9 281.8h3v3h-3zM620.4 283.0h3v3h-3zM618.2 285.6h3v3h-3zM608.3 287.4h3v3h-3zM622.1 289.9h3v3h-3zM621.0 292.8h3v3h-3zM608.0 293.8h3v3h-3zM617.0 294.6h3v3h-3zM615.9 296.7h3v3h-3zM612.5 297.4h3v3h-3zM619.3 298.3h3v3h-3zM611.9 298.4h3v3h-3zM614.7 299.0h3v3h-3zM614.8 301.0h3v3h-3zM616.0 304.0h3v3h-3zM616.6 304.6h3v3h-3zM623.3 307.3h3v3h-3zM623.2 308.4h3v3h-3zM615.3 308.6h3v3h-3zM612.1 309.1h3v3h-3zM608.8 310.1h3v3h-3zM609.7 310.7h3v3h-3zM608.5 313.5h3v3h-3zM615.2 314.6h3v3h-3zM617.0 315.2h3v3h-3zM615.7 316.3h3v3h-3zM609.7 316.6h3v3h-3zM622.2 317.6h3v3h-3zM615.0 318.9h3v3h-3zM615.2 320.1h3v3h-3zM611.9 321.8h3v3h-3zM617.0 322.5h3v3h-3zM610.7 323.1h3v3h-3zM620.1 324.8h3v3h-3zM611.1 325.9h3v3h-3zM608.5 327.3h3v3h-3zM615.4 328.5h3v3h-3zM609.8 329.8h3v3h-3zM609.6 330.3h3v3h-3zM623.3 330.8h3v3h-3zM617.8 332.0h3v3h-3zM621.3 332.5h3v3h-3zM616.5 335.0h3v3h-3zM616.0 336.5h3v3h-3zM616.4 338.5h3v3h-3zM613.7 339.3h3v3h-3zM619.3 339.7h3v3h-3zM621.2 342.5h3v3h-3zM609.1 342.8h3v3h-3zM618.3 343.7h3v3h-3zM621.8 345.9h3v3h-3zM623.1 347.5h3v3h-3zM619.7 348.0h3v3h-3zM614.6 348.5h3v3h-3zM615.4 349.7h3v3h-3zM621.0 351.6h3v3h-3zM621.5 354.0h3v3h-3zM609.4 356.8h3v3h-3zM619.3 357.3h3v3h-3zM615.9 359.4h3v3h-3zM619.5 360.2h3v3h-3zM622.2 360.5h3v3h-3zM609.0 361.4h3v3h-3zM614.8 362.2h3v3h-3zM607.9 362.8h3v3h-3zM613.7 364.3h3v3h-3zM609.8 365.0h3v3h-3zM618.0 366.8h3v3h-3zM622.2 367.9h3v3h-3zM617.3 368.9h3v3h-3zM612.0 369.1h3v3h-3zM616.7 370.0h3v3h-3zM616.6 371.8h3v3h-3zM611.4 372.8h3v3h-3zM612.0 374.5h3v3h-3zM618.3 376.9h3v3h-3zM617.3 379.4h3v3h-3zM619.3 380.4h3v3h-3zM622.9 380.7h3v3h-3zM614.4 381.9h3v3h-3zM607.9 382.3h3v3h-3zM613.4 382.9h3v3h-3zM615.2 383.7h3v3h-3zM613.7 384.7h3v3h-3zM621.7 385.3h3v3h-3zM611.2 385.7h3v3h-3zM619.8 386.7h3v3h-3zM623.3 387.6h3v3h-3zM623.2 388.2h3v3h-3zM623.2 389.4h3v3h-3zM617.8 391.1h3v3h-3zM619.4 392.9h3v3h-3zM622.9 393.8h3v3h-3zM620.8 394.1h3v3h-3zM617.8 396.2h3v3h-3zM614.2 398.0h3v3h-3zM615.5 398.7h3v3h-3zM614.1 399.1h3v3h-3zM617.9 401.3h3v3h-3zM622.6 403.0h3v3h-3zM611.7 404.8h3v3h-3zM616.4 405.4h3v3h-3zM614.8 407.4h3v3h-3zM610.3 408.4h3v3h-3zM608.2 409.6h3v3h-3z"/>
<path fill="#4169eb" fill-opacity="0.05" d="M619.7 262.8h3v3h-3zM614.9 263.7h3v3h-3zM614.2 267.8h3v3h-3zM613.3 270.0h3v3h-3zM612.5 273.9h3v3h-3zM608.5 279.6h3v3h-3zM619.4 282.8h3v3h-3zM616.5 284.9h3v3h-3zM612.7 286.4h3v3h-3zM609.7 288.2h3v3h-3zM616.6 289.8h3v3h-3zM618.7 293.2h3v3h-3zM615.2 294.2h3v3h-3zM619.3 296.1h3v3h-3zM618.3 296.6h3v3h-3zM620.9 297.6h3v3h-3zM614.0 298.2h3v3h-3zM621.0 298.3h3v3h-3zM611.8 299.9h3v3h-3zM616.3 300.8h3v3h-3zM613.1 304.6h3v3h-3zM608.5 305.7h3v3h-3zM622.7 307.7h3v3h-3zM615.7 308.4h3v3h-3zM617.3 308.7h3v3h-3zM609.6 309.4h3v3h-3zM615.6 310.0h3v3h-3zM620.3 312.9h3v3h-3zM609.3 314.3h3v3h-3zM608.7 315.4h3v3h-3zM615.9 315.6h3v3h-3zM616.8 316.2h3v3h-3zM612.7 316.7h3v3h-3zM621.5 318.4h3v3h-3zM621.7 319.0h3v3h-3zM611.7 320.8h3v3h-3zM612.2 322.7h3v3h-3zM611.6 323.0h3v3h-3zM622.2 323.4h3v3h-3zM608.5 325.0h3v3h-3zM619.1 326.0h3v3h-3zM620.9 327.9h3v3h-3zM616.3 328.7h3v3h-3zM619.4 329.9h3v3h-3zM614.1 330.4h3v3h-3zM617.1 330.6h3v3h-3zM609.2 331.9h3v3h-3zM621.7 333.5h3v3h-3zM614.5 334.8h3v3h-3zM609.2 337.7h3v3h-3zM616.2 338.7h3v3h-3zM609.2 339.2h3v3h-3zM617.4 340.0h3v3h-3zM620.0 342.8h3v3h-3zM617.3 342.8h3v3h-3zM609.7 344.0h3v3h-3zM616.6 346.2h3v3h-3zM616.6 347.6h3v3h-3zM609.8 348.2h3v3h-3zM617.3 348.6h3v3h-3zM613.0 351.0h3v3h-3zM622.7 353.5h3v3h-3zM612.0 355.4h3v3h-3zM615.3 357.1h3v3h-3zM611.8 359.1h3v3h-3zM616.1 359.2h3v3h-3zM623.0 360.9h3v3h-3zM622.2 361.0h3v3h-3zM614.8 361.1h3v3h-3zM613.4 362.4h3v3h-3zM623.3 363.4h3v3h-3zM616.0 364.1h3v3h-3zM616.4 365.3h3v3h-3zM622.5 367.3h3v3h-3zM616.0 368.4h3v3h-3zM613.8 368.8h3v3h-3zM610.2 370.0h3v3h-3zM608.2 370.6h3v3h-3zM609.1 372.3h3v3h-3zM607.9 372.9h3v3h-3zM612.2 374.1h3v3h-3zM614.5 378.7h3v3h-3zM621.6 379.1h3v3h-3zM612.8 380.0h3v3h-3zM611.2 381.0h3v3h-3zM622.9 381.9h3v3h-3zM613.3 382.0h3v3h-3zM609.2 383.4h3v3h-3zM619.3 383.9h3v3h-3zM614.6 384.8h3v3h-3zM609.6 385.9h3v3h-3zM615.8 385.7h3v3h-3zM617.1 386.8h3v3h-3zM607.9 387.9h3v3h-3zM614.3 388.7h3v3h-3zM619.7 389.9h3v3h-3zM607.9 391.2h3v3h-3zM620.9 393.3h3v3h-3zM607.9 394.3h3v3h-3zM611.7 394.5h3v3h-3zM608.5 396.8h3v3h-3zM609.2 398.2h3v3h-3zM620.9 398.7h3v3h-3zM613.3 399.4h3v3h-3zM621.7 402.9h3v3h-3zM621.0 403.7h3v3h-3zM608.6 405.0h3v3h-3zM620.1 406.7h3v3h-3zM615.7 407.8h3v3h-3zM619.3 408.8h3v3h-3z"/>
<path fill="#4169eb" fill-opacity="0.05" d="M620.6 263.8h3v3h-3zM616.2 264.4h3v3h-3zM616.2 268.7h3v3h-3zM619.5 271.9h3v3h-3zM618.1 276.2h3v3h-3zM612.6 280.5h3v3h-3zM610.7 283.4h3v3h-3zM617.5 285.2h3v3h-3zM622.7 286.5h3v3h-3zM619.3 289.2h3v3h-3zM619.8 292.3h3v3h-3zM612.5 293.9h3v3h-3zM619.5 294.0h3v3h-3zM616.4 296.0h3v3h-3zM620.6 297.4h3v3h-3zM620.3 297.8h3v3h-3zM615.7 298.1h3v3h-3zM618.2 298.5h3v3h-3zM622.3 300.7h3v3h-3zM622.7 303.3h3v3h-3zM612.9 304.9h3v3h-3zM619.5 306.9h3v3h-3zM614.4 307.7h3v3h-3zM609.5 308.3h3v3h-3zM614.9 308.8h3v3h-3zM613.4 310.0h3v3h-3zM611.8 310.2h3v3h-3zM618.0 312.6h3v3h-3zM610.1 314.3h3v3h-3zM620.0 315.3h3v3h-3zM607.9 315.8h3v3h-3zM620.0 316.8h3v3h-3zM623.4 317.4h3v3h-3zM612.8 318.1h3v3h-3zM613.6 319.0h3v3h-3zM620.9 321.4h3v3h-3zM623.1 322.6h3v3h-3zM616.4 323.0h3v3h-3zM610.0 324.2h3v3h-3zM610.9 325.6h3v3h-3zM619.7 326.9h3v3h-3zM618.0 328.5h3v3h-3zM611.3 329.2h3v3h-3zM613.8 329.6h3v3h-3zM618.1 330.4h3v3h-3zM615.4 331.9h3v3h-3zM614.3 332.8h3v3h-3zM613.1 333.1h3v3h-3zM609.9 335.9h3v3h-3zM610.6 338.0h3v3h-3zM614.6 339.3h3v3h-3zM619.6 339.9h3v3h-3zM608.1 341.9h3v3h-3zM619.9 342.6h3v3h-3zM620.6 344.0h3v3h-3zM616.6 345.9h3v3h-3zM617.7 346.7h3v3h-3zM620.1 347.7h3v3h-3zM608.8 348.1h3v3h-3zM619.0 349.8h3v3h-3zM620.4 351.4h3v3h-3zM609.4 353.9h3v3h-3zM613.0 355.5h3v3h-3zM609.7 357.1h3v3h-3zM617.6 359.3h3v3h-3zM618.2 359.5h3v3h-3zM613.1 360.6h3v3h-3zM617.1 361.1h3v3h-3zM611.9 361.9h3v3h-3zM621.6 362.1h3v3h-3zM621.0 363.6h3v3h-3zM621.2 365.0h3v3h-3zM608.4 366.5h3v3h-3zM622.1 367.1h3v3h-3zM608.7 368.3h3v3h-3zM615.3 369.4h3v3h-3zM608.2 370.2h3v3h-3zM613.1 370.8h3v3h-3zM615.3 372.4h3v3h-3zM615.6 373.2h3v3h-3zM622.6 375.0h3v3h-3zM617.8 379.1h3v3h-3zM617.4 380.0h3v3h-3zM612.9 380.9h3v3h-3zM612.6 381.4h3v3h-3zM618.8 381.9h3v3h-3zM623.3 382.2h3v3h-3zM619.7 383.2h3v3h-3zM613.7 384.3h3v3h-3zM608.3 384.8h3v3h-3zM621.5 385.9h3v3h-3zM623.1 386.3h3v3h-3zM618.4 387.2h3v3h-3zM621.7 388.2h3v3h-3zM613.1 388.7h3v3h-3zM613.8 389.7h3v3h-3zM616.3 391.7h3v3h-3zM622.0 393.5h3v3h-3zM614.2 394.3h3v3h-3zM612.3 396.2h3v3h-3zM608.5 397.3h3v3h-3zM615.8 398.8h3v3h-3zM614.1 398.8h3v3h-3zM616.8 400.4h3v3h-3zM610.9 403.2h3v3h-3zM618.6 404.3h3v3h-3zM619.0 404.7h3v3h-3zM616.2 407.3h3v3h-3zM616.9 407.5h3v3h-3zM613.0 409.1h3v3h-3z"/>
<path fill="#65b9ff" fill-opacity="0.05" d="M637.0 268.5h3v3h-3zM642.7 269.3h3v3h-3zM641.4 271.0h3v3h-3zM648.2 273.3h3v3h-3zM646.1 274.5h3v3h-3zM651.4 275.9h3v3h-3zM645.7 278.4h3v3h-3zM643.5 279.8h3v3h-3zM639.3 280.8h3v3h-3zM650.3 282.3h3v3h-3zM648.8 285.0h3v3h-3zM641.6 284.6h3v3h-3zM645.7 285.8h3v3h-3zM649.6 287.0h3v3h-3zM637.2 288.9h3v3h-3zM638.0 290.3h3v3h-3zM645.2 290.6h3v3h-3zM638.6 291.2h3v3h-3zM645.2 292.2h3v3h-3zM646.7 293.4h3v3h-3zM648.1 293.7h3v3h-3zM648.3 296.8h3v3h-3zM646.4 298.4h3v3h-3zM637.4 298.9h3v3h-3zM642.8 299.4h3v3h-3zM645.3 300.5h3v3h-3zM639.6 302.7h3v3h-3zM638.8 303.9h3v3h-3zM641.0 306.8h3v3h-3zM648.2 307.1h3v3h-3zM636.9 308.4h3v3h-3zM644.2 310.0h3v3h-3zM645.0 310.1h3v3h-3zM639.4 311.1h3v3h-3zM649.7 312.4h3v3h-3zM642.4 313.9h3v3h-3zM643.2 314.7h3v3h-3zM650.2 315.2h3v3h-3zM648.9 316.3h3v3h-3zM646.5 316.9h3v3h-3zM648.4 318.0h3v3h-3zM637.7 318.5h3v3h-3zM640.9 319.7h3v3h-3zM647.5 322.9h3v3h-3zM641.4 323.7h3v3h-3zM641.1 325.5h3v3h-3zM647.6 326.4h3v3h-3zM638.3 327.9h3v3h-3zM636.6 329.3h3v3h-3zM640.4 329.5h3v3h-3zM638.1 330.5h3v3h-3zM641.9 330.9h3v3h-3zM636.3 333.7h3v3h-3zM642.2 334.0h3v3h-3zM648.6 335.7h3v3h-3zM645.7 336.7h3v3h-3zM641.0 337.0h3v3h-3zM641.3 338.7h3v3h-3zM647.6 338.8h3v3h-3zM644.7 340.0h3v3h-3zM639.7 341.2h3v3h-3zM645.1 342.1h3v3h-3zM647.3 343.8h3v3h-3zM642.7 344.5h3v3h-3zM645.4 345.2h3v3h-3zM644.3 346.6h3v3h-3zM646.0 347.3h3v3h-3zM643.0 348.6h3v3h-3zM649.5 350.1h3v3h-3zM648.9 350.7h3v3h-3zM640.8 352.1h3v3h-3zM637.9 353.8h3v3h-3zM650.2 354.2h3v3h-3zM644.4 356.3h3v3h-3zM648.8 356.8h3v3h-3zM644.3 357.9h3v3h-3zM644.0 358.4h3v3h-3zM636.6 359.8h3v3h-3zM640.6 361.1h3v3h-3zM636.6 362.4h3v3h-3zM645.3 364.0h3v3h-3zM642.0 364.9h3v3h-3zM635.9 366.1h3v3h-3zM650.1 366.9h3v3h-3zM636.0 369.8h3v3h-3zM644.4 371.7h3v3h-3zM636.0 372.2h3v3h-3zM650.8 373.0h3v3h-3zM639.5 373.5h3v3h-3zM644.4 375.4h3v3h-3zM642.6 378.9h3v3h-3zM639.8 380.5h3v3h-3zM640.1 381.8h3v3h-3zM643.7 383.9h3v3h-3zM646.3 386.2h3v3h-3zM648.6 386.8h3v3h-3zM639.8 389.0h3v3h-3zM640.0 390.6h3v3h-3zM636.3 392.6h3v3h-3zM640.0 393.5h3v3h-3zM640.6 397.2h3v3h-3z"/>
<path fill="#65b9ff" fill-opacity="0.05" d="M637.2 268.3h3v3h-3zM649.1 269.2h3v3h-3zM637.5 271.2h3v3h-3zM651.2 274.3h3v3h-3zM637.4 275.0h3v3h-3zM641.0 277.5h3v3h-3zM637.9 278.5h3v3h-3zM649.8 280.4h3v3h-3zM637.7 280.8h3v3h-3zM637.1 282.5h3v3h-3zM646.8 284.5h3v3h-3zM643.0 284.6h3v3h-3zM645.5 286.6h3v3h-3zM642.6 287.5h3v3h-3zM640.9 289.0h3v3h-3zM637.9 290.4h3v3h-3zM641.1 290.7h3v3h-3zM645.5 291.5h3v3h-3zM638.3 292.9h3v3h-3zM640.0 293.5h3v3h-3zM648.5 294.2h3v3h-3zM646.6 296.5h3v3h-3zM640.2 298.7h3v3h-3zM646.4 298.8h3v3h-3zM636.2 300.0h3v3h-3zM642.2 302.2h3v3h-3zM641.3 303.3h3v3h-3zM644.5 304.8h3v3h-3zM644.8 307.0h3v3h-3zM645.9 307.2h3v3h-3zM639.9 308.4h3v3h-3zM635.9 309.7h3v3h-3zM640.4 310.6h3v3h-3zM650.0 311.6h3v3h-3zM641.5 312.9h3v3h-3zM640.0 313.8h3v3h-3zM649.4 314.7h3v3h-3zM644.5 316.0h3v3h-3zM646.0 316.2h3v3h-3zM650.8 317.5h3v3h-3zM642.1 318.1h3v3h-3zM648.9 318.7h3v3h-3zM646.0 320.3h3v3h-3zM645.1 323.4h3v3h-3zM646.4 324.4h3v3h-3zM646.9 325.6h3v3h-3zM646.8 327.3h3v3h-3zM637.8 328.3h3v3h-3zM637.2 329.4h3v3h-3zM646.9 329.8h3v3h-3zM647.8 330.4h3v3h-3zM640.3 331.9h3v3h-3zM647.4 333.8h3v3h-3zM638.8 334.8h3v3h-3zM642.9 336.5h3v3h-3zM646.8 337.2h3v3h-3zM646.9 337.5h3v3h-3zM647.9 338.7h3v3h-3zM642.5 339.5h3v3h-3zM647.0 340.6h3v3h-3zM637.0 341.6h3v3h-3zM645.4 342.3h3v3h-3zM641.8 343.8h3v3h-3zM639.7 344.7h3v3h-3zM643.4 345.6h3v3h-3zM650.2 347.1h3v3h-3zM639.3 347.8h3v3h-3zM638.1 348.8h3v3h-3zM639.5 350.1h3v3h-3zM640.0 351.4h3v3h-3zM636.2 352.3h3v3h-3zM640.5 353.6h3v3h-3zM643.2 354.8h3v3h-3zM637.7 356.9h3v3h-3zM643.4 357.4h3v3h-3zM639.5 357.5h3v3h-3zM639.4 358.5h3v3h-3zM642.1 360.4h3v3h-3zM637.7 361.8h3v3h-3zM639.4 362.7h3v3h-3zM650.8 364.5h3v3h-3zM642.9 365.1h3v3h-3zM648.8 366.5h3v3h-3zM646.5 366.6h3v3h-3zM643.2 370.8h3v3h-3zM648.2 371.6h3v3h-3zM649.6 372.0h3v3h-3zM646.0 373.4h3v3h-3zM640.3 374.1h3v3h-3zM641.4 375.6h3v3h-3zM644.5 379.1h3v3h-3zM646.5 381.4h3v3h-3zM640.1 382.4h3v3h-3zM647.4 385.3h3v3h-3zM643.6 386.3h3v3h-3zM642.6 388.1h3v3h-3zM642.3 389.8h3v3h-3zM646.0 390.9h3v3h-3zM640.4 393.2h3v3h-3zM649.5 394.8h3v3h-3zM645.7 397.6h3v3h-3z"/>
<path fill="#65b9ff" fill-opacity="0.05" d="M649.8 268.6h3v3h-3zM639.9 269.0h3v3h-3zM651.1 272.1h3v3h-3zM646.7 274.9h3v3h-3zM644.4 275.1h3v3h-3zM646.3 277.8h3v3h-3zM638.5 278.8h3v3h-3zM644.4 280.5h3v3h-3zM644.3 282.5h3v3h-3zM647.7 283.8h3v3h-3zM641.7 284.9h3v3h-3zM647.2 285.1h3v3h-3zM639.7 287.2h3v3h-3zM642.9 288.5h3v3h-3zM647.6 289.8h3v3h-3zM636.7 290.0h3v3h-3zM643.1 291.5h3v3h-3zM649.0 292.0h3v3h-3zM646.8 292.8h3v3h-3zM651.1 293.9h3v3h-3zM644.0 294.6h3v3h-3zM638.4 297.4h3v3h-3zM644.1 298.9h3v3h-3zM642.2 298.7h3v3h-3zM636.1 300.7h3v3h-3zM647.0 302.1h3v3h-3zM639.5 303.2h3v3h-3zM649.7 305.2h3v3h-3zM638.4 306.7h3v3h-3zM638.8 307.6h3v3h-3zM643.5 308.2h3v3h-3zM644.2 309.5h3v3h-3zM651.1 311.1h3v3h-3zM641.4 312.2h3v3h-3zM645.9 313.0h3v3h-3zM642.0 314.2h3v3h-3zM646.5 314.6h3v3h-3zM646.7 315.9h3v3h-3zM651.4 316.9h3v3h-3zM643.7 317.5h3v3h-3zM645.4 318.2h3v3h-3zM637.5 319.0h3v3h-3zM640.5 320.6h3v3h-3zM648.7 323.8h3v3h-3zM642.2 324.9h3v3h-3zM637.6 326.5h3v3h-3zM643.2 327.9h3v3h-3zM639.7 328.2h3v3h-3zM644.4 329.5h3v3h-3zM645.8 329.8h3v3h-3zM643.6 330.7h3v3h-3zM642.3 332.7h3v3h-3zM650.9 334.0h3v3h-3zM649.9 334.8h3v3h-3zM640.7 336.3h3v3h-3zM638.2 337.2h3v3h-3zM637.9 337.9h3v3h-3zM647.1 339.0h3v3h-3zM651.3 339.3h3v3h-3zM649.0 341.3h3v3h-3zM645.8 341.7h3v3h-3zM651.1 343.3h3v3h-3zM651.0 344.5h3v3h-3zM638.2 344.6h3v3h-3zM650.5 346.7h3v3h-3zM636.7 347.1h3v3h-3zM648.0 348.1h3v3h-3zM641.6 349.1h3v3h-3zM650.3 350.9h3v3h-3zM642.5 352.4h3v3h-3zM639.9 352.8h3v3h-3zM639.8 354.4h3v3h-3zM644.4 355.0h3v3h-3zM650.4 356.8h3v3h-3zM636.2 357.7h3v3h-3zM647.2 357.6h3v3h-3zM650.3 359.6h3v3h-3zM650.1 361.1h3v3h-3zM641.2 361.8h3v3h-3zM650.8 363.0h3v3h-3zM640.2 364.4h3v3h-3zM640.2 365.4h3v3h-3zM650.9 366.1h3v3h-3zM639.3 369.4h3v3h-3zM649.0 371.5h3v3h-3zM639.4 371.7h3v3h-3zM641.0 372.8h3v3h-3zM647.1 373.7h3v3h-3zM651.1 374.8h3v3h-3zM637.7 378.4h3v3h-3zM639.4 379.5h3v3h-3zM639.3 381.5h3v3h-3zM637.0 382.5h3v3h-3zM645.7 385.7h3v3h-3zM643.6 387.0h3v3h-3zM637.5 388.8h3v3h-3zM636.7 390.3h3v3h-3zM649.7 392.7h3v3h-3zM643.4 393.0h3v3h-3zM636.8 394.7h3v3h-3zM650.7 398.2h3v3h-3z"/>
</g>
<line x1="476.7" y1="262.6" x2="476.7" y2="285.1" stroke="#222" stroke-width="1.1"/>
<line x1="476.7" y1="311.7" x2="476.7" y2="330.7" stroke="#222" stroke-width="1.1"/>
<rect x="463.9" y="285.1" width="25.6" height="26.6" fill="#233d8d" fill-opacity="0.5" stroke="#1a1a1a" stroke-width="1.1"/>
<line x1="464.4" y1="297.5" x2="489.0" y2="297.5" stroke="#000" stroke-width="3.2"/>
<line x1="504.8" y1="311.4" x2="504.8" y2="337.5" stroke="#222" stroke-width="1.1"/>
<line x1="504.8" y1="374.0" x2="504.8" y2="392.4" stroke="#222" stroke-width="1.1"/>
<rect x="492.0" y="337.5" width="25.6" height="36.5" fill="#4169eb" fill-opacity="0.5" stroke="#1a1a1a" stroke-width="1.1"/>
<line x1="492.5" y1="359.5" x2="517.1" y2="359.5" stroke="#000" stroke-width="3.2"/>
<line x1="532.9" y1="303.8" x2="532.9" y2="333.4" stroke="#222" stroke-width="1.1"/>
<line x1="532.9" y1="353.7" x2="532.9" y2="375.5" stroke="#222" stroke-width="1.1"/>
<rect x="520.1" y="333.4" width="25.6" height="20.3" fill="#65b9ff" fill-opacity="0.5" stroke="#1a1a1a" stroke-width="1.1"/>
<line x1="520.6" y1="347.4" x2="545.2" y2="347.4" stroke="#000" stroke-width="3.2"/>
<line x1="589.1" y1="284.1" x2="589.1" y2="293.4" stroke="#222" stroke-width="1.1"/>
<line x1="589.1" y1="318.5" x2="589.1" y2="351.4" stroke="#222" stroke-width="1.1"/>
<rect x="576.3" y="293.4" width="25.6" height="25.1" fill="#233d8d" fill-opacity="0.5" stroke="#1a1a1a" stroke-width="1.1"/>
<line x1="576.8" y1="302.3" x2="601.4" y2="302.3" stroke="#000" stroke-width="3.2"/>
<line x1="617.1" y1="291.2" x2="617.1" y2="342.0" stroke="#222" stroke-width="1.1"/>
<line x1="617.1" y1="375.5" x2="617.1" y2="421.5" stroke="#222" stroke-width="1.1"/>
<rect x="604.3" y="342.0" width="25.6" height="33.5" fill="#4169eb" fill-opacity="0.5" stroke="#1a1a1a" stroke-width="1.1"/>
<line x1="604.8" y1="365.1" x2="629.4" y2="365.1" stroke="#000" stroke-width="3.2"/>
<line x1="645.2" y1="294.2" x2="645.2" y2="330.9" stroke="#222" stroke-width="1.1"/>
<line x1="645.2" y1="355.5" x2="645.2" y2="392.6" stroke="#222" stroke-width="1.1"/>
<rect x="632.4" y="330.9" width="25.6" height="24.6" fill="#65b9ff" fill-opacity="0.5" stroke="#1a1a1a" stroke-width="1.1"/>
<line x1="632.9" y1="346.4" x2="657.5" y2="346.4" stroke="#000" stroke-width="3.2"/>
</g>
<rect x="437.2" y="240.4" width="247.2" height="196.4" fill="none" stroke="#555" stroke-width="1.2"/>
<line x1="86.5" y1="640.9" x2="94.5" y2="640.9" stroke="#555" stroke-width="1.1"/>
<line x1="86.5" y1="581.3" x2="94.5" y2="581.3" stroke="#555" stroke-width="1.1"/>
<line x1="86.5" y1="521.8" x2="94.5" y2="521.8" stroke="#555" stroke-width="1.1"/>
<line x1="86.5" y1="462.2" x2="94.5" y2="462.2" stroke="#555" stroke-width="1.1"/>
<line x1="162.1" y1="650.0" x2="162.1" y2="658.0" stroke="#555" stroke-width="1.1"/>
<line x1="274.4" y1="650.0" x2="274.4" y2="658.0" stroke="#555" stroke-width="1.1"/>
<g clip-path="url(#cp20)">
<g filter="url(#sb)">
<rect x="237.1" y="636.0" width="18.6" height="6.5" fill="url(#g11)" rx="1.5"/>
<rect x="265.1" y="622.0" width="18.6" height="19.8" fill="url(#g12)" rx="1.5"/>
<rect x="293.2" y="455.0" width="18.6" height="185.0" fill="url(#g13)" rx="1.5"/>
</g>
<g filter="url(#sp)">
<g fill="#233d8d" fill-opacity="0.14"><rect x="130.2" y="639.3" width="3" height="3"/><rect x="139.8" y="639.5" width="3" height="3"/><rect x="138.9" y="637.5" width="3" height="3"/><rect x="135.0" y="639.1" width="3" height="3"/><rect x="131.4" y="639.2" width="3" height="3"/><rect x="137.1" y="636.6" width="3" height="3"/><rect x="130.3" y="638.3" width="3" height="3"/><rect x="127.3" y="636.5" width="3" height="3"/><rect x="127.7" y="635.9" width="3" height="3"/><rect x="138.9" y="639.5" width="3" height="3"/><rect x="137.5" y="637.5" width="3" height="3"/></g>
<g fill="#4169eb" fill-opacity="0.14"><rect x="164.4" y="638.2" width="3" height="3"/><rect x="159.7" y="637.6" width="3" height="3"/><rect x="154.8" y="636.5" width="3" height="3"/><rect x="158.2" y="636.9" width="3" height="3"/><rect x="163.1" y="636.5" width="3" height="3"/><rect x="156.5" y="639.0" width="3" height="3"/><rect x="165.0" y="639.2" width="3" height="3"/><rect x="165.0" y="636.3" width="3" height="3"/><rect x="160.4" y="638.8" width="3" height="3"/><rect x="165.4" y="636.4" width="3" height="3"/><rect x="160.3" y="637.9" width="3" height="3"/></g>
<g fill="#65b9ff" fill-opacity="0.14"><rect x="181.1" y="498.7" width="3" height="3"/><rect x="192.5" y="538.5" width="3" height="3"/><rect x="187.9" y="537.1" width="3" height="3"/><rect x="189.1" y="533.7" width="3" height="3"/><rect x="182.2" y="539.6" width="3" height="3"/><rect x="193.0" y="535.0" width="3" height="3"/><rect x="192.9" y="540.9" width="3" height="3"/><rect x="191.7" y="576.6" width="3" height="3"/><rect x="196.0" y="545.1" width="3" height="3"/><rect x="195.6" y="562.0" width="3" height="3"/><rect x="193.0" y="573.7" width="3" height="3"/><rect x="182.4" y="567.5" width="3" height="3"/><rect x="182.3" y="573.5" width="3" height="3"/><rect x="186.2" y="558.9" width="3" height="3"/><rect x="185.2" y="576.7" width="3" height="3"/><rect x="190.9" y="555.7" width="3" height="3"/><rect x="192.5" y="551.1" width="3" height="3"/><rect x="193.4" y="568.3" width="3" height="3"/><rect x="192.8" y="568.8" width="3" height="3"/><rect x="196.3" y="572.0" width="3" height="3"/><rect x="188.1" y="567.7" width="3" height="3"/><rect x="189.7" y="555.2" width="3" height="3"/><rect x="185.7" y="576.3" width="3" height="3"/><rect x="193.7" y="583.1" width="3" height="3"/><rect x="191.6" y="564.2" width="3" height="3"/><rect x="187.1" y="572.4" width="3" height="3"/><rect x="191.0" y="582.2" width="3" height="3"/><rect x="192.6" y="559.2" width="3" height="3"/><rect x="185.2" y="545.3" width="3" height="3"/><rect x="193.1" y="561.0" width="3" height="3"/><rect x="187.1" y="545.7" width="3" height="3"/><rect x="188.6" y="580.3" width="3" height="3"/><rect x="185.2" y="574.0" width="3" height="3"/><rect x="192.7" y="570.6" width="3" height="3"/><rect x="190.2" y="553.7" width="3" height="3"/><rect x="191.4" y="567.5" width="3" height="3"/><rect x="196.0" y="564.6" width="3" height="3"/><rect x="186.4" y="580.7" width="3" height="3"/><rect x="190.6" y="557.5" width="3" height="3"/><rect x="191.0" y="549.8" width="3" height="3"/><rect x="183.8" y="579.8" width="3" height="3"/><rect x="188.1" y="576.4" width="3" height="3"/><rect x="184.2" y="562.8" width="3" height="3"/><rect x="184.6" y="576.4" width="3" height="3"/><rect x="190.2" y="559.6" width="3" height="3"/><rect x="186.9" y="552.2" width="3" height="3"/><rect x="184.2" y="571.8" width="3" height="3"/><rect x="185.8" y="588.6" width="3" height="3"/><rect x="186.9" y="602.2" width="3" height="3"/><rect x="196.3" y="599.5" width="3" height="3"/><rect x="187.2" y="622.4" width="3" height="3"/><rect x="192.1" y="602.4" width="3" height="3"/><rect x="187.1" y="593.3" width="3" height="3"/><rect x="183.3" y="602.9" width="3" height="3"/><rect x="190.9" y="588.6" width="3" height="3"/><rect x="188.3" y="591.3" width="3" height="3"/><rect x="190.3" y="597.9" width="3" height="3"/><rect x="191.3" y="615.0" width="3" height="3"/><rect x="187.2" y="599.4" width="3" height="3"/><rect x="182.1" y="592.8" width="3" height="3"/><rect x="190.6" y="616.0" width="3" height="3"/><rect x="183.1" y="622.6" width="3" height="3"/><rect x="195.2" y="598.8" width="3" height="3"/><rect x="189.3" y="610.7" width="3" height="3"/><rect x="186.0" y="598.8" width="3" height="3"/><rect x="192.2" y="603.4" width="3" height="3"/><rect x="187.7" y="606.4" width="3" height="3"/><rect x="182.7" y="602.9" width="3" height="3"/><rect x="185.5" y="591.0" width="3" height="3"/><rect x="189.1" y="611.9" width="3" height="3"/><rect x="189.1" y="604.0" width="3" height="3"/><rect x="191.3" y="600.9" width="3" height="3"/><rect x="196.2" y="592.8" width="3" height="3"/><rect x="181.0" y="606.7" width="3" height="3"/><rect x="191.7" y="599.4" width="3" height="3"/><rect x="187.1" y="597.9" width="3" height="3"/><rect x="184.7" y="615.4" width="3" height="3"/><rect x="194.4" y="595.4" width="3" height="3"/><rect x="189.7" y="602.4" width="3" height="3"/><rect x="183.0" y="613.1" width="3" height="3"/><rect x="189.2" y="623.1" width="3" height="3"/><rect x="195.1" y="619.7" width="3" height="3"/><rect x="185.0" y="588.8" width="3" height="3"/><rect x="193.5" y="588.7" width="3" height="3"/><rect x="191.6" y="591.3" width="3" height="3"/><rect x="191.9" y="586.6" width="3" height="3"/><rect x="182.3" y="618.3" width="3" height="3"/><rect x="188.9" y="602.1" width="3" height="3"/><rect x="196.1" y="615.1" width="3" height="3"/><rect x="184.4" y="612.0" width="3" height="3"/><rect x="186.9" y="602.6" width="3" height="3"/><rect x="185.8" y="593.4" width="3" height="3"/><rect x="185.6" y="595.1" width="3" height="3"/><rect x="183.8" y="618.6" width="3" height="3"/><rect x="186.8" y="606.4" width="3" height="3"/><rect x="193.6" y="611.0" width="3" height="3"/><rect x="183.3" y="621.7" width="3" height="3"/><rect x="195.4" y="617.2" width="3" height="3"/><rect x="186.0" y="616.9" width="3" height="3"/><rect x="190.9" y="585.7" width="3" height="3"/><rect x="186.8" y="611.7" width="3" height="3"/><rect x="189.4" y="621.5" width="3" height="3"/><rect x="193.2" y="617.1" width="3" height="3"/><rect x="196.2" y="597.9" width="3" height="3"/><rect x="195.1" y="584.6" width="3" height="3"/><rect x="193.4" y="587.9" width="3" height="3"/><rect x="188.7" y="601.7" width="3" height="3"/><rect x="182.0" y="609.3" width="3" height="3"/><rect x="193.2" y="593.2" width="3" height="3"/><rect x="184.7" y="614.6" width="3" height="3"/><rect x="189.1" y="585.2" width="3" height="3"/><rect x="185.7" y="621.3" width="3" height="3"/><rect x="185.2" y="595.8" width="3" height="3"/><rect x="187.9" y="619.1" width="3" height="3"/><rect x="193.5" y="599.5" width="3" height="3"/><rect x="191.3" y="585.6" width="3" height="3"/><rect x="181.9" y="599.0" width="3" height="3"/><rect x="190.8" y="590.0" width="3" height="3"/><rect x="181.6" y="617.8" width="3" height="3"/><rect x="183.8" y="586.6" width="3" height="3"/><rect x="182.2" y="587.6" width="3" height="3"/><rect x="185.4" y="607.1" width="3" height="3"/><rect x="191.1" y="595.6" width="3" height="3"/><rect x="188.9" y="597.5" width="3" height="3"/><rect x="189.9" y="588.8" width="3" height="3"/><rect x="190.6" y="584.5" width="3" height="3"/><rect x="195.3" y="592.7" width="3" height="3"/><rect x="189.5" y="626.3" width="3" height="3"/><rect x="187.8" y="627.5" width="3" height="3"/><rect x="190.9" y="635.2" width="3" height="3"/><rect x="194.1" y="638.1" width="3" height="3"/><rect x="188.0" y="631.7" width="3" height="3"/><rect x="186.4" y="627.8" width="3" height="3"/><rect x="188.8" y="638.1" width="3" height="3"/><rect x="181.8" y="634.7" width="3" height="3"/><rect x="185.9" y="632.5" width="3" height="3"/><rect x="185.0" y="634.3" width="3" height="3"/><rect x="188.6" y="628.2" width="3" height="3"/><rect x="187.9" y="623.6" width="3" height="3"/><rect x="182.4" y="637.1" width="3" height="3"/><rect x="182.2" y="629.5" width="3" height="3"/><rect x="191.3" y="624.0" width="3" height="3"/><rect x="195.4" y="626.6" width="3" height="3"/><rect x="195.9" y="630.0" width="3" height="3"/><rect x="190.0" y="632.6" width="3" height="3"/><rect x="182.3" y="631.1" width="3" height="3"/><rect x="192.6" y="635.3" width="3" height="3"/><rect x="192.4" y="633.7" width="3" height="3"/><rect x="182.9" y="629.6" width="3" height="3"/><rect x="188.8" y="624.1" width="3" height="3"/><rect x="192.8" y="625.0" width="3" height="3"/><rect x="189.7" y="627.5" width="3" height="3"/><rect x="183.4" y="637.8" width="3" height="3"/><rect x="190.6" y="634.5" width="3" height="3"/><rect x="190.4" y="632.0" width="3" height="3"/><rect x="194.5" y="624.4" width="3" height="3"/><rect x="186.8" y="626.8" width="3" height="3"/><rect x="190.2" y="629.4" width="3" height="3"/><rect x="195.3" y="627.0" width="3" height="3"/><rect x="185.1" y="637.3" width="3" height="3"/><rect x="192.1" y="629.9" width="3" height="3"/><rect x="186.7" y="634.5" width="3" height="3"/></g>
<path fill="#233d8d" fill-opacity="0.05" d="M249.7 635.0h3v3h-3zM247.8 636.2h3v3h-3zM245.3 637.5h3v3h-3zM244.9 639.0h3v3h-3zM239.2 639.4h3v3h-3zM248.6 640.3h3v3h-3zM247.2 640.7h3v3h-3z"/>
<path fill="#233d8d" fill-opacity="0.05" d="M239.6 636.0h3v3h-3zM239.3 636.4h3v3h-3zM247.1 638.6h3v3h-3zM238.3 639.5h3v3h-3zM240.0 639.7h3v3h-3zM250.9 640.2h3v3h-3z"/>
<path fill="#233d8d" fill-opacity="0.05" d="M249.9 635.6h3v3h-3zM243.8 636.8h3v3h-3zM240.3 638.6h3v3h-3zM241.4 639.5h3v3h-3zM251.2 640.1h3v3h-3zM242.9 640.9h3v3h-3z"/>
<path fill="#4169eb" fill-opacity="0.05" d="M268.8 621.2h3v3h-3zM270.4 622.1h3v3h-3zM266.4 625.8h3v3h-3zM269.4 626.6h3v3h-3zM276.1 628.1h3v3h-3zM275.1 630.0h3v3h-3zM270.3 630.6h3v3h-3zM275.0 631.3h3v3h-3zM265.5 632.4h3v3h-3zM268.3 633.4h3v3h-3zM265.7 634.6h3v3h-3zM276.3 635.3h3v3h-3zM274.1 636.0h3v3h-3zM278.9 636.3h3v3h-3zM269.8 636.6h3v3h-3zM276.9 637.5h3v3h-3zM276.7 639.2h3v3h-3z"/>
<path fill="#4169eb" fill-opacity="0.05" d="M267.6 622.2h3v3h-3zM278.6 623.7h3v3h-3zM274.9 626.0h3v3h-3zM275.6 627.4h3v3h-3zM272.7 628.8h3v3h-3zM280.0 629.9h3v3h-3zM275.4 630.6h3v3h-3zM279.0 632.4h3v3h-3zM278.3 632.2h3v3h-3zM271.6 634.1h3v3h-3zM278.5 635.4h3v3h-3zM280.3 635.1h3v3h-3zM268.9 635.9h3v3h-3zM273.2 637.0h3v3h-3zM277.0 637.1h3v3h-3zM280.0 638.2h3v3h-3zM268.2 639.4h3v3h-3z"/>
<path fill="#4169eb" fill-opacity="0.05" d="M280.6 622.0h3v3h-3zM272.9 625.1h3v3h-3zM267.3 626.0h3v3h-3zM270.3 627.9h3v3h-3zM266.0 629.2h3v3h-3zM277.7 629.6h3v3h-3zM272.8 630.6h3v3h-3zM275.0 632.0h3v3h-3zM267.1 633.1h3v3h-3zM278.8 634.0h3v3h-3zM273.9 635.3h3v3h-3zM269.6 635.7h3v3h-3zM275.5 636.4h3v3h-3zM279.9 636.5h3v3h-3zM274.2 637.6h3v3h-3zM279.8 638.8h3v3h-3zM266.2 639.8h3v3h-3z"/>
<path fill="#65b9ff" fill-opacity="0.05" d="M308.6 455.1h3v3h-3zM297.6 458.3h3v3h-3zM308.5 460.3h3v3h-3zM296.2 461.0h3v3h-3zM298.4 462.5h3v3h-3zM295.9 463.6h3v3h-3zM305.6 465.1h3v3h-3zM305.3 467.9h3v3h-3zM302.4 471.1h3v3h-3zM304.1 474.3h3v3h-3zM295.0 476.7h3v3h-3zM300.7 478.2h3v3h-3zM300.3 480.8h3v3h-3zM299.8 482.1h3v3h-3zM302.7 484.1h3v3h-3zM306.4 484.5h3v3h-3zM294.1 488.0h3v3h-3zM300.2 491.2h3v3h-3zM297.3 493.2h3v3h-3zM306.6 495.1h3v3h-3zM308.1 496.9h3v3h-3zM296.4 497.6h3v3h-3zM293.5 500.5h3v3h-3zM295.2 501.3h3v3h-3zM305.8 502.2h3v3h-3zM308.1 504.3h3v3h-3zM295.7 504.8h3v3h-3zM296.5 506.6h3v3h-3zM300.7 509.4h3v3h-3zM302.8 511.1h3v3h-3zM297.7 512.5h3v3h-3zM307.8 513.7h3v3h-3zM307.6 514.3h3v3h-3zM306.0 515.9h3v3h-3zM301.1 516.5h3v3h-3zM301.3 516.9h3v3h-3zM305.7 518.4h3v3h-3zM305.9 521.2h3v3h-3zM307.5 524.3h3v3h-3zM297.9 526.4h3v3h-3zM296.1 526.7h3v3h-3zM297.1 527.8h3v3h-3zM297.8 527.7h3v3h-3zM306.6 529.7h3v3h-3zM300.1 530.9h3v3h-3zM296.0 532.0h3v3h-3zM306.4 534.5h3v3h-3zM296.3 535.8h3v3h-3zM296.4 537.3h3v3h-3zM306.6 539.0h3v3h-3zM303.5 541.5h3v3h-3zM297.0 544.0h3v3h-3zM300.3 544.6h3v3h-3zM293.4 545.1h3v3h-3zM301.0 547.3h3v3h-3zM300.8 548.0h3v3h-3zM299.9 549.6h3v3h-3zM302.1 550.3h3v3h-3zM303.3 551.8h3v3h-3zM308.7 553.3h3v3h-3zM303.1 554.8h3v3h-3zM300.9 555.7h3v3h-3zM305.6 557.1h3v3h-3zM296.5 558.4h3v3h-3zM297.8 559.5h3v3h-3zM296.5 560.3h3v3h-3zM296.2 561.2h3v3h-3zM298.7 562.9h3v3h-3zM299.4 563.8h3v3h-3zM304.2 565.2h3v3h-3zM295.2 565.9h3v3h-3zM307.4 566.9h3v3h-3zM296.7 567.5h3v3h-3zM300.9 569.3h3v3h-3zM307.2 571.5h3v3h-3zM305.2 571.7h3v3h-3zM307.7 576.0h3v3h-3zM298.6 577.0h3v3h-3zM295.2 578.2h3v3h-3zM296.6 578.6h3v3h-3zM297.9 580.3h3v3h-3zM302.4 581.0h3v3h-3zM293.4 581.7h3v3h-3zM302.1 583.5h3v3h-3zM304.2 584.7h3v3h-3zM300.2 585.2h3v3h-3zM293.4 586.7h3v3h-3zM307.0 587.2h3v3h-3zM298.9 589.1h3v3h-3zM307.1 589.5h3v3h-3zM306.9 590.1h3v3h-3zM306.0 592.5h3v3h-3zM299.3 596.9h3v3h-3zM304.3 597.7h3v3h-3zM293.7 599.0h3v3h-3zM294.4 599.8h3v3h-3zM299.1 601.1h3v3h-3zM301.7 602.7h3v3h-3zM301.0 603.4h3v3h-3zM307.3 603.8h3v3h-3zM305.2 604.8h3v3h-3zM298.4 606.1h3v3h-3zM294.2 607.3h3v3h-3zM296.0 608.2h3v3h-3zM294.8 609.2h3v3h-3zM304.4 611.2h3v3h-3zM306.5 612.1h3v3h-3zM303.5 614.3h3v3h-3zM306.9 615.3h3v3h-3zM294.3 616.1h3v3h-3zM296.8 616.7h3v3h-3zM295.6 617.9h3v3h-3zM300.6 618.7h3v3h-3zM306.5 619.8h3v3h-3zM302.8 620.7h3v3h-3zM301.5 622.5h3v3h-3zM299.8 622.4h3v3h-3zM295.7 623.5h3v3h-3zM299.1 623.6h3v3h-3zM304.8 625.2h3v3h-3zM306.6 626.6h3v3h-3zM296.3 626.9h3v3h-3zM293.9 628.5h3v3h-3zM306.5 628.8h3v3h-3zM302.7 630.6h3v3h-3zM295.5 634.0h3v3h-3zM296.3 636.0h3v3h-3zM299.2 636.9h3v3h-3zM308.7 638.2h3v3h-3z"/>
<path fill="#65b9ff" fill-opacity="0.05" d="M302.6 455.6h3v3h-3zM293.7 459.4h3v3h-3zM296.1 460.4h3v3h-3zM305.4 461.7h3v3h-3zM298.4 462.3h3v3h-3zM305.8 464.1h3v3h-3zM303.6 466.2h3v3h-3zM295.7 468.1h3v3h-3zM293.6 474.4h3v3h-3zM296.7 476.3h3v3h-3zM301.6 477.4h3v3h-3zM301.2 478.9h3v3h-3zM296.7 480.9h3v3h-3zM300.7 482.2h3v3h-3zM301.0 484.4h3v3h-3zM307.7 486.1h3v3h-3zM297.0 487.9h3v3h-3zM303.2 492.8h3v3h-3zM305.7 493.6h3v3h-3zM305.6 495.7h3v3h-3zM297.8 497.4h3v3h-3zM300.4 499.0h3v3h-3zM302.2 500.9h3v3h-3zM302.1 501.4h3v3h-3zM293.4 503.0h3v3h-3zM299.2 504.0h3v3h-3zM308.8 505.3h3v3h-3zM303.5 507.1h3v3h-3zM299.5 509.7h3v3h-3zM304.8 511.9h3v3h-3zM296.7 513.9h3v3h-3zM299.8 514.0h3v3h-3zM307.0 514.5h3v3h-3zM307.2 515.7h3v3h-3zM302.1 516.4h3v3h-3zM307.0 517.0h3v3h-3zM294.4 520.3h3v3h-3zM297.6 521.8h3v3h-3zM297.6 525.3h3v3h-3zM293.4 526.3h3v3h-3zM303.8 527.5h3v3h-3zM296.5 527.6h3v3h-3zM307.7 528.0h3v3h-3zM298.5 530.0h3v3h-3zM295.6 530.5h3v3h-3zM308.5 532.4h3v3h-3zM301.8 535.1h3v3h-3zM306.3 536.2h3v3h-3zM299.9 537.6h3v3h-3zM307.5 539.3h3v3h-3zM299.6 541.7h3v3h-3zM302.4 543.7h3v3h-3zM308.1 544.6h3v3h-3zM297.9 545.5h3v3h-3zM307.1 547.3h3v3h-3zM305.6 548.6h3v3h-3zM300.4 550.1h3v3h-3zM295.8 550.8h3v3h-3zM306.9 551.9h3v3h-3zM304.9 553.8h3v3h-3zM295.6 555.7h3v3h-3zM296.4 556.3h3v3h-3zM296.4 557.5h3v3h-3zM306.3 559.0h3v3h-3zM301.2 559.5h3v3h-3zM300.5 560.7h3v3h-3zM298.6 561.5h3v3h-3zM294.0 563.3h3v3h-3zM305.0 564.9h3v3h-3zM298.2 565.1h3v3h-3zM307.7 565.8h3v3h-3zM304.0 567.2h3v3h-3zM302.2 568.2h3v3h-3zM300.1 569.9h3v3h-3zM304.1 571.9h3v3h-3zM296.1 573.8h3v3h-3zM303.8 576.0h3v3h-3zM305.8 577.0h3v3h-3zM307.2 578.3h3v3h-3zM306.5 580.2h3v3h-3zM296.7 580.1h3v3h-3zM302.0 581.0h3v3h-3zM302.4 583.2h3v3h-3zM302.0 584.5h3v3h-3zM301.9 584.9h3v3h-3zM303.0 585.9h3v3h-3zM303.4 587.2h3v3h-3zM308.7 587.6h3v3h-3zM297.1 589.1h3v3h-3zM300.0 590.0h3v3h-3zM304.3 591.0h3v3h-3zM295.7 593.3h3v3h-3zM294.4 596.5h3v3h-3zM296.4 597.7h3v3h-3zM296.4 599.4h3v3h-3zM295.5 600.8h3v3h-3zM307.4 602.5h3v3h-3zM306.6 603.2h3v3h-3zM294.1 603.7h3v3h-3zM300.1 604.5h3v3h-3zM302.3 605.4h3v3h-3zM294.2 607.2h3v3h-3zM293.9 607.5h3v3h-3zM301.2 609.1h3v3h-3zM306.8 610.0h3v3h-3zM295.8 611.2h3v3h-3zM303.9 612.1h3v3h-3zM308.7 614.8h3v3h-3zM308.6 615.4h3v3h-3zM296.6 616.4h3v3h-3zM302.3 617.7h3v3h-3zM296.8 618.4h3v3h-3zM299.1 618.9h3v3h-3zM308.7 619.5h3v3h-3zM297.1 620.8h3v3h-3zM308.3 622.2h3v3h-3zM307.6 622.3h3v3h-3zM306.8 623.2h3v3h-3zM304.9 624.8h3v3h-3zM305.2 625.3h3v3h-3zM300.8 626.8h3v3h-3zM295.7 627.5h3v3h-3zM297.8 628.2h3v3h-3zM299.9 629.9h3v3h-3zM295.4 631.8h3v3h-3zM299.6 634.2h3v3h-3zM295.0 636.8h3v3h-3zM305.4 637.6h3v3h-3z"/>
<path fill="#65b9ff" fill-opacity="0.05" d="M306.1 456.0h3v3h-3zM305.8 459.4h3v3h-3zM293.6 460.6h3v3h-3zM298.9 462.4h3v3h-3zM299.8 463.4h3v3h-3zM300.9 464.0h3v3h-3zM306.7 467.8h3v3h-3zM297.4 470.9h3v3h-3zM299.0 474.2h3v3h-3zM297.4 476.2h3v3h-3zM307.7 477.9h3v3h-3zM298.7 478.6h3v3h-3zM299.8 482.4h3v3h-3zM303.0 483.2h3v3h-3zM295.9 484.5h3v3h-3zM297.1 486.1h3v3h-3zM302.1 489.9h3v3h-3zM296.3 493.0h3v3h-3zM296.9 494.2h3v3h-3zM301.4 496.9h3v3h-3zM299.7 498.0h3v3h-3zM300.7 500.5h3v3h-3zM298.4 500.6h3v3h-3zM306.2 501.7h3v3h-3zM293.2 503.6h3v3h-3zM295.5 504.4h3v3h-3zM296.9 506.6h3v3h-3zM294.0 508.0h3v3h-3zM295.6 510.1h3v3h-3zM300.2 511.6h3v3h-3zM296.9 513.8h3v3h-3zM293.9 514.0h3v3h-3zM296.0 515.1h3v3h-3zM296.8 515.8h3v3h-3zM305.8 516.2h3v3h-3zM301.8 517.4h3v3h-3zM302.8 520.2h3v3h-3zM306.7 522.0h3v3h-3zM297.5 525.9h3v3h-3zM293.7 526.9h3v3h-3zM300.5 527.2h3v3h-3zM298.5 528.0h3v3h-3zM306.0 528.0h3v3h-3zM300.3 530.5h3v3h-3zM304.2 532.4h3v3h-3zM300.0 533.6h3v3h-3zM303.6 535.8h3v3h-3zM296.3 537.3h3v3h-3zM301.9 538.8h3v3h-3zM305.5 539.6h3v3h-3zM299.6 543.6h3v3h-3zM297.8 544.2h3v3h-3zM300.7 544.5h3v3h-3zM294.8 546.3h3v3h-3zM305.9 547.9h3v3h-3zM300.9 548.5h3v3h-3zM302.4 550.4h3v3h-3zM308.4 550.9h3v3h-3zM298.1 552.3h3v3h-3zM293.5 553.7h3v3h-3zM293.7 555.6h3v3h-3zM296.4 556.6h3v3h-3zM297.6 558.2h3v3h-3zM296.1 558.8h3v3h-3zM300.3 559.9h3v3h-3zM299.1 560.6h3v3h-3zM301.3 561.7h3v3h-3zM298.6 563.9h3v3h-3zM308.6 565.0h3v3h-3zM296.4 565.8h3v3h-3zM303.3 566.8h3v3h-3zM294.9 567.3h3v3h-3zM308.7 568.3h3v3h-3zM306.1 570.0h3v3h-3zM299.2 571.9h3v3h-3zM295.6 574.8h3v3h-3zM295.4 576.6h3v3h-3zM294.4 578.0h3v3h-3zM303.2 578.2h3v3h-3zM306.5 580.1h3v3h-3zM300.5 580.8h3v3h-3zM300.7 580.7h3v3h-3zM294.0 583.1h3v3h-3zM307.1 584.3h3v3h-3zM298.7 585.3h3v3h-3zM303.5 586.7h3v3h-3zM305.6 587.1h3v3h-3zM294.2 587.8h3v3h-3zM294.9 590.0h3v3h-3zM302.2 590.1h3v3h-3zM302.2 590.7h3v3h-3zM306.9 594.2h3v3h-3zM295.9 597.1h3v3h-3zM305.6 598.0h3v3h-3zM308.4 599.0h3v3h-3zM304.9 600.5h3v3h-3zM298.4 602.7h3v3h-3zM294.4 603.1h3v3h-3zM298.3 603.9h3v3h-3zM305.6 604.3h3v3h-3zM301.8 606.2h3v3h-3zM302.3 607.5h3v3h-3zM300.4 608.2h3v3h-3zM304.7 609.3h3v3h-3zM301.5 610.9h3v3h-3zM304.1 611.8h3v3h-3zM307.5 613.6h3v3h-3zM305.8 614.6h3v3h-3zM304.9 615.4h3v3h-3zM307.8 616.6h3v3h-3zM301.8 617.8h3v3h-3zM305.8 618.3h3v3h-3zM302.5 619.0h3v3h-3zM305.0 620.1h3v3h-3zM304.3 621.0h3v3h-3zM296.3 622.3h3v3h-3zM294.5 622.3h3v3h-3zM294.0 623.3h3v3h-3zM295.7 624.6h3v3h-3zM297.0 626.6h3v3h-3zM293.5 626.6h3v3h-3zM305.2 628.4h3v3h-3zM301.4 628.3h3v3h-3zM297.7 630.5h3v3h-3zM304.9 632.1h3v3h-3zM303.1 635.1h3v3h-3zM303.9 636.8h3v3h-3zM299.2 637.8h3v3h-3z"/>
</g>
<line x1="122.7" y1="640.4" x2="145.3" y2="640.4" stroke="#000" stroke-width="3.4" stroke-linecap="round"/>
<line x1="150.8" y1="640.4" x2="173.4" y2="640.4" stroke="#000" stroke-width="3.4" stroke-linecap="round"/>
<line x1="190.2" y1="541.4" x2="190.2" y2="586.4" stroke="#222" stroke-width="1.1"/>
<line x1="190.2" y1="625.4" x2="190.2" y2="639.6" stroke="#222" stroke-width="1.1"/>
<rect x="177.4" y="586.4" width="25.6" height="39.0" fill="#65b9ff" fill-opacity="0.5" stroke="#1a1a1a" stroke-width="1.1"/>
<line x1="177.9" y1="606.2" x2="202.5" y2="606.2" stroke="#000" stroke-width="3.2"/>
<line x1="235.1" y1="640.3" x2="257.7" y2="640.3" stroke="#000" stroke-width="3.4" stroke-linecap="round"/>
<line x1="274.4" y1="635.1" x2="274.4" y2="639.3" stroke="#222" stroke-width="1"/>
<line x1="263.1" y1="639.3" x2="285.7" y2="639.3" stroke="#000" stroke-width="3.4" stroke-linecap="round"/>
<line x1="302.5" y1="512.3" x2="302.5" y2="576.5" stroke="#222" stroke-width="1.1"/>
<line x1="302.5" y1="620.4" x2="302.5" y2="639.6" stroke="#222" stroke-width="1.1"/>
<rect x="289.7" y="576.5" width="25.6" height="43.9" fill="#65b9ff" fill-opacity="0.5" stroke="#1a1a1a" stroke-width="1.1"/>
<line x1="290.2" y1="597.8" x2="314.8" y2="597.8" stroke="#000" stroke-width="3.2"/>
</g>
<rect x="94.5" y="453.6" width="247.2" height="196.4" fill="none" stroke="#555" stroke-width="1.2"/>
<line x1="429.2" y1="640.9" x2="437.2" y2="640.9" stroke="#555" stroke-width="1.1"/>
<line x1="429.2" y1="605.2" x2="437.2" y2="605.2" stroke="#555" stroke-width="1.1"/>
<line x1="429.2" y1="569.4" x2="437.2" y2="569.4" stroke="#555" stroke-width="1.1"/>
<line x1="429.2" y1="533.7" x2="437.2" y2="533.7" stroke="#555" stroke-width="1.1"/>
<line x1="429.2" y1="497.9" x2="437.2" y2="497.9" stroke="#555" stroke-width="1.1"/>
<line x1="429.2" y1="462.2" x2="437.2" y2="462.2" stroke="#555" stroke-width="1.1"/>
<line x1="504.8" y1="650.0" x2="504.8" y2="658.0" stroke="#555" stroke-width="1.1"/>
<line x1="617.1" y1="650.0" x2="617.1" y2="658.0" stroke="#555" stroke-width="1.1"/>
<g clip-path="url(#cp21)">
<line x1="476.7" y1="637.0" x2="476.7" y2="637.8" stroke="#222" stroke-width="1.5"/>
<line x1="476.7" y1="641.6" x2="476.7" y2="641.6" stroke="#222" stroke-width="1.1"/>
<rect x="463.9" y="637.8" width="25.6" height="3.8" fill="#233d8d" fill-opacity="0.5" stroke="#1a1a1a" stroke-width="1.1"/>
<line x1="464.4" y1="639.7" x2="489.0" y2="639.7" stroke="#000" stroke-width="3.2"/>
<line x1="504.8" y1="637.0" x2="504.8" y2="638.3" stroke="#222" stroke-width="1.5"/>
<line x1="504.8" y1="641.6" x2="504.8" y2="641.6" stroke="#222" stroke-width="1.1"/>
<rect x="492.0" y="638.3" width="25.6" height="3.3" fill="#4169eb" fill-opacity="0.5" stroke="#1a1a1a" stroke-width="1.1"/>
<line x1="492.5" y1="640.0" x2="517.1" y2="640.0" stroke="#000" stroke-width="3.2"/>
<line x1="532.9" y1="531.5" x2="532.9" y2="585.2" stroke="#222" stroke-width="1.5"/>
<line x1="532.9" y1="623.7" x2="532.9" y2="639.6" stroke="#222" stroke-width="1.1"/>
<rect x="520.1" y="585.2" width="25.6" height="38.5" fill="#65b9ff" fill-opacity="0.5" stroke="#1a1a1a" stroke-width="1.1"/>
<line x1="520.6" y1="606.7" x2="545.2" y2="606.7" stroke="#2f5b82" stroke-width="3.2"/>
<line x1="589.1" y1="630.5" x2="589.1" y2="635.1" stroke="#222" stroke-width="1.5"/>
<line x1="589.1" y1="640.0" x2="589.1" y2="641.0" stroke="#222" stroke-width="1.1"/>
<rect x="576.3" y="635.1" width="25.6" height="4.9" fill="#233d8d" fill-opacity="0.5" stroke="#1a1a1a" stroke-width="1.1"/>
<line x1="576.8" y1="637.6" x2="601.4" y2="637.6" stroke="#000" stroke-width="3.2"/>
<line x1="617.1" y1="621.0" x2="617.1" y2="631.0" stroke="#222" stroke-width="1.5"/>
<line x1="617.1" y1="637.5" x2="617.1" y2="641.5" stroke="#222" stroke-width="1.1"/>
<rect x="604.3" y="631.0" width="25.6" height="6.5" fill="#4169eb" fill-opacity="0.5" stroke="#1a1a1a" stroke-width="1.1"/>
<line x1="604.8" y1="634.3" x2="629.4" y2="634.3" stroke="#000" stroke-width="3.2"/>
<line x1="645.2" y1="483.5" x2="645.2" y2="568.6" stroke="#222" stroke-width="1.5"/>
<line x1="645.2" y1="625.2" x2="645.2" y2="639.6" stroke="#222" stroke-width="1.1"/>
<rect x="632.4" y="568.6" width="25.6" height="56.6" fill="#65b9ff" fill-opacity="0.5" stroke="#1a1a1a" stroke-width="1.1"/>
<line x1="632.9" y1="605.7" x2="657.5" y2="605.7" stroke="#000" stroke-width="3.2"/>
<g filter="url(#sb)">
<rect x="467.4" y="635.0" width="18.6" height="8.0" fill="url(#g14)" rx="1.5"/>
<rect x="495.5" y="636.0" width="18.6" height="7.0" fill="url(#g15)" rx="1.5"/>
<rect x="579.8" y="620.0" width="18.6" height="22.0" fill="url(#g16)" rx="1.5"/>
<rect x="607.8" y="593.0" width="18.6" height="49.0" fill="url(#g17)" rx="1.5"/>
<rect x="635.9" y="455.0" width="18.6" height="184.5" fill="url(#g18)" rx="1.5"/>
</g>
<g filter="url(#sp)">
<path fill="#233d8d" fill-opacity="0.05" d="M476.2 635.5h3v3h-3zM481.3 636.3h3v3h-3zM470.7 637.8h3v3h-3zM482.0 640.2h3v3h-3zM474.4 641.1h3v3h-3z"/>
<path fill="#233d8d" fill-opacity="0.05" d="M477.9 635.9h3v3h-3zM469.1 637.0h3v3h-3zM481.7 638.2h3v3h-3zM473.2 640.9h3v3h-3zM470.9 641.4h3v3h-3z"/>
<path fill="#233d8d" fill-opacity="0.05" d="M470.6 635.6h3v3h-3zM476.0 637.6h3v3h-3zM475.1 638.5h3v3h-3zM474.1 641.4h3v3h-3z"/>
<path fill="#4169eb" fill-opacity="0.05" d="M505.7 635.7h3v3h-3zM510.7 636.2h3v3h-3zM509.8 637.2h3v3h-3zM500.3 638.1h3v3h-3zM509.1 638.7h3v3h-3zM496.1 640.1h3v3h-3zM504.1 641.3h3v3h-3z"/>
<path fill="#4169eb" fill-opacity="0.05" d="M504.7 635.5h3v3h-3zM499.0 636.8h3v3h-3zM501.8 637.5h3v3h-3zM509.8 638.4h3v3h-3zM502.2 638.8h3v3h-3zM497.6 640.7h3v3h-3zM501.5 641.1h3v3h-3z"/>
<path fill="#4169eb" fill-opacity="0.05" d="M500.8 636.3h3v3h-3zM500.2 636.7h3v3h-3zM510.6 638.2h3v3h-3zM497.2 638.8h3v3h-3zM505.9 640.3h3v3h-3zM504.2 641.3h3v3h-3zM505.9 641.4h3v3h-3z"/>
<g fill="#65b9ff" fill-opacity="0.14"><rect x="534.2" y="503.9" width="3" height="3"/><rect x="538.5" y="474.8" width="3" height="3"/><rect x="532.6" y="516.1" width="3" height="3"/><rect x="533.8" y="456.6" width="3" height="3"/><rect x="531.6" y="515.3" width="3" height="3"/><rect x="526.8" y="484.9" width="3" height="3"/><rect x="538.9" y="489.2" width="3" height="3"/><rect x="532.1" y="499.5" width="3" height="3"/><rect x="536.9" y="489.3" width="3" height="3"/><rect x="537.6" y="507.3" width="3" height="3"/><rect x="529.9" y="500.8" width="3" height="3"/><rect x="528.3" y="460.2" width="3" height="3"/><rect x="531.2" y="459.8" width="3" height="3"/><rect x="528.3" y="517.2" width="3" height="3"/><rect x="538.7" y="470.8" width="3" height="3"/><rect x="526.2" y="481.9" width="3" height="3"/><rect x="530.6" y="466.7" width="3" height="3"/><rect x="536.2" y="467.8" width="3" height="3"/><rect x="532.0" y="476.1" width="3" height="3"/><rect x="533.7" y="464.9" width="3" height="3"/><rect x="531.3" y="517.5" width="3" height="3"/><rect x="523.9" y="470.4" width="3" height="3"/><rect x="524.7" y="516.7" width="3" height="3"/><rect x="534.1" y="473.9" width="3" height="3"/><rect x="537.6" y="538.0" width="3" height="3"/><rect x="531.2" y="568.6" width="3" height="3"/><rect x="533.0" y="532.1" width="3" height="3"/><rect x="524.3" y="538.6" width="3" height="3"/><rect x="538.4" y="577.9" width="3" height="3"/><rect x="528.3" y="531.1" width="3" height="3"/><rect x="533.5" y="539.4" width="3" height="3"/><rect x="537.5" y="579.0" width="3" height="3"/><rect x="535.8" y="571.2" width="3" height="3"/><rect x="535.7" y="574.3" width="3" height="3"/><rect x="529.5" y="568.2" width="3" height="3"/><rect x="523.8" y="566.7" width="3" height="3"/><rect x="530.5" y="582.6" width="3" height="3"/><rect x="535.9" y="553.4" width="3" height="3"/><rect x="534.6" y="560.7" width="3" height="3"/><rect x="533.2" y="528.9" width="3" height="3"/><rect x="527.1" y="542.7" width="3" height="3"/><rect x="534.6" y="578.9" width="3" height="3"/><rect x="533.4" y="570.2" width="3" height="3"/><rect x="533.5" y="536.5" width="3" height="3"/><rect x="527.6" y="560.5" width="3" height="3"/><rect x="535.4" y="551.6" width="3" height="3"/><rect x="534.4" y="546.9" width="3" height="3"/><rect x="528.5" y="537.8" width="3" height="3"/><rect x="530.1" y="560.4" width="3" height="3"/><rect x="525.3" y="579.7" width="3" height="3"/><rect x="523.7" y="568.7" width="3" height="3"/><rect x="529.0" y="580.1" width="3" height="3"/><rect x="528.1" y="529.9" width="3" height="3"/><rect x="534.4" y="549.3" width="3" height="3"/><rect x="536.4" y="565.2" width="3" height="3"/><rect x="530.5" y="564.8" width="3" height="3"/><rect x="534.2" y="546.6" width="3" height="3"/><rect x="526.6" y="564.4" width="3" height="3"/><rect x="532.5" y="531.1" width="3" height="3"/><rect x="526.1" y="552.2" width="3" height="3"/><rect x="525.0" y="557.4" width="3" height="3"/><rect x="529.8" y="544.8" width="3" height="3"/><rect x="535.3" y="569.1" width="3" height="3"/><rect x="524.6" y="561.3" width="3" height="3"/><rect x="539.1" y="607.2" width="3" height="3"/><rect x="539.0" y="592.6" width="3" height="3"/><rect x="527.0" y="596.3" width="3" height="3"/><rect x="527.3" y="589.7" width="3" height="3"/><rect x="527.6" y="603.0" width="3" height="3"/><rect x="536.3" y="613.6" width="3" height="3"/><rect x="524.2" y="613.4" width="3" height="3"/><rect x="533.6" y="593.9" width="3" height="3"/><rect x="523.7" y="617.0" width="3" height="3"/><rect x="525.7" y="593.4" width="3" height="3"/><rect x="528.3" y="614.6" width="3" height="3"/><rect x="538.3" y="619.2" width="3" height="3"/><rect x="536.9" y="616.5" width="3" height="3"/><rect x="531.0" y="585.7" width="3" height="3"/><rect x="527.3" y="589.0" width="3" height="3"/><rect x="525.4" y="588.8" width="3" height="3"/><rect x="528.6" y="585.5" width="3" height="3"/><rect x="528.2" y="616.9" width="3" height="3"/><rect x="527.4" y="603.3" width="3" height="3"/><rect x="536.9" y="584.1" width="3" height="3"/><rect x="534.9" y="604.7" width="3" height="3"/><rect x="524.1" y="618.2" width="3" height="3"/><rect x="536.0" y="587.5" width="3" height="3"/><rect x="538.6" y="606.0" width="3" height="3"/><rect x="533.5" y="591.8" width="3" height="3"/><rect x="524.1" y="611.0" width="3" height="3"/><rect x="534.7" y="590.6" width="3" height="3"/><rect x="524.1" y="605.9" width="3" height="3"/><rect x="528.4" y="596.9" width="3" height="3"/><rect x="537.1" y="605.6" width="3" height="3"/><rect x="525.4" y="610.8" width="3" height="3"/><rect x="534.8" y="605.6" width="3" height="3"/><rect x="538.5" y="602.1" width="3" height="3"/><rect x="533.7" y="585.7" width="3" height="3"/><rect x="528.3" y="595.2" width="3" height="3"/><rect x="530.3" y="603.4" width="3" height="3"/><rect x="525.4" y="610.5" width="3" height="3"/><rect x="524.5" y="593.3" width="3" height="3"/><rect x="532.7" y="584.4" width="3" height="3"/><rect x="528.7" y="615.1" width="3" height="3"/><rect x="535.0" y="598.1" width="3" height="3"/><rect x="526.2" y="612.8" width="3" height="3"/><rect x="537.2" y="586.7" width="3" height="3"/><rect x="530.1" y="604.9" width="3" height="3"/><rect x="534.4" y="591.4" width="3" height="3"/><rect x="536.4" y="607.3" width="3" height="3"/><rect x="536.1" y="620.5" width="3" height="3"/><rect x="534.3" y="609.6" width="3" height="3"/><rect x="528.2" y="594.2" width="3" height="3"/><rect x="529.4" y="615.1" width="3" height="3"/><rect x="532.9" y="594.4" width="3" height="3"/><rect x="537.7" y="603.7" width="3" height="3"/><rect x="538.9" y="609.0" width="3" height="3"/><rect x="535.1" y="596.9" width="3" height="3"/><rect x="539.1" y="602.2" width="3" height="3"/><rect x="534.1" y="599.2" width="3" height="3"/><rect x="531.8" y="590.4" width="3" height="3"/><rect x="529.3" y="599.6" width="3" height="3"/><rect x="535.2" y="589.7" width="3" height="3"/><rect x="526.7" y="608.6" width="3" height="3"/><rect x="531.0" y="617.9" width="3" height="3"/><rect x="523.9" y="600.8" width="3" height="3"/><rect x="536.6" y="612.9" width="3" height="3"/><rect x="529.1" y="603.6" width="3" height="3"/><rect x="529.8" y="583.7" width="3" height="3"/><rect x="524.9" y="592.4" width="3" height="3"/><rect x="537.2" y="591.0" width="3" height="3"/><rect x="528.1" y="605.3" width="3" height="3"/><rect x="534.5" y="608.8" width="3" height="3"/><rect x="528.4" y="596.8" width="3" height="3"/><rect x="523.8" y="635.2" width="3" height="3"/><rect x="529.5" y="627.2" width="3" height="3"/><rect x="526.8" y="630.4" width="3" height="3"/><rect x="525.9" y="627.7" width="3" height="3"/><rect x="525.2" y="625.5" width="3" height="3"/><rect x="531.8" y="627.7" width="3" height="3"/><rect x="525.3" y="636.4" width="3" height="3"/><rect x="524.5" y="629.1" width="3" height="3"/><rect x="528.2" y="623.4" width="3" height="3"/><rect x="528.2" y="629.6" width="3" height="3"/><rect x="534.4" y="626.6" width="3" height="3"/><rect x="529.5" y="636.9" width="3" height="3"/><rect x="533.5" y="629.6" width="3" height="3"/><rect x="526.9" y="635.1" width="3" height="3"/><rect x="538.1" y="626.3" width="3" height="3"/><rect x="536.9" y="628.5" width="3" height="3"/><rect x="531.1" y="622.9" width="3" height="3"/><rect x="527.4" y="626.4" width="3" height="3"/><rect x="526.8" y="635.7" width="3" height="3"/><rect x="538.4" y="627.6" width="3" height="3"/><rect x="536.1" y="627.3" width="3" height="3"/><rect x="532.7" y="625.6" width="3" height="3"/><rect x="537.8" y="630.7" width="3" height="3"/><rect x="532.8" y="635.2" width="3" height="3"/><rect x="531.8" y="630.3" width="3" height="3"/><rect x="534.7" y="630.1" width="3" height="3"/><rect x="532.6" y="627.3" width="3" height="3"/><rect x="526.0" y="626.1" width="3" height="3"/><rect x="538.8" y="631.9" width="3" height="3"/><rect x="523.9" y="625.5" width="3" height="3"/></g>
<path fill="#233d8d" fill-opacity="0.05" d="M592.4 620.0h3v3h-3zM594.8 622.2h3v3h-3zM590.1 623.1h3v3h-3zM591.0 624.6h3v3h-3zM585.8 625.9h3v3h-3zM590.8 627.7h3v3h-3zM589.2 630.1h3v3h-3zM591.7 631.6h3v3h-3zM587.9 632.4h3v3h-3zM588.7 634.2h3v3h-3zM581.8 635.2h3v3h-3zM593.1 635.7h3v3h-3zM590.3 639.1h3v3h-3zM585.4 639.8h3v3h-3z"/>
<path fill="#233d8d" fill-opacity="0.05" d="M591.4 620.0h3v3h-3zM590.7 622.6h3v3h-3zM581.1 624.9h3v3h-3zM586.8 625.1h3v3h-3zM589.6 626.4h3v3h-3zM581.2 628.3h3v3h-3zM594.5 630.8h3v3h-3zM583.6 632.0h3v3h-3zM582.2 633.1h3v3h-3zM580.3 634.1h3v3h-3zM584.7 635.2h3v3h-3zM590.3 637.9h3v3h-3zM592.9 639.4h3v3h-3zM582.0 639.7h3v3h-3z"/>
<path fill="#233d8d" fill-opacity="0.05" d="M591.0 621.4h3v3h-3zM582.2 622.7h3v3h-3zM589.0 625.0h3v3h-3zM595.4 626.0h3v3h-3zM585.1 626.2h3v3h-3zM593.7 629.8h3v3h-3zM585.5 631.5h3v3h-3zM589.1 632.0h3v3h-3zM582.2 633.6h3v3h-3zM594.8 634.6h3v3h-3zM580.5 635.7h3v3h-3zM590.6 639.0h3v3h-3zM589.9 639.8h3v3h-3z"/>
<path fill="#4169eb" fill-opacity="0.05" d="M616.2 593.7h3v3h-3zM610.2 594.5h3v3h-3zM612.6 597.4h3v3h-3zM618.2 598.6h3v3h-3zM617.5 599.3h3v3h-3zM611.4 600.0h3v3h-3zM621.3 600.5h3v3h-3zM618.8 602.3h3v3h-3zM619.0 605.0h3v3h-3zM616.3 605.3h3v3h-3zM615.2 606.6h3v3h-3zM612.4 608.4h3v3h-3zM616.9 609.6h3v3h-3zM608.1 610.2h3v3h-3zM608.6 611.4h3v3h-3zM609.7 613.3h3v3h-3zM620.4 613.4h3v3h-3zM621.9 614.5h3v3h-3zM610.6 617.3h3v3h-3zM613.0 618.2h3v3h-3zM621.4 619.4h3v3h-3zM609.2 619.5h3v3h-3zM621.4 620.5h3v3h-3zM618.5 621.0h3v3h-3zM609.0 622.0h3v3h-3zM612.6 624.0h3v3h-3zM618.6 624.5h3v3h-3zM610.1 625.9h3v3h-3zM622.2 626.4h3v3h-3zM615.0 629.7h3v3h-3zM616.6 630.4h3v3h-3zM613.8 632.3h3v3h-3zM614.4 633.9h3v3h-3zM618.5 635.0h3v3h-3zM612.5 635.6h3v3h-3zM620.2 636.5h3v3h-3zM620.2 637.1h3v3h-3zM613.4 637.9h3v3h-3zM609.9 640.0h3v3h-3z"/>
<path fill="#4169eb" fill-opacity="0.05" d="M622.0 595.0h3v3h-3zM615.0 595.7h3v3h-3zM615.1 597.6h3v3h-3zM613.2 599.0h3v3h-3zM623.1 600.3h3v3h-3zM621.5 600.8h3v3h-3zM610.4 600.8h3v3h-3zM616.1 603.1h3v3h-3zM613.6 604.9h3v3h-3zM613.5 606.1h3v3h-3zM616.9 607.2h3v3h-3zM616.8 608.6h3v3h-3zM619.6 609.8h3v3h-3zM613.3 610.5h3v3h-3zM607.9 612.9h3v3h-3zM613.3 613.2h3v3h-3zM607.9 613.3h3v3h-3zM619.4 615.2h3v3h-3zM614.7 617.2h3v3h-3zM622.2 618.2h3v3h-3zM614.0 619.6h3v3h-3zM615.1 619.8h3v3h-3zM611.0 620.6h3v3h-3zM613.8 621.6h3v3h-3zM620.4 622.0h3v3h-3zM622.2 623.7h3v3h-3zM613.7 624.8h3v3h-3zM610.9 626.2h3v3h-3zM619.9 628.5h3v3h-3zM622.7 630.2h3v3h-3zM620.0 631.5h3v3h-3zM613.9 632.4h3v3h-3zM622.8 633.6h3v3h-3zM611.5 635.5h3v3h-3zM617.7 636.2h3v3h-3zM611.3 636.9h3v3h-3zM616.7 637.2h3v3h-3zM613.2 638.7h3v3h-3zM621.6 640.4h3v3h-3z"/>
<path fill="#4169eb" fill-opacity="0.05" d="M622.5 594.6h3v3h-3zM619.0 596.5h3v3h-3zM623.0 598.4h3v3h-3zM623.1 598.6h3v3h-3zM617.0 600.4h3v3h-3zM622.5 600.8h3v3h-3zM608.9 601.4h3v3h-3zM609.7 603.8h3v3h-3zM608.4 605.0h3v3h-3zM621.5 606.6h3v3h-3zM623.1 607.7h3v3h-3zM612.5 609.6h3v3h-3zM611.2 609.9h3v3h-3zM616.0 610.5h3v3h-3zM618.7 612.6h3v3h-3zM612.7 613.0h3v3h-3zM622.8 614.2h3v3h-3zM609.8 615.7h3v3h-3zM608.0 617.5h3v3h-3zM608.4 618.6h3v3h-3zM617.3 619.8h3v3h-3zM617.7 620.3h3v3h-3zM615.8 621.3h3v3h-3zM609.5 622.2h3v3h-3zM619.7 623.0h3v3h-3zM607.8 624.2h3v3h-3zM607.9 625.7h3v3h-3zM614.8 626.1h3v3h-3zM619.0 629.9h3v3h-3zM621.4 630.3h3v3h-3zM613.3 631.7h3v3h-3zM612.5 632.1h3v3h-3zM623.4 634.2h3v3h-3zM621.3 635.1h3v3h-3zM608.1 636.9h3v3h-3zM611.9 637.4h3v3h-3zM619.7 637.8h3v3h-3zM612.9 639.8h3v3h-3z"/>
<path fill="#65b9ff" fill-opacity="0.05" d="M642.2 453.6h3v3h-3zM639.5 455.0h3v3h-3zM641.3 458.2h3v3h-3zM639.1 458.6h3v3h-3zM639.5 458.7h3v3h-3zM642.8 459.6h3v3h-3zM646.1 460.8h3v3h-3zM636.6 461.2h3v3h-3zM641.8 463.9h3v3h-3zM642.2 464.7h3v3h-3zM649.8 466.4h3v3h-3zM645.3 468.7h3v3h-3zM639.0 469.8h3v3h-3zM648.8 471.0h3v3h-3zM640.0 473.5h3v3h-3zM640.2 476.0h3v3h-3zM640.3 476.7h3v3h-3zM640.6 478.0h3v3h-3zM646.7 477.6h3v3h-3zM647.1 480.7h3v3h-3zM648.9 481.1h3v3h-3zM648.3 482.5h3v3h-3zM646.8 483.4h3v3h-3zM649.2 483.3h3v3h-3zM636.6 484.4h3v3h-3zM646.6 484.9h3v3h-3zM642.6 485.6h3v3h-3zM642.2 488.0h3v3h-3zM642.2 489.4h3v3h-3zM646.1 490.1h3v3h-3zM649.2 490.6h3v3h-3zM639.0 491.9h3v3h-3zM642.9 492.8h3v3h-3zM651.4 494.6h3v3h-3zM641.5 495.9h3v3h-3zM638.5 497.7h3v3h-3zM643.3 498.4h3v3h-3zM650.0 500.2h3v3h-3zM638.3 503.0h3v3h-3zM643.1 503.8h3v3h-3zM638.7 505.1h3v3h-3zM639.2 507.7h3v3h-3zM636.7 508.5h3v3h-3zM637.9 509.2h3v3h-3zM638.8 511.5h3v3h-3zM649.3 512.1h3v3h-3zM644.0 513.1h3v3h-3zM645.6 515.1h3v3h-3zM651.1 516.1h3v3h-3zM638.7 518.2h3v3h-3zM641.2 518.6h3v3h-3zM639.2 521.4h3v3h-3zM646.0 522.0h3v3h-3zM636.2 522.6h3v3h-3zM647.3 523.7h3v3h-3zM642.8 524.6h3v3h-3zM638.8 527.1h3v3h-3zM644.1 527.7h3v3h-3zM636.0 530.5h3v3h-3zM644.8 531.6h3v3h-3zM645.7 534.9h3v3h-3zM647.6 535.2h3v3h-3zM648.9 538.2h3v3h-3zM639.5 538.6h3v3h-3zM641.2 539.8h3v3h-3zM638.7 541.7h3v3h-3zM636.3 542.0h3v3h-3zM637.0 544.4h3v3h-3zM645.0 545.4h3v3h-3zM642.4 545.8h3v3h-3zM645.9 547.8h3v3h-3zM642.8 548.4h3v3h-3zM638.9 548.9h3v3h-3zM642.4 549.5h3v3h-3zM639.2 551.0h3v3h-3zM646.3 552.9h3v3h-3zM637.9 554.8h3v3h-3zM641.0 555.1h3v3h-3zM635.9 556.4h3v3h-3zM650.3 556.5h3v3h-3zM641.1 556.5h3v3h-3zM650.5 557.1h3v3h-3zM641.3 559.8h3v3h-3zM643.1 560.1h3v3h-3zM645.5 560.8h3v3h-3zM643.8 560.7h3v3h-3zM642.9 561.2h3v3h-3zM646.2 563.3h3v3h-3zM646.9 566.4h3v3h-3zM646.5 567.5h3v3h-3zM651.1 568.7h3v3h-3zM648.1 569.3h3v3h-3zM642.0 570.2h3v3h-3zM650.8 570.7h3v3h-3zM646.7 572.1h3v3h-3zM637.7 573.0h3v3h-3zM651.2 573.5h3v3h-3zM637.3 574.5h3v3h-3zM641.7 575.6h3v3h-3zM650.2 576.3h3v3h-3zM647.0 577.6h3v3h-3zM651.3 579.5h3v3h-3zM636.9 579.8h3v3h-3zM637.2 582.2h3v3h-3zM650.8 584.6h3v3h-3zM638.0 586.8h3v3h-3zM639.1 587.2h3v3h-3zM648.0 588.1h3v3h-3zM642.7 589.3h3v3h-3zM639.4 589.9h3v3h-3zM637.7 590.8h3v3h-3zM647.6 591.9h3v3h-3zM643.1 592.9h3v3h-3zM641.0 594.1h3v3h-3zM651.4 596.4h3v3h-3zM638.3 597.0h3v3h-3zM647.4 598.2h3v3h-3zM644.8 599.2h3v3h-3zM638.7 600.5h3v3h-3zM648.0 603.3h3v3h-3zM644.6 604.1h3v3h-3zM647.5 605.9h3v3h-3zM641.9 606.2h3v3h-3zM640.4 606.8h3v3h-3zM643.2 609.0h3v3h-3zM651.3 610.3h3v3h-3zM643.3 610.5h3v3h-3zM645.2 611.2h3v3h-3zM638.1 612.4h3v3h-3zM641.3 613.3h3v3h-3zM651.0 613.2h3v3h-3zM641.9 613.3h3v3h-3zM646.2 614.2h3v3h-3zM639.6 617.2h3v3h-3zM649.4 618.5h3v3h-3zM650.8 622.0h3v3h-3zM647.7 623.1h3v3h-3zM639.5 624.2h3v3h-3zM641.2 625.6h3v3h-3zM651.3 626.7h3v3h-3zM636.4 628.2h3v3h-3zM647.3 628.9h3v3h-3zM642.6 629.7h3v3h-3zM638.5 631.4h3v3h-3zM646.5 633.1h3v3h-3zM642.1 634.0h3v3h-3zM647.0 634.6h3v3h-3zM641.1 635.7h3v3h-3zM640.2 636.4h3v3h-3z"/>
<path fill="#65b9ff" fill-opacity="0.05" d="M642.7 454.5h3v3h-3zM638.8 455.0h3v3h-3zM642.7 458.1h3v3h-3zM635.9 458.7h3v3h-3zM642.9 459.5h3v3h-3zM646.2 459.6h3v3h-3zM640.3 460.6h3v3h-3zM648.1 461.5h3v3h-3zM642.5 463.6h3v3h-3zM648.0 465.2h3v3h-3zM651.2 468.7h3v3h-3zM649.4 469.7h3v3h-3zM643.7 470.1h3v3h-3zM650.8 471.7h3v3h-3zM645.2 475.8h3v3h-3zM644.7 477.0h3v3h-3zM636.3 477.2h3v3h-3zM648.5 477.9h3v3h-3zM639.9 478.1h3v3h-3zM647.8 481.0h3v3h-3zM646.8 481.6h3v3h-3zM645.6 482.2h3v3h-3zM643.5 483.4h3v3h-3zM637.8 483.9h3v3h-3zM646.4 484.2h3v3h-3zM646.7 484.5h3v3h-3zM637.7 486.4h3v3h-3zM642.2 487.9h3v3h-3zM638.3 489.2h3v3h-3zM642.2 490.9h3v3h-3zM640.2 491.2h3v3h-3zM639.2 492.2h3v3h-3zM647.1 493.1h3v3h-3zM646.4 495.1h3v3h-3zM650.5 496.4h3v3h-3zM646.0 498.5h3v3h-3zM650.5 498.5h3v3h-3zM647.8 500.7h3v3h-3zM649.4 503.4h3v3h-3zM648.9 503.5h3v3h-3zM640.5 505.6h3v3h-3zM644.4 508.3h3v3h-3zM637.2 509.3h3v3h-3zM636.7 509.3h3v3h-3zM650.2 511.2h3v3h-3zM643.7 512.8h3v3h-3zM648.0 513.9h3v3h-3zM646.7 515.6h3v3h-3zM636.9 518.0h3v3h-3zM639.0 518.5h3v3h-3zM639.0 519.7h3v3h-3zM650.5 521.2h3v3h-3zM636.0 522.4h3v3h-3zM637.1 522.6h3v3h-3zM644.9 523.9h3v3h-3zM650.8 525.9h3v3h-3zM638.7 527.7h3v3h-3zM641.7 528.2h3v3h-3zM647.9 530.9h3v3h-3zM639.5 533.0h3v3h-3zM644.6 534.7h3v3h-3zM636.8 536.7h3v3h-3zM638.9 538.8h3v3h-3zM636.8 539.1h3v3h-3zM642.8 541.5h3v3h-3zM640.2 541.6h3v3h-3zM648.5 542.5h3v3h-3zM644.6 544.8h3v3h-3zM643.7 545.2h3v3h-3zM638.8 546.2h3v3h-3zM635.9 547.7h3v3h-3zM642.7 548.3h3v3h-3zM646.4 548.6h3v3h-3zM649.2 549.4h3v3h-3zM643.0 552.2h3v3h-3zM647.5 553.3h3v3h-3zM646.6 554.8h3v3h-3zM638.8 555.9h3v3h-3zM641.1 556.4h3v3h-3zM638.8 556.9h3v3h-3zM638.2 556.9h3v3h-3zM643.5 558.4h3v3h-3zM649.1 559.6h3v3h-3zM639.1 560.2h3v3h-3zM643.3 560.7h3v3h-3zM651.4 561.2h3v3h-3zM648.5 562.2h3v3h-3zM636.3 563.8h3v3h-3zM646.3 566.7h3v3h-3zM645.8 567.9h3v3h-3zM639.2 568.7h3v3h-3zM648.7 570.1h3v3h-3zM640.5 570.8h3v3h-3zM641.8 571.5h3v3h-3zM649.6 572.9h3v3h-3zM646.4 573.4h3v3h-3zM644.3 574.4h3v3h-3zM639.4 575.4h3v3h-3zM636.4 575.6h3v3h-3zM642.4 577.0h3v3h-3zM644.0 579.4h3v3h-3zM645.1 579.0h3v3h-3zM638.3 580.1h3v3h-3zM645.9 583.3h3v3h-3zM641.3 586.2h3v3h-3zM646.1 586.5h3v3h-3zM647.0 588.1h3v3h-3zM647.7 588.3h3v3h-3zM644.6 589.5h3v3h-3zM643.4 590.2h3v3h-3zM645.8 590.6h3v3h-3zM642.8 591.7h3v3h-3zM647.4 592.6h3v3h-3zM640.9 596.0h3v3h-3zM644.9 597.1h3v3h-3zM645.9 597.6h3v3h-3zM640.4 598.6h3v3h-3zM641.6 599.6h3v3h-3zM640.3 601.8h3v3h-3zM644.8 603.0h3v3h-3zM640.1 604.7h3v3h-3zM648.6 606.3h3v3h-3zM648.3 606.8h3v3h-3zM638.2 607.4h3v3h-3zM649.1 609.5h3v3h-3zM649.6 610.1h3v3h-3zM639.2 610.7h3v3h-3zM649.0 611.9h3v3h-3zM637.9 612.9h3v3h-3zM645.9 613.1h3v3h-3zM650.4 613.4h3v3h-3zM646.5 613.5h3v3h-3zM651.4 614.6h3v3h-3zM647.9 617.3h3v3h-3zM650.4 620.4h3v3h-3zM644.0 623.0h3v3h-3zM644.8 623.6h3v3h-3zM650.4 624.2h3v3h-3zM649.1 625.7h3v3h-3zM641.3 627.0h3v3h-3zM640.3 628.2h3v3h-3zM641.7 628.9h3v3h-3zM644.6 630.2h3v3h-3zM643.5 632.0h3v3h-3zM640.1 633.5h3v3h-3zM647.5 634.0h3v3h-3zM643.0 634.5h3v3h-3zM639.9 635.9h3v3h-3zM639.1 637.4h3v3h-3z"/>
<path fill="#65b9ff" fill-opacity="0.05" d="M639.2 454.8h3v3h-3zM650.0 456.7h3v3h-3zM638.3 458.0h3v3h-3zM648.3 458.8h3v3h-3zM650.2 459.8h3v3h-3zM642.4 460.5h3v3h-3zM640.5 461.3h3v3h-3zM650.9 462.6h3v3h-3zM646.6 464.9h3v3h-3zM650.6 465.7h3v3h-3zM640.9 468.6h3v3h-3zM643.6 469.8h3v3h-3zM642.9 470.5h3v3h-3zM648.6 472.7h3v3h-3zM649.2 476.1h3v3h-3zM650.0 476.7h3v3h-3zM650.3 477.2h3v3h-3zM636.8 477.8h3v3h-3zM648.3 479.2h3v3h-3zM641.4 481.1h3v3h-3zM641.6 481.7h3v3h-3zM648.9 482.8h3v3h-3zM640.3 483.1h3v3h-3zM639.8 483.6h3v3h-3zM640.7 484.9h3v3h-3zM639.7 485.2h3v3h-3zM644.0 487.8h3v3h-3zM649.1 488.5h3v3h-3zM648.2 490.3h3v3h-3zM639.9 490.9h3v3h-3zM646.5 491.9h3v3h-3zM647.0 492.0h3v3h-3zM643.1 494.1h3v3h-3zM642.6 495.8h3v3h-3zM641.9 497.1h3v3h-3zM645.0 498.4h3v3h-3zM647.7 499.2h3v3h-3zM641.2 501.1h3v3h-3zM636.1 503.5h3v3h-3zM636.6 505.3h3v3h-3zM644.7 506.4h3v3h-3zM649.4 508.4h3v3h-3zM637.7 509.2h3v3h-3zM644.9 510.9h3v3h-3zM650.3 511.0h3v3h-3zM647.0 513.4h3v3h-3zM648.8 513.7h3v3h-3zM649.1 516.1h3v3h-3zM646.6 518.4h3v3h-3zM645.3 518.9h3v3h-3zM645.2 520.1h3v3h-3zM650.0 521.8h3v3h-3zM639.0 522.8h3v3h-3zM646.6 523.4h3v3h-3zM639.7 523.7h3v3h-3zM646.0 526.4h3v3h-3zM641.7 527.9h3v3h-3zM645.3 529.1h3v3h-3zM645.7 530.5h3v3h-3zM643.8 533.8h3v3h-3zM647.4 535.4h3v3h-3zM648.7 537.5h3v3h-3zM636.8 538.8h3v3h-3zM645.5 539.5h3v3h-3zM639.4 541.0h3v3h-3zM638.1 541.5h3v3h-3zM642.4 543.0h3v3h-3zM644.8 544.7h3v3h-3zM649.7 545.7h3v3h-3zM639.0 547.2h3v3h-3zM643.9 548.2h3v3h-3zM637.5 548.7h3v3h-3zM641.6 549.3h3v3h-3zM650.7 549.7h3v3h-3zM638.1 552.4h3v3h-3zM641.0 553.9h3v3h-3zM643.0 555.4h3v3h-3zM651.3 555.7h3v3h-3zM649.2 556.4h3v3h-3zM644.4 557.0h3v3h-3zM648.5 556.7h3v3h-3zM642.1 559.4h3v3h-3zM646.8 559.7h3v3h-3zM639.2 560.3h3v3h-3zM640.7 560.7h3v3h-3zM645.4 561.3h3v3h-3zM650.7 562.7h3v3h-3zM647.5 564.7h3v3h-3zM645.4 566.6h3v3h-3zM646.1 568.2h3v3h-3zM638.6 569.1h3v3h-3zM650.4 570.1h3v3h-3zM636.6 570.9h3v3h-3zM640.7 572.1h3v3h-3zM639.9 573.0h3v3h-3zM649.3 573.9h3v3h-3zM647.1 574.3h3v3h-3zM647.8 575.1h3v3h-3zM638.3 575.8h3v3h-3zM650.3 577.2h3v3h-3zM647.2 579.0h3v3h-3zM642.8 579.5h3v3h-3zM650.1 581.0h3v3h-3zM644.2 583.6h3v3h-3zM645.8 586.2h3v3h-3zM646.4 587.5h3v3h-3zM643.8 588.3h3v3h-3zM644.1 588.5h3v3h-3zM636.8 589.8h3v3h-3zM641.2 590.1h3v3h-3zM644.5 591.0h3v3h-3zM645.6 591.7h3v3h-3zM636.8 593.2h3v3h-3zM645.2 595.6h3v3h-3zM646.1 597.3h3v3h-3zM649.6 597.9h3v3h-3zM646.2 599.3h3v3h-3zM645.7 599.9h3v3h-3zM639.4 602.8h3v3h-3zM636.6 603.5h3v3h-3zM647.5 605.6h3v3h-3zM649.8 606.4h3v3h-3zM641.2 606.6h3v3h-3zM642.2 608.6h3v3h-3zM638.2 610.5h3v3h-3zM642.6 610.1h3v3h-3zM640.4 610.7h3v3h-3zM638.4 612.2h3v3h-3zM644.9 612.6h3v3h-3zM640.1 613.4h3v3h-3zM650.0 613.1h3v3h-3zM640.7 613.5h3v3h-3zM649.1 615.5h3v3h-3zM643.0 618.1h3v3h-3zM647.8 621.7h3v3h-3zM643.4 622.8h3v3h-3zM651.3 624.1h3v3h-3zM637.1 625.4h3v3h-3zM642.8 626.2h3v3h-3zM638.9 628.2h3v3h-3zM637.0 628.9h3v3h-3zM645.5 629.7h3v3h-3zM638.6 630.4h3v3h-3zM650.7 632.1h3v3h-3zM649.2 633.5h3v3h-3zM649.7 634.6h3v3h-3zM642.3 635.3h3v3h-3zM648.3 635.8h3v3h-3zM650.6 637.8h3v3h-3z"/>
</g>
</g>
<rect x="437.2" y="453.6" width="247.2" height="196.4" fill="none" stroke="#555" stroke-width="1.2"/>
<g font-family="Liberation Sans, sans-serif">
<text x="67.92" y="218.85" font-size="14.8" textLength="9.50" lengthAdjust="spacingAndGlyphs" fill="#1e1e1e">0</text>
<text x="59.04" y="183.08" font-size="14.8" textLength="18.38" lengthAdjust="spacingAndGlyphs" fill="#1e1e1e">50</text>
<text x="50.38" y="147.31" font-size="14.8" textLength="27.04" lengthAdjust="spacingAndGlyphs" fill="#1e1e1e">100</text>
<text x="51.75" y="111.54" font-size="14.8" textLength="25.64" lengthAdjust="spacingAndGlyphs" fill="#1e1e1e">150</text>
<text x="48.43" y="75.77" font-size="14.8" textLength="29.04" lengthAdjust="spacingAndGlyphs" fill="#1e1e1e">200</text>
<text x="49.87" y="40.00" font-size="14.8" textLength="27.56" lengthAdjust="spacingAndGlyphs" fill="#1e1e1e">250</text>
<text x="409.92" y="218.85" font-size="14.8" textLength="9.50" lengthAdjust="spacingAndGlyphs" fill="#1e1e1e">0</text>
<text x="401.04" y="183.08" font-size="14.8" textLength="18.38" lengthAdjust="spacingAndGlyphs" fill="#1e1e1e">50</text>
<text x="392.38" y="147.31" font-size="14.8" textLength="27.04" lengthAdjust="spacingAndGlyphs" fill="#1e1e1e">100</text>
<text x="393.75" y="111.54" font-size="14.8" textLength="25.64" lengthAdjust="spacingAndGlyphs" fill="#1e1e1e">150</text>
<text x="390.43" y="75.77" font-size="14.8" textLength="29.04" lengthAdjust="spacingAndGlyphs" fill="#1e1e1e">200</text>
<text x="391.87" y="40.00" font-size="14.8" textLength="27.56" lengthAdjust="spacingAndGlyphs" fill="#1e1e1e">250</text>
<text x="67.92" y="432.25" font-size="14.8" textLength="9.50" lengthAdjust="spacingAndGlyphs" fill="#1e1e1e">0</text>
<text x="48.20" y="387.50" font-size="14.8" textLength="29.30" lengthAdjust="spacingAndGlyphs" fill="#1e1e1e">0.01</text>
<text x="44.93" y="342.75" font-size="14.8" textLength="32.74" lengthAdjust="spacingAndGlyphs" fill="#1e1e1e">0.02</text>
<text x="44.83" y="298.00" font-size="14.8" textLength="32.66" lengthAdjust="spacingAndGlyphs" fill="#1e1e1e">0.03</text>
<text x="44.12" y="253.25" font-size="14.8" textLength="33.22" lengthAdjust="spacingAndGlyphs" fill="#1e1e1e">0.04</text>
<text x="368.27" y="432.15" font-size="14.8" textLength="51.22" lengthAdjust="spacingAndGlyphs" fill="#1e1e1e">−0.005</text>
<text x="409.92" y="387.44" font-size="14.8" textLength="9.50" lengthAdjust="spacingAndGlyphs" fill="#1e1e1e">0</text>
<text x="376.92" y="342.73" font-size="14.8" textLength="42.60" lengthAdjust="spacingAndGlyphs" fill="#1e1e1e">0.005</text>
<text x="379.97" y="298.02" font-size="14.8" textLength="39.42" lengthAdjust="spacingAndGlyphs" fill="#1e1e1e">0.010</text>
<text x="380.68" y="253.31" font-size="14.8" textLength="38.78" lengthAdjust="spacingAndGlyphs" fill="#1e1e1e">0.015</text>
<text x="67.92" y="645.25" font-size="14.8" textLength="9.50" lengthAdjust="spacingAndGlyphs" fill="#1e1e1e">0</text>
<text x="57.73" y="585.68" font-size="14.8" textLength="19.71" lengthAdjust="spacingAndGlyphs" fill="#1e1e1e">0.1</text>
<text x="55.36" y="526.12" font-size="14.8" textLength="22.24" lengthAdjust="spacingAndGlyphs" fill="#1e1e1e">0.2</text>
<text x="54.64" y="466.55" font-size="14.8" textLength="22.82" lengthAdjust="spacingAndGlyphs" fill="#1e1e1e">0.3</text>
<text x="409.92" y="645.25" font-size="14.8" textLength="9.50" lengthAdjust="spacingAndGlyphs" fill="#1e1e1e">0</text>
<text x="390.20" y="609.51" font-size="14.8" textLength="29.30" lengthAdjust="spacingAndGlyphs" fill="#1e1e1e">0.01</text>
<text x="386.93" y="573.77" font-size="14.8" textLength="32.74" lengthAdjust="spacingAndGlyphs" fill="#1e1e1e">0.02</text>
<text x="386.83" y="538.03" font-size="14.8" textLength="32.66" lengthAdjust="spacingAndGlyphs" fill="#1e1e1e">0.03</text>
<text x="386.12" y="502.29" font-size="14.8" textLength="33.22" lengthAdjust="spacingAndGlyphs" fill="#1e1e1e">0.04</text>
<text x="386.32" y="466.55" font-size="14.8" textLength="33.19" lengthAdjust="spacingAndGlyphs" fill="#1e1e1e">0.05</text>
<text x="145.69" y="678.00" font-size="14.8" textLength="32.03" lengthAdjust="spacingAndGlyphs" fill="#1e1e1e">1 km</text>
<text x="251.85" y="678.00" font-size="14.8" textLength="44.53" lengthAdjust="spacingAndGlyphs" fill="#1e1e1e">100 m</text>
<text x="488.49" y="678.00" font-size="14.8" textLength="32.03" lengthAdjust="spacingAndGlyphs" fill="#1e1e1e">1 km</text>
<text x="594.40" y="678.00" font-size="14.8" textLength="44.53" lengthAdjust="spacingAndGlyphs" fill="#1e1e1e">100 m</text>
<text x="124.20" y="12.80" font-size="17.6" textLength="187.91" lengthAdjust="spacingAndGlyphs" fill="#1e1e1e">Maximum temperature</text>
<text x="468.28" y="12.80" font-size="17.6" textLength="184.58" lengthAdjust="spacingAndGlyphs" fill="#1e1e1e">Minimum temperature</text>
<text x="142.26" y="705.00" font-size="17.6" textLength="152.22" lengthAdjust="spacingAndGlyphs" fill="#1e1e1e">Spatial resolutions</text>
<text x="484.41" y="705.00" font-size="17.6" textLength="152.47" lengthAdjust="spacingAndGlyphs" fill="#1e1e1e">Spatial resolutions</text>
<text transform="translate(13.90,192.36) rotate(-90)" font-size="17.6" textLength="133.90" lengthAdjust="spacingAndGlyphs" fill="#1e1e1e">Climate velocity</text>
<text transform="translate(33.60,198.95) rotate(-90)" font-size="17.6" textLength="148.00" lengthAdjust="spacingAndGlyphs" fill="#1e1e1e">(temporal/spatial)</text>
<text transform="translate(28.80,395.47) rotate(-90)" font-size="17.6" textLength="114.09" lengthAdjust="spacingAndGlyphs" fill="#1e1e1e">Temporal rate</text>
<text transform="translate(39.90,616.74) rotate(-90)" font-size="17.6" textLength="129.92" lengthAdjust="spacingAndGlyphs" fill="#1e1e1e">Spatial gradient</text>
<text x="235.78" y="748.40" font-size="17.6" textLength="66.05" lengthAdjust="spacingAndGlyphs" fill="#1e1e1e">Free–air</text>
<text x="387.41" y="737.80" font-size="17.6" textLength="47.48" lengthAdjust="spacingAndGlyphs" fill="#1e1e1e">Land-</text>
<text x="388.04" y="757.80" font-size="17.6" textLength="61.19" lengthAdjust="spacingAndGlyphs" fill="#1e1e1e">surface</text>
<text x="532.21" y="737.80" font-size="17.6" textLength="59.68" lengthAdjust="spacingAndGlyphs" fill="#1e1e1e">Within–</text>
<text x="531.16" y="757.80" font-size="17.6" textLength="60.04" lengthAdjust="spacingAndGlyphs" fill="#1e1e1e">canopy</text>
<text x="311.75" y="789.00" font-size="17.6" textLength="155.73" lengthAdjust="spacingAndGlyphs" fill="#1e1e1e">Climate conditions</text>
</g>
<line x1="205.9" y1="722" x2="205.9" y2="729.9" stroke="#444" stroke-width="1.1"/>
<line x1="205.9" y1="755.6" x2="205.9" y2="763.5" stroke="#444" stroke-width="1.1"/>
<rect x="186.3" y="729.9" width="39.2" height="25.7" fill="#233d8d" fill-opacity="0.5" stroke="#1a1a1a" stroke-width="1"/>
<line x1="186.3" y1="742.6" x2="225.5" y2="742.6" stroke="#444" stroke-width="1.3"/>
<line x1="357.9" y1="722" x2="357.9" y2="729.9" stroke="#444" stroke-width="1.1"/>
<line x1="357.9" y1="755.6" x2="357.9" y2="763.5" stroke="#444" stroke-width="1.1"/>
<rect x="338.3" y="729.9" width="39.2" height="25.7" fill="#4169eb" fill-opacity="0.5" stroke="#1a1a1a" stroke-width="1"/>
<line x1="338.3" y1="742.6" x2="377.5" y2="742.6" stroke="#444" stroke-width="1.3"/>
<line x1="500.9" y1="722" x2="500.9" y2="729.9" stroke="#444" stroke-width="1.1"/>
<line x1="500.9" y1="755.6" x2="500.9" y2="763.5" stroke="#444" stroke-width="1.1"/>
<rect x="481.3" y="729.9" width="39.2" height="25.7" fill="#65b9ff" fill-opacity="0.5" stroke="#1a1a1a" stroke-width="1"/>
<line x1="481.3" y1="742.6" x2="520.5" y2="742.6" stroke="#444" stroke-width="1.3"/>
</svg></body></html>
